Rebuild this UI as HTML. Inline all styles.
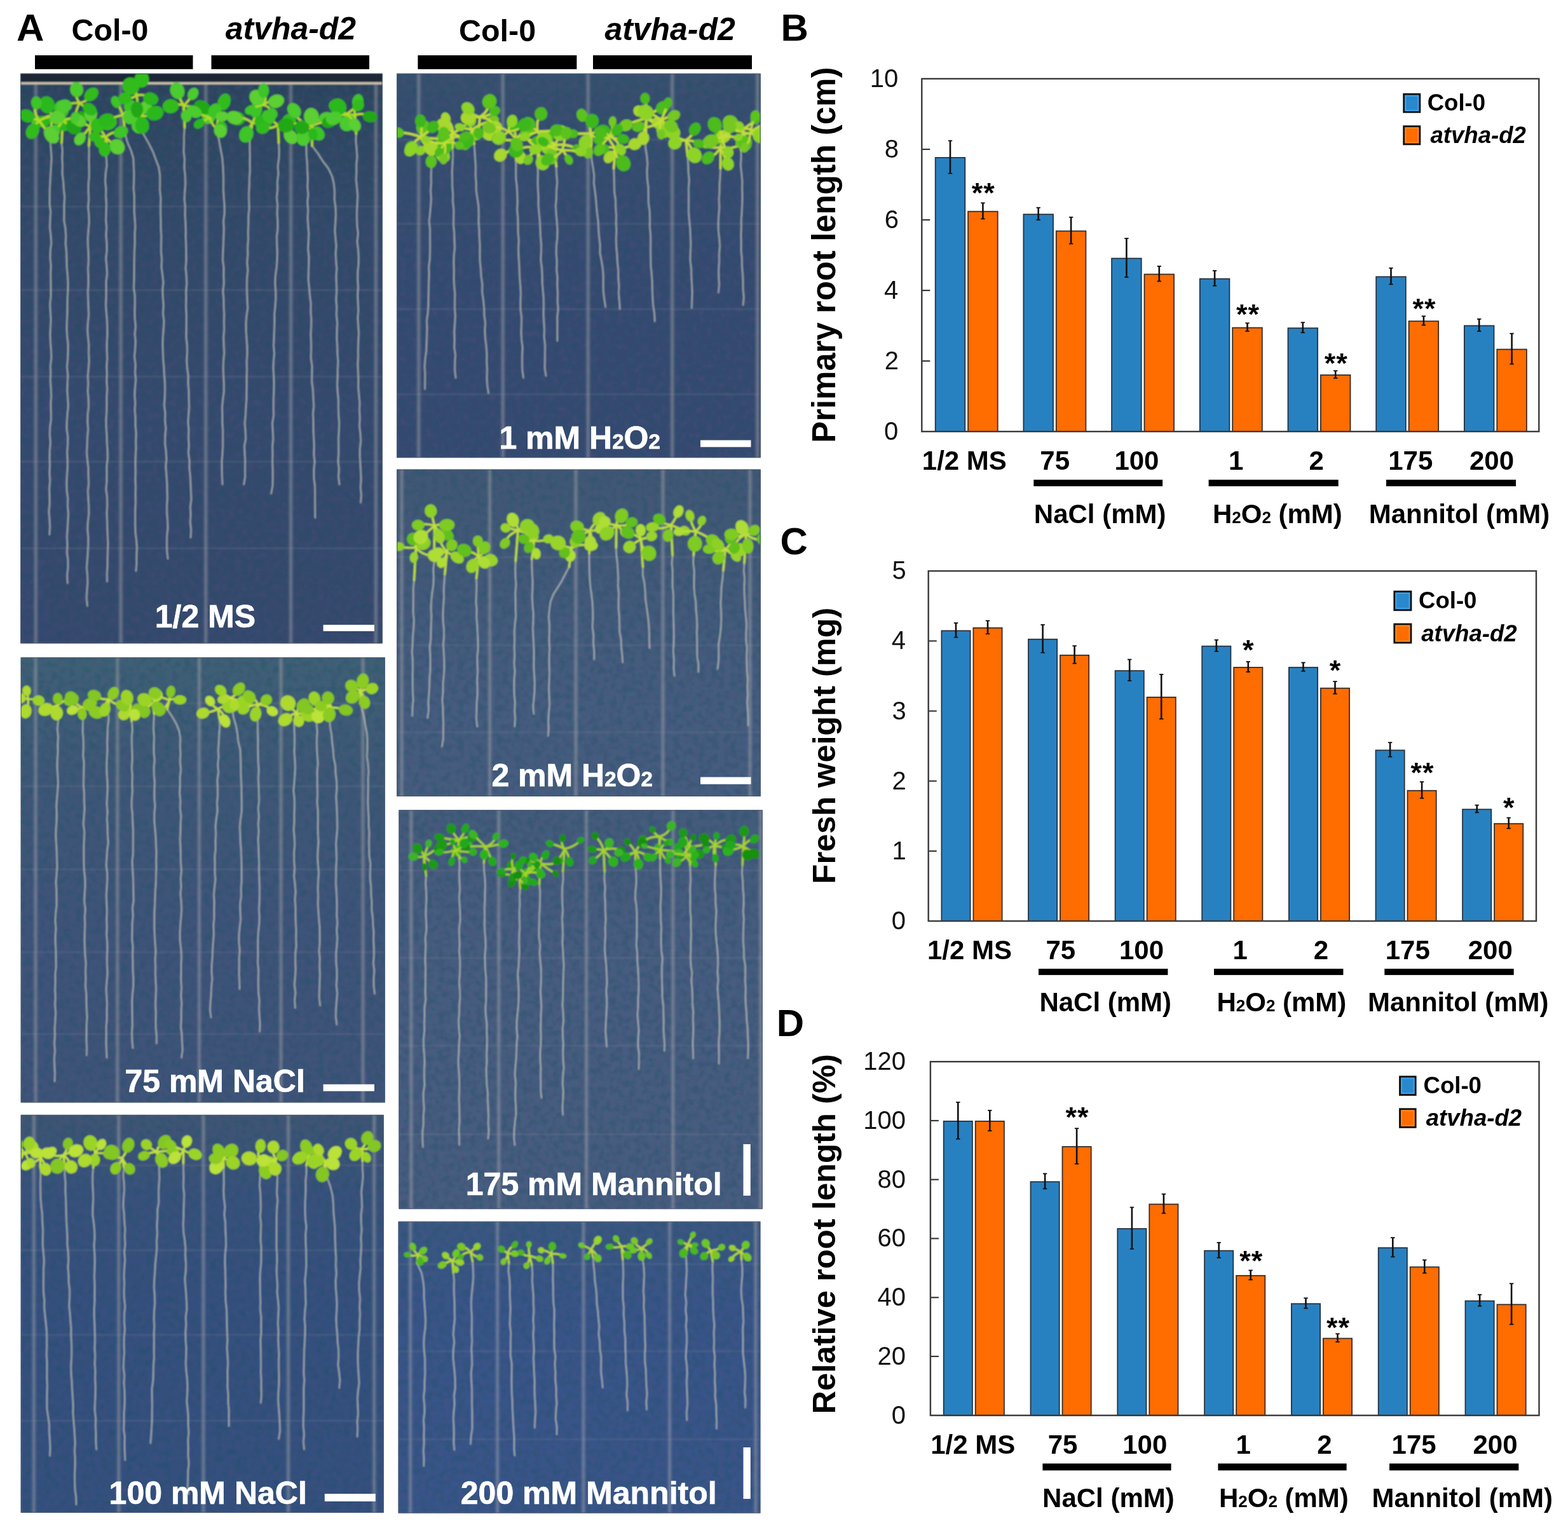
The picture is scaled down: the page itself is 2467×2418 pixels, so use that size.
<!DOCTYPE html>
<html><head><meta charset="utf-8"><title>Figure</title><style>html,body{margin:0;padding:0;background:#fff;}svg{display:block;}text{font-family:"Liberation Sans",Arial,sans-serif;}</style></head><body>
<svg width="2467" height="2418" viewBox="0 0 2467 2418" font-family="Liberation Sans, Arial, sans-serif">
<rect width="2467" height="2418" fill="#fff"/>
<filter id="soft" x="-2%" y="-2%" width="104%" height="104%"><feGaussianBlur stdDeviation="0.8"/></filter>
<filter id="mtA" x="0" y="0" width="100%" height="100%" color-interpolation-filters="sRGB"><feTurbulence type="fractalNoise" baseFrequency="0.1" numOctaves="2" seed="3"/><feColorMatrix type="matrix" values="0 0 0 0 0.12  0 0 0 0 0.32  0 0 0 0 0.40  3.2 0 0 0 -1.35"/></filter>
<filter id="mtB" x="0" y="0" width="100%" height="100%" color-interpolation-filters="sRGB"><feTurbulence type="fractalNoise" baseFrequency="0.1" numOctaves="2" seed="11"/><feColorMatrix type="matrix" values="0 0 0 0 0.32  0 0 0 0 0.31  0 0 0 0 0.50  0 3.2 0 0 -1.35"/></filter>
<text x="25.9" y="63.9" font-size="60.00" font-weight="bold" fill="#000">A</text>
<text x="112.5" y="63.9" font-size="48.40" font-weight="bold" fill="#000">Col-0</text>
<text x="354.8" y="62.3" font-size="49.90" font-weight="bold" font-style="italic" fill="#000">atvha-d2</text>
<text x="722.1" y="64.5" font-size="48.40" font-weight="bold" fill="#000">Col-0</text>
<text x="951.5" y="63.0" font-size="49.90" font-weight="bold" font-style="italic" fill="#000">atvha-d2</text>
<rect x="55" y="87" width="248.5" height="21.8" fill="#000"/>
<rect x="332.5" y="87" width="248.5" height="21.8" fill="#000"/>
<rect x="657.4" y="87" width="250.0" height="21.8" fill="#000"/>
<rect x="933" y="87" width="250.0" height="21.8" fill="#000"/>
<clipPath id="cp1"><rect x="32" y="115.5" width="570" height="896.9"/></clipPath>
<g clip-path="url(#cp1)"><g filter="url(#soft)">
<rect x="32" y="115.5" width="570" height="896.9" fill="#354a6e"/>
<linearGradient id="lg1" x1="0" y1="0" x2="0" y2="1"><stop offset="0" stop-color="#243c4c" stop-opacity="0.55"/><stop offset="0.28" stop-color="#2a4456" stop-opacity="0.2"/><stop offset="0.6" stop-color="#24404e" stop-opacity="0"/><stop offset="1" stop-color="#3a3a6a" stop-opacity="0.15"/></linearGradient>
<rect x="32" y="115.5" width="570" height="896.9" fill="url(#lg1)"/>
<rect x="32" y="115.5" width="570" height="896.9" filter="url(#mtA)" opacity="0.35"/>
<rect x="32" y="115.5" width="570" height="896.9" filter="url(#mtB)" opacity="0.25"/>
<rect x="52.3" y="115.5" width="8" height="896.9" fill="#a8a4ac" opacity="0.2"/>
<rect x="54.8" y="115.5" width="3" height="896.9" fill="#d8d0c8" opacity="0.2"/>
<rect x="186.0" y="115.5" width="8" height="896.9" fill="#a8a4ac" opacity="0.2"/>
<rect x="188.5" y="115.5" width="3" height="896.9" fill="#d8d0c8" opacity="0.2"/>
<rect x="319.8" y="115.5" width="8" height="896.9" fill="#a8a4ac" opacity="0.2"/>
<rect x="322.3" y="115.5" width="3" height="896.9" fill="#d8d0c8" opacity="0.2"/>
<rect x="453.6" y="115.5" width="8" height="896.9" fill="#a8a4ac" opacity="0.2"/>
<rect x="456.1" y="115.5" width="3" height="896.9" fill="#d8d0c8" opacity="0.2"/>
<rect x="587.4" y="115.5" width="8" height="896.9" fill="#a8a4ac" opacity="0.2"/>
<rect x="589.9" y="115.5" width="3" height="896.9" fill="#d8d0c8" opacity="0.2"/>
<rect x="32" y="323.5" width="570" height="3" fill="#a8a0a8" opacity="0.13"/>
<rect x="32" y="454.9" width="570" height="3" fill="#a8a0a8" opacity="0.13"/>
<rect x="32" y="591.1" width="570" height="3" fill="#a8a0a8" opacity="0.13"/>
<rect x="32" y="724.8" width="570" height="3" fill="#a8a0a8" opacity="0.13"/>
<rect x="32" y="861.0" width="570" height="3" fill="#a8a0a8" opacity="0.13"/>
<rect x="32" y="115.5" width="570" height="14" fill="#1c2834"/><rect x="32" y="129.3" width="570" height="3.4" fill="#d2c8b2"/>
<path d="M80.2,212.7 L79.3,224.8 L80.3,236.9 L81.1,248.9 L80.4,261.0 L79.6,273.1 L79.0,285.2 L78.3,297.3 L78.2,309.4 L78.1,321.4 L79.6,333.5 L78.9,345.6 L78.4,357.7 L79.9,369.8 L80.7,381.9 L79.3,393.9 L78.9,406.0 L80.2,418.1 L79.6,430.2 L79.8,442.3 L80.0,454.4 L80.0,466.4 L78.6,478.5 L79.3,490.6 L80.0,502.7 L79.4,514.8 L78.9,526.8 L79.4,538.9 L80.4,551.0 L80.8,563.1 L79.3,575.2 L79.7,587.3 L79.2,599.3 L80.2,611.4 L80.6,623.5 L79.8,635.6 L80.2,647.7 L80.4,659.8 L78.7,671.8 L78.3,683.9 L79.4,696.0 L78.3,708.1 L78.1,720.2 L78.4,732.3 L77.9,744.3 L78.7,756.4 L77.6,768.5 L78.0,780.6 L78.1,792.7 L76.9,804.8 L78.0,816.8 L78.6,828.9 L77.8,841.0" fill="none" stroke="#d0d0c8" stroke-width="2.3" stroke-linecap="round" stroke-linejoin="round" opacity="0.68"/>
<path d="M96.9,224.7 L98.3,236.9 L97.7,249.1 L98.4,261.3 L98.1,273.5 L99.6,285.8 L100.4,298.0 L101.7,310.2 L100.9,322.4 L100.9,334.6 L100.7,346.8 L102.9,359.0 L103.7,371.2 L103.2,383.4 L104.5,395.7 L104.8,407.9 L105.1,420.1 L106.3,432.3 L107.0,444.5 L106.8,456.6 L106.2,468.8 L106.0,480.9 L105.9,493.0 L105.3,505.1 L105.0,517.3 L105.7,529.4 L107.1,541.5 L107.0,553.7 L106.5,565.8 L105.4,577.9 L106.8,590.0 L106.2,602.2 L105.8,614.3 L106.6,626.4 L107.4,638.6 L106.1,650.7 L105.2,662.8 L105.0,674.9 L106.7,687.1 L106.6,699.2 L105.6,711.3 L106.3,723.4 L106.3,735.6 L105.4,747.7 L104.8,759.8 L105.1,772.0 L106.8,784.1 L106.4,796.2 L107.6,808.3 L106.8,820.5 L106.2,832.6 L105.3,844.7 L106.0,856.9 L105.4,869.0 L106.9,881.1 L107.0,893.2 L105.6,905.4 L106.4,917.5" fill="none" stroke="#d0d0c8" stroke-width="2.3" stroke-linecap="round" stroke-linejoin="round" opacity="0.68"/>
<path d="M139.9,229.4 L140.1,241.5 L139.9,253.5 L140.2,265.6 L140.3,277.7 L139.1,289.7 L139.2,301.8 L139.7,313.9 L138.6,325.9 L139.9,338.0 L140.2,350.1 L139.1,362.1 L138.2,374.2 L138.4,386.2 L139.1,398.3 L139.4,410.4 L138.4,422.4 L139.0,434.5 L139.1,446.6 L138.3,458.6 L138.6,470.7 L139.1,482.8 L139.6,494.8 L138.4,506.9 L137.6,519.0 L138.6,531.0 L139.8,543.1 L139.5,555.2 L140.2,567.2 L139.3,579.3 L138.2,591.4 L138.8,603.4 L138.1,615.5 L139.2,627.5 L139.5,639.6 L138.0,651.7 L137.7,663.7 L138.7,675.8 L137.5,687.9 L137.1,699.9 L136.5,712.0 L137.6,724.1 L139.0,736.1 L139.1,748.2 L139.6,760.3 L138.3,772.3 L138.9,784.4 L139.7,796.5 L139.8,808.5 L138.3,820.6 L137.7,832.6 L138.8,844.7 L138.8,856.8 L138.2,868.8 L137.4,880.9 L136.4,893.0 L137.5,905.0 L137.8,917.1 L136.8,929.2 L136.2,941.2 L137.5,953.3" fill="none" stroke="#d0d0c8" stroke-width="2.3" stroke-linecap="round" stroke-linejoin="round" opacity="0.68"/>
<path d="M166.2,236.6 L167.4,248.7 L168.0,260.8 L166.2,272.9 L165.5,285.1 L166.8,297.2 L166.6,309.3 L167.4,321.4 L167.1,333.5 L166.6,345.6 L167.7,357.7 L166.9,369.9 L167.9,382.0 L168.1,394.1 L166.7,406.2 L167.8,418.3 L168.6,430.4 L167.0,442.5 L167.1,454.7 L167.1,466.8 L166.5,478.9 L167.3,491.0 L168.3,503.1 L168.8,515.2 L168.9,527.3 L168.1,539.5 L168.2,551.6 L168.7,563.7 L167.8,575.8 L168.3,587.9 L167.8,600.0 L168.7,612.1 L167.9,624.3 L167.9,636.4 L167.7,648.5 L166.9,660.6 L167.2,672.7 L168.0,684.8 L168.3,696.9 L169.2,709.1 L169.4,721.2 L167.9,733.3 L168.0,745.4 L167.9,757.5 L166.8,769.6 L168.5,781.7 L168.7,793.9 L168.1,806.0 L168.5,818.1 L168.8,830.2 L169.3,842.3 L169.9,854.4 L169.5,866.5 L169.2,878.7 L169.1,890.8 L168.3,902.9 L168.6,915.0" fill="none" stroke="#d0d0c8" stroke-width="2.3" stroke-linecap="round" stroke-linejoin="round" opacity="0.68"/>
<path d="M197.2,212.7 L200.8,224.7 L206.1,236.6 L209.8,248.6 L210.3,260.6 L210.8,272.7 L210.6,284.7 L210.2,296.7 L211.3,308.8 L211.3,320.8 L211.2,332.8 L212.1,344.9 L212.8,356.9 L212.0,368.9 L212.2,380.9 L211.6,393.0 L211.3,405.0 L211.1,417.0 L211.1,429.1 L210.9,441.1 L210.4,453.1 L212.2,465.2 L212.3,477.2 L211.9,489.2 L212.2,501.3 L213.4,513.3 L212.1,525.3 L213.3,537.4 L212.6,549.4 L211.5,561.4 L213.2,573.4 L212.5,585.5 L213.7,597.5 L212.5,609.5 L211.8,621.6 L212.8,633.6 L212.1,645.6 L213.2,657.7 L213.0,669.7 L214.2,681.7 L213.7,693.8 L213.9,705.8 L213.3,717.8 L213.0,729.9 L213.3,741.9 L212.9,753.9 L213.4,766.0 L213.1,778.0 L213.4,790.0 L212.7,802.0 L212.7,814.1 L212.7,826.1 L213.1,838.1 L214.6,850.2 L215.5,862.2 L214.8,874.2 L214.9,886.3 L214.0,898.3" fill="none" stroke="#d0d0c8" stroke-width="2.3" stroke-linecap="round" stroke-linejoin="round" opacity="0.68"/>
<path d="M221.0,203.0 L228.0,215.0 L234.8,227.0 L240.7,238.9 L245.1,250.9 L249.7,262.9 L251.6,275.0 L251.7,287.1 L251.5,299.2 L252.9,311.2 L252.6,323.3 L252.6,335.4 L253.0,347.5 L253.1,359.6 L253.8,371.7 L253.6,383.7 L253.4,395.8 L254.6,407.9 L254.0,420.0 L255.6,432.1 L256.9,444.2 L255.7,456.2 L256.3,468.3 L257.3,480.4 L256.5,492.5 L257.9,504.6 L257.4,516.7 L256.4,528.8 L255.9,540.8 L256.3,552.9 L256.7,565.0 L257.8,577.1 L258.4,589.2 L259.4,601.3 L259.6,613.3 L259.2,625.4 L258.4,637.5 L259.9,649.6 L259.6,661.7 L260.9,673.8 L259.8,685.9 L259.6,697.9 L261.2,710.0 L261.9,722.1 L260.8,734.2 L261.8,746.3 L262.7,758.4 L263.0,770.4 L263.4,782.5 L262.6,794.6 L262.6,806.7 L263.6,818.8 L264.0,830.9 L262.7,842.9 L262.5,855.0 L262.7,867.1 L264.1,879.2" fill="none" stroke="#d0d0c8" stroke-width="2.3" stroke-linecap="round" stroke-linejoin="round" opacity="0.68"/>
<path d="M290.4,200.8 L289.5,213.3 L289.5,225.9 L289.0,238.4 L290.5,250.9 L289.9,263.4 L291.3,275.9 L291.7,288.4 L290.8,300.8 L290.1,313.1 L291.4,325.2 L291.1,337.3 L291.8,349.4 L292.3,361.5 L292.2,373.6 L292.7,385.7 L292.9,397.9 L293.0,410.0 L292.1,422.1 L293.3,434.2 L293.8,446.3 L292.7,458.4 L292.9,470.5 L292.6,482.6 L293.3,494.7 L293.3,506.8 L293.2,518.9 L293.0,531.0 L294.4,543.1 L294.5,555.2 L293.7,567.3 L294.6,579.5 L296.3,591.6 L296.0,603.7 L297.1,615.8 L297.2,627.9 L297.6,640.0 L296.7,652.1 L295.9,664.2 L296.9,676.3 L296.5,688.4 L297.3,700.5 L296.4,712.6 L298.1,724.7 L298.0,736.8 L299.3,748.9 L299.9,761.1 L300.4,773.2 L301.0,785.3 L299.4,797.4 L300.0,809.5 L299.3,821.6 L300.7,833.7 L300.0,845.8" fill="none" stroke="#d0d0c8" stroke-width="2.3" stroke-linecap="round" stroke-linejoin="round" opacity="0.68"/>
<path d="M340.6,205.6 L344.5,219.9 L347.0,234.2 L349.7,248.3 L350.8,261.9 L351.4,274.8 L351.6,287.2 L351.4,299.4 L352.2,311.6 L353.2,323.8 L353.2,336.0 L351.5,348.1 L352.3,360.3 L351.8,372.5 L351.4,384.7 L350.8,396.9 L350.4,409.0 L352.0,421.2 L351.8,433.4 L352.3,445.6 L350.8,457.7 L351.8,469.9 L352.0,482.1 L352.7,494.3 L352.4,506.5 L352.7,518.6 L351.6,530.8 L352.1,543.0 L352.8,555.2 L351.6,567.4 L351.2,579.5 L351.6,591.7 L352.3,603.9 L352.3,616.1 L350.7,628.2 L349.5,640.4 L349.8,652.6 L349.8,664.8 L350.6,677.0 L350.6,689.1 L350.6,701.3 L350.0,713.5 L349.0,725.7 L349.1,737.8 L349.4,750.0 L350.0,762.2" fill="none" stroke="#d0d0c8" stroke-width="2.3" stroke-linecap="round" stroke-linejoin="round" opacity="0.68"/>
<path d="M393.0,220.0 L392.9,232.0 L393.3,244.1 L393.1,256.1 L393.3,268.2 L392.4,280.2 L392.3,292.3 L391.5,304.3 L391.7,316.4 L392.1,328.4 L390.8,340.5 L390.8,352.5 L390.3,364.6 L390.6,376.6 L389.6,388.7 L389.8,400.7 L388.8,412.8 L389.9,424.8 L388.7,436.9 L388.4,448.9 L388.6,461.0 L389.1,473.0 L389.7,485.1 L387.9,497.1 L387.0,509.2 L387.2,521.2 L388.0,533.3 L388.8,545.3 L389.0,557.4 L388.2,569.4 L388.5,581.5 L388.1,593.5 L388.2,605.6 L387.9,617.6 L387.8,629.7 L386.8,641.7 L386.3,653.8 L385.1,665.8 L386.1,677.9 L386.7,689.9 L384.5,702.0 L385.1,714.0 L385.7,726.1 L385.5,738.1 L385.7,750.2 L383.6,762.2" fill="none" stroke="#d0d0c8" stroke-width="2.3" stroke-linecap="round" stroke-linejoin="round" opacity="0.68"/>
<path d="M438.5,224.7 L439.2,237.0 L438.9,249.2 L437.1,261.5 L437.9,273.7 L436.4,286.0 L436.7,298.3 L435.4,310.5 L436.7,322.8 L436.1,335.1 L436.8,347.3 L437.0,359.6 L435.5,371.8 L435.7,384.1 L436.3,396.4 L436.0,408.6 L435.2,420.9 L433.4,433.2 L432.8,445.4 L433.7,457.7 L433.8,469.9 L433.0,482.2 L431.7,494.5 L431.9,506.7 L431.5,519.0 L431.1,531.3 L430.4,543.5 L431.6,555.8 L430.4,568.0 L430.0,580.3 L430.8,592.6 L431.1,604.8 L430.8,617.1 L430.3,629.4 L430.3,641.6 L430.5,653.9 L428.5,666.1 L429.2,678.4 L429.7,690.7 L428.6,702.9 L428.9,715.2 L428.6,727.5 L429.1,739.7 L429.2,752.0 L428.9,764.2 L426.6,776.5" fill="none" stroke="#d0d0c8" stroke-width="2.3" stroke-linecap="round" stroke-linejoin="round" opacity="0.68"/>
<path d="M481.5,220.0 L482.0,232.3 L482.2,244.5 L483.3,256.8 L483.6,269.0 L484.4,281.3 L483.7,293.6 L484.9,305.8 L483.7,318.1 L484.7,330.3 L484.1,342.6 L484.8,354.9 L485.8,367.1 L485.3,379.4 L484.6,391.6 L486.0,403.9 L485.8,416.2 L485.4,428.4 L485.2,440.7 L486.5,452.9 L487.5,465.2 L489.1,477.5 L488.8,489.7 L489.8,502.0 L489.6,514.2 L488.9,526.5 L489.5,538.8 L489.6,551.0 L489.1,563.3 L491.0,575.6 L490.8,588.0 L490.6,600.4 L492.3,613.0 L492.9,625.6 L493.7,638.2 L492.5,650.8 L493.0,663.4 L493.0,676.0 L493.6,688.6 L494.3,701.2 L493.8,713.9 L495.1,726.5 L493.8,739.1 L493.9,751.7 L495.4,764.3 L495.6,776.9 L495.6,789.5 L495.7,802.1 L495.8,814.7" fill="none" stroke="#d0d0c8" stroke-width="2.3" stroke-linecap="round" stroke-linejoin="round" opacity="0.68"/>
<path d="M491.0,229.4 L500.2,241.4 L507.8,253.3 L516.8,265.3 L522.5,277.3 L525.3,289.3 L526.5,301.5 L526.2,313.6 L527.9,325.7 L528.4,337.8 L527.7,349.9 L526.9,362.1 L527.8,374.2 L529.0,386.3 L528.1,398.4 L528.7,410.6 L529.8,422.7 L528.9,434.8 L529.4,446.9 L529.6,459.1 L528.8,471.2 L529.8,483.3 L529.3,495.5 L530.7,507.6 L530.1,519.7 L529.9,531.8 L530.6,544.0 L530.9,556.1 L531.9,568.2 L531.3,580.3 L531.2,592.5 L530.5,604.6 L531.2,616.7 L532.4,628.8 L532.4,641.0 L532.7,653.1 L533.7,665.2 L533.3,677.3 L532.5,689.5 L532.7,701.6 L532.7,713.7 L532.0,725.8 L533.4,738.0 L532.5,750.1 L534.0,762.2" fill="none" stroke="#d0d0c8" stroke-width="2.3" stroke-linecap="round" stroke-linejoin="round" opacity="0.68"/>
<path d="M560.3,210.3 L559.9,222.4 L561.1,234.5 L561.9,246.6 L560.7,258.7 L560.8,270.8 L560.3,282.9 L561.6,295.0 L562.7,307.1 L562.2,319.1 L561.5,331.2 L561.5,343.3 L561.9,355.4 L563.4,367.5 L562.0,379.6 L563.4,391.7 L564.3,403.8 L564.1,415.9 L562.8,428.0 L562.7,440.1 L563.6,452.2 L562.6,464.3 L563.3,476.4 L563.8,488.5 L562.8,500.6 L563.7,512.6 L564.5,524.7 L563.8,536.8 L563.4,548.9 L563.5,561.0 L562.9,573.1 L563.4,585.2 L563.9,597.3 L563.7,609.4 L564.8,621.5 L565.9,633.6 L565.5,645.7 L566.3,657.8 L565.5,669.9 L567.0,682.0 L567.7,694.0 L566.2,706.1 L566.2,718.2 L566.9,730.3 L567.6,742.4 L568.1,754.5 L567.2,766.6 L568.4,778.7 L567.5,790.8" fill="none" stroke="#d0d0c8" stroke-width="2.3" stroke-linecap="round" stroke-linejoin="round" opacity="0.68"/>
<path d="M80.2,212.7 L81.5,181.7" stroke="#b2dc28" stroke-width="3.5" fill="none" stroke-linecap="round"/><path d="M96.9,224.7 L98.9,189.8" stroke="#b2dc28" stroke-width="3.5" fill="none" stroke-linecap="round"/><path d="M139.9,229.4 L142.1,199.2" stroke="#b2dc28" stroke-width="3.5" fill="none" stroke-linecap="round"/><path d="M166.2,236.6 L166.1,216.2" stroke="#b2dc28" stroke-width="3.5" fill="none" stroke-linecap="round"/><path d="M197.2,212.7 L193.6,180.6" stroke="#b2dc28" stroke-width="3.5" fill="none" stroke-linecap="round"/><path d="M221.0,203.0 L222.4,182.5" stroke="#b2dc28" stroke-width="3.5" fill="none" stroke-linecap="round"/><path d="M290.4,200.8 L289.6,166.1" stroke="#b2dc28" stroke-width="3.5" fill="none" stroke-linecap="round"/><path d="M340.6,205.6 L343.6,181.3" stroke="#b2dc28" stroke-width="3.5" fill="none" stroke-linecap="round"/><path d="M393.0,220.0 L397.0,193.4" stroke="#b2dc28" stroke-width="3.5" fill="none" stroke-linecap="round"/><path d="M438.5,224.7 L437.5,196.9" stroke="#b2dc28" stroke-width="3.5" fill="none" stroke-linecap="round"/><path d="M481.5,220.0 L481.4,194.4" stroke="#b2dc28" stroke-width="3.5" fill="none" stroke-linecap="round"/><path d="M491.0,229.4 L490.8,198.1" stroke="#b2dc28" stroke-width="3.5" fill="none" stroke-linecap="round"/><path d="M560.3,210.3 L558.6,180.9" stroke="#b2dc28" stroke-width="3.5" fill="none" stroke-linecap="round"/><path d="M81.5,181.7 Q88.1,174.8 95.6,168.6" fill="none" stroke="#b2dc28" stroke-width="3.5" stroke-linecap="round"/><path d="M81.5,181.7 Q91.2,187.0 99.3,194.0" fill="none" stroke="#b2dc28" stroke-width="3.5" stroke-linecap="round"/><path d="M81.5,181.7 Q68.6,183.1 60.2,192.0" fill="none" stroke="#b2dc28" stroke-width="3.5" stroke-linecap="round"/><path d="M81.5,181.7 Q77.5,173.4 74.1,164.9" fill="none" stroke="#b2dc28" stroke-width="3.5" stroke-linecap="round"/><ellipse cx="95.6" cy="168.6" rx="11.5" ry="9.9" transform="rotate(311 95.6 168.6)" fill="#3cc426"/><ellipse cx="99.3" cy="194.0" rx="13.4" ry="10.8" transform="rotate(401 99.3 194.0)" fill="#2cb81c"/><ellipse cx="60.2" cy="192.0" rx="11.2" ry="8.3" transform="rotate(509 60.2 192.0)" fill="#4ccb2e"/><ellipse cx="74.1" cy="164.9" rx="13.7" ry="11.7" transform="rotate(611 74.1 164.9)" fill="#2cb81c"/><path d="M98.9,189.8 Q106.1,196.6 116.0,199.8" fill="none" stroke="#b2dc28" stroke-width="3.5" stroke-linecap="round"/><path d="M98.9,189.8 Q93.0,199.4 84.7,207.4" fill="none" stroke="#b2dc28" stroke-width="3.5" stroke-linecap="round"/><path d="M98.9,189.8 Q82.7,186.5 66.9,191.1" fill="none" stroke="#b2dc28" stroke-width="3.5" stroke-linecap="round"/><path d="M98.9,189.8 Q93.2,181.5 97.4,172.5" fill="none" stroke="#b2dc28" stroke-width="3.5" stroke-linecap="round"/><path d="M98.9,189.8 Q112.6,184.9 127.3,183.3" fill="none" stroke="#b2dc28" stroke-width="3.5" stroke-linecap="round"/><ellipse cx="116.0" cy="199.8" rx="12.5" ry="10.7" transform="rotate(36 116.0 199.8)" fill="#22a814"/><ellipse cx="84.7" cy="207.4" rx="11.0" ry="9.5" transform="rotate(123 84.7 207.4)" fill="#4ccb2e"/><ellipse cx="66.9" cy="191.1" rx="12.1" ry="8.9" transform="rotate(177 66.9 191.1)" fill="#2cb81c"/><ellipse cx="97.4" cy="172.5" rx="12.2" ry="10.7" transform="rotate(266 97.4 172.5)" fill="#3cc426"/><ellipse cx="127.3" cy="183.3" rx="10.1" ry="8.2" transform="rotate(344 127.3 183.3)" fill="#22a814"/><path d="M142.1,199.2 Q144.1,189.1 142.7,178.8" fill="none" stroke="#b2dc28" stroke-width="3.5" stroke-linecap="round"/><path d="M142.1,199.2 Q156.4,197.0 170.1,192.5" fill="none" stroke="#b2dc28" stroke-width="3.5" stroke-linecap="round"/><path d="M142.1,199.2 Q155.7,208.4 156.5,223.6" fill="none" stroke="#b2dc28" stroke-width="3.5" stroke-linecap="round"/><path d="M142.1,199.2 Q134.5,209.2 125.8,218.4" fill="none" stroke="#b2dc28" stroke-width="3.5" stroke-linecap="round"/><path d="M142.1,199.2 Q132.6,195.4 124.5,189.6" fill="none" stroke="#b2dc28" stroke-width="3.5" stroke-linecap="round"/><ellipse cx="142.7" cy="178.8" rx="12.7" ry="10.2" transform="rotate(271 142.7 178.8)" fill="#5ccf30"/><ellipse cx="170.1" cy="192.5" rx="13.8" ry="12.1" transform="rotate(343 170.1 192.5)" fill="#30bc1e"/><ellipse cx="156.5" cy="223.6" rx="10.2" ry="8.1" transform="rotate(425 156.5 223.6)" fill="#30bc1e"/><ellipse cx="125.8" cy="218.4" rx="10.9" ry="8.2" transform="rotate(484 125.8 218.4)" fill="#5ccf30"/><ellipse cx="124.5" cy="189.6" rx="12.1" ry="9.1" transform="rotate(575 124.5 189.6)" fill="#5ccf30"/><path d="M166.1,216.2 Q161.1,206.3 153.0,198.2" fill="none" stroke="#b2dc28" stroke-width="3.5" stroke-linecap="round"/><path d="M166.1,216.2 Q175.5,206.2 190.1,207.7" fill="none" stroke="#b2dc28" stroke-width="3.5" stroke-linecap="round"/><path d="M166.1,216.2 Q174.2,224.6 184.3,230.9" fill="none" stroke="#b2dc28" stroke-width="3.5" stroke-linecap="round"/><path d="M166.1,216.2 Q171.0,225.8 164.8,234.8" fill="none" stroke="#b2dc28" stroke-width="3.5" stroke-linecap="round"/><path d="M166.1,216.2 Q157.9,212.7 149.2,215.1" fill="none" stroke="#b2dc28" stroke-width="3.5" stroke-linecap="round"/><ellipse cx="153.0" cy="198.2" rx="11.5" ry="10.7" transform="rotate(240 153.0 198.2)" fill="#30bc1e"/><ellipse cx="190.1" cy="207.7" rx="11.7" ry="9.0" transform="rotate(336 190.1 207.7)" fill="#3cc426"/><ellipse cx="184.3" cy="230.9" rx="12.6" ry="11.3" transform="rotate(405 184.3 230.9)" fill="#5ccf30"/><ellipse cx="164.8" cy="234.8" rx="11.4" ry="9.2" transform="rotate(453 164.8 234.8)" fill="#30bc1e"/><ellipse cx="149.2" cy="215.1" rx="9.5" ry="7.9" transform="rotate(545 149.2 215.1)" fill="#30bc1e"/><path d="M193.6,180.6 Q208.7,187.1 217.2,199.9" fill="none" stroke="#b2dc28" stroke-width="3.5" stroke-linecap="round"/><path d="M193.6,180.6 Q180.2,183.9 167.5,189.1" fill="none" stroke="#b2dc28" stroke-width="3.5" stroke-linecap="round"/><path d="M193.6,180.6 Q189.5,169.8 182.4,160.3" fill="none" stroke="#b2dc28" stroke-width="3.5" stroke-linecap="round"/><path d="M193.6,180.6 Q200.6,174.9 204.8,167.3" fill="none" stroke="#b2dc28" stroke-width="3.5" stroke-linecap="round"/><ellipse cx="217.2" cy="199.9" rx="11.0" ry="9.2" transform="rotate(46 217.2 199.9)" fill="#4ccb2e"/><ellipse cx="167.5" cy="189.1" rx="12.8" ry="10.3" transform="rotate(158 167.5 189.1)" fill="#2cb81c"/><ellipse cx="182.4" cy="160.3" rx="9.7" ry="7.2" transform="rotate(246 182.4 160.3)" fill="#3cc426"/><ellipse cx="204.8" cy="167.3" rx="10.4" ry="9.6" transform="rotate(304 204.8 167.3)" fill="#3cc426"/><path d="M222.4,182.5 Q213.6,179.9 205.6,184.3" fill="none" stroke="#b2dc28" stroke-width="3.5" stroke-linecap="round"/><path d="M222.4,182.5 Q227.5,176.2 229.6,168.6" fill="none" stroke="#b2dc28" stroke-width="3.5" stroke-linecap="round"/><path d="M222.4,182.5 Q233.9,183.5 243.7,178.0" fill="none" stroke="#b2dc28" stroke-width="3.5" stroke-linecap="round"/><path d="M222.4,182.5 Q222.6,189.9 223.7,197.2" fill="none" stroke="#b2dc28" stroke-width="3.5" stroke-linecap="round"/><ellipse cx="205.6" cy="184.3" rx="12.2" ry="11.1" transform="rotate(173 205.6 184.3)" fill="#4ccb2e"/><ellipse cx="229.6" cy="168.6" rx="11.0" ry="9.4" transform="rotate(292 229.6 168.6)" fill="#5ccf30"/><ellipse cx="243.7" cy="178.0" rx="13.7" ry="11.3" transform="rotate(345 243.7 178.0)" fill="#2cb81c"/><ellipse cx="223.7" cy="197.2" rx="13.4" ry="10.9" transform="rotate(446 223.7 197.2)" fill="#2cb81c"/><path d="M289.6,166.1 Q278.7,161.6 268.5,167.1" fill="none" stroke="#b2dc28" stroke-width="3.5" stroke-linecap="round"/><path d="M289.6,166.1 Q281.7,155.4 279.0,142.8" fill="none" stroke="#b2dc28" stroke-width="3.5" stroke-linecap="round"/><path d="M289.6,166.1 Q297.8,157.6 303.7,147.7" fill="none" stroke="#b2dc28" stroke-width="3.5" stroke-linecap="round"/><path d="M289.6,166.1 Q304.8,168.8 320.2,170.5" fill="none" stroke="#b2dc28" stroke-width="3.5" stroke-linecap="round"/><path d="M289.6,166.1 Q287.1,175.0 293.0,182.5" fill="none" stroke="#b2dc28" stroke-width="3.5" stroke-linecap="round"/><ellipse cx="268.5" cy="167.1" rx="12.7" ry="11.1" transform="rotate(176 268.5 167.1)" fill="#30bc1e"/><ellipse cx="279.0" cy="142.8" rx="13.3" ry="11.1" transform="rotate(250 279.0 142.8)" fill="#4ccb2e"/><ellipse cx="303.7" cy="147.7" rx="10.2" ry="8.0" transform="rotate(302 303.7 147.7)" fill="#4ccb2e"/><ellipse cx="320.2" cy="170.5" rx="11.0" ry="9.2" transform="rotate(370 320.2 170.5)" fill="#30bc1e"/><ellipse cx="293.0" cy="182.5" rx="9.8" ry="8.1" transform="rotate(441 293.0 182.5)" fill="#4ccb2e"/><path d="M343.6,181.3 Q343.6,169.2 352.7,160.2" fill="none" stroke="#b2dc28" stroke-width="3.5" stroke-linecap="round"/><path d="M343.6,181.3 Q359.7,178.8 373.6,186.4" fill="none" stroke="#b2dc28" stroke-width="3.5" stroke-linecap="round"/><path d="M343.6,181.3 Q350.1,190.6 348.7,201.6" fill="none" stroke="#b2dc28" stroke-width="3.5" stroke-linecap="round"/><path d="M343.6,181.3 Q336.9,186.1 328.3,185.8" fill="none" stroke="#b2dc28" stroke-width="3.5" stroke-linecap="round"/><path d="M343.6,181.3 Q329.4,177.5 318.2,169.0" fill="none" stroke="#b2dc28" stroke-width="3.5" stroke-linecap="round"/><ellipse cx="352.7" cy="160.2" rx="13.5" ry="9.8" transform="rotate(289 352.7 160.2)" fill="#30bc1e"/><ellipse cx="373.6" cy="186.4" rx="12.6" ry="10.6" transform="rotate(372 373.6 186.4)" fill="#22a814"/><ellipse cx="348.7" cy="201.6" rx="11.3" ry="8.7" transform="rotate(439 348.7 201.6)" fill="#30bc1e"/><ellipse cx="328.3" cy="185.8" rx="10.7" ry="8.9" transform="rotate(520 328.3 185.8)" fill="#4ccb2e"/><ellipse cx="318.2" cy="169.0" rx="13.5" ry="10.3" transform="rotate(571 318.2 169.0)" fill="#22a814"/><path d="M397.0,193.4 Q391.1,201.9 387.5,211.4" fill="none" stroke="#b2dc28" stroke-width="3.5" stroke-linecap="round"/><path d="M397.0,193.4 Q385.3,183.3 369.2,185.3" fill="none" stroke="#b2dc28" stroke-width="3.5" stroke-linecap="round"/><path d="M397.0,193.4 Q402.4,183.7 402.9,172.8" fill="none" stroke="#b2dc28" stroke-width="3.5" stroke-linecap="round"/><path d="M397.0,193.4 Q405.8,194.3 414.3,192.0" fill="none" stroke="#b2dc28" stroke-width="3.5" stroke-linecap="round"/><ellipse cx="387.5" cy="211.4" rx="13.2" ry="11.0" transform="rotate(113 387.5 211.4)" fill="#3cc426"/><ellipse cx="369.2" cy="185.3" rx="13.1" ry="10.3" transform="rotate(200 369.2 185.3)" fill="#5ccf30"/><ellipse cx="402.9" cy="172.8" rx="12.7" ry="9.4" transform="rotate(283 402.9 172.8)" fill="#3cc426"/><ellipse cx="414.3" cy="192.0" rx="13.6" ry="12.1" transform="rotate(354 414.3 192.0)" fill="#2cb81c"/><path d="M437.5,196.9 Q426.4,202.9 413.4,201.8" fill="none" stroke="#b2dc28" stroke-width="3.5" stroke-linecap="round"/><path d="M437.5,196.9 Q429.0,191.4 422.8,183.9" fill="none" stroke="#b2dc28" stroke-width="3.5" stroke-linecap="round"/><path d="M437.5,196.9 Q445.5,192.2 454.6,189.9" fill="none" stroke="#b2dc28" stroke-width="3.5" stroke-linecap="round"/><path d="M437.5,196.9 Q451.0,202.8 457.4,215.0" fill="none" stroke="#b2dc28" stroke-width="3.5" stroke-linecap="round"/><ellipse cx="413.4" cy="201.8" rx="10.4" ry="8.8" transform="rotate(166 413.4 201.8)" fill="#30bc1e"/><ellipse cx="422.8" cy="183.9" rx="11.7" ry="9.0" transform="rotate(228 422.8 183.9)" fill="#3cc426"/><ellipse cx="454.6" cy="189.9" rx="11.3" ry="10.4" transform="rotate(333 454.6 189.9)" fill="#30bc1e"/><ellipse cx="457.4" cy="215.0" rx="12.5" ry="9.8" transform="rotate(409 457.4 215.0)" fill="#5ccf30"/><path d="M481.4,194.4 Q497.0,189.5 513.2,186.4" fill="none" stroke="#b2dc28" stroke-width="3.5" stroke-linecap="round"/><path d="M481.4,194.4 Q487.1,205.5 499.9,210.0" fill="none" stroke="#b2dc28" stroke-width="3.5" stroke-linecap="round"/><path d="M481.4,194.4 Q473.8,204.3 477.4,215.9" fill="none" stroke="#b2dc28" stroke-width="3.5" stroke-linecap="round"/><path d="M481.4,194.4 Q465.4,192.3 450.2,197.2" fill="none" stroke="#b2dc28" stroke-width="3.5" stroke-linecap="round"/><path d="M481.4,194.4 Q466.2,188.3 462.8,173.8" fill="none" stroke="#b2dc28" stroke-width="3.5" stroke-linecap="round"/><ellipse cx="513.2" cy="186.4" rx="11.9" ry="10.0" transform="rotate(343 513.2 186.4)" fill="#4ccb2e"/><ellipse cx="499.9" cy="210.0" rx="12.1" ry="9.8" transform="rotate(406 499.9 210.0)" fill="#3cc426"/><ellipse cx="477.4" cy="215.9" rx="13.5" ry="11.0" transform="rotate(458 477.4 215.9)" fill="#4ccb2e"/><ellipse cx="450.2" cy="197.2" rx="12.9" ry="11.1" transform="rotate(534 450.2 197.2)" fill="#22a814"/><ellipse cx="462.8" cy="173.8" rx="12.5" ry="9.9" transform="rotate(594 462.8 173.8)" fill="#4ccb2e"/><path d="M490.8,198.1 Q493.5,204.5 492.3,211.2" fill="none" stroke="#b2dc28" stroke-width="3.5" stroke-linecap="round"/><path d="M490.8,198.1 Q482.5,196.7 475.0,200.2" fill="none" stroke="#b2dc28" stroke-width="3.5" stroke-linecap="round"/><path d="M490.8,198.1 Q487.6,190.8 489.9,183.2" fill="none" stroke="#b2dc28" stroke-width="3.5" stroke-linecap="round"/><path d="M490.8,198.1 Q503.2,191.2 517.8,191.9" fill="none" stroke="#b2dc28" stroke-width="3.5" stroke-linecap="round"/><ellipse cx="492.3" cy="211.2" rx="9.9" ry="7.2" transform="rotate(85 492.3 211.2)" fill="#2cb81c"/><ellipse cx="475.0" cy="200.2" rx="11.9" ry="10.7" transform="rotate(170 475.0 200.2)" fill="#22a814"/><ellipse cx="489.9" cy="183.2" rx="13.4" ry="11.7" transform="rotate(267 489.9 183.2)" fill="#5ccf30"/><ellipse cx="517.8" cy="191.9" rx="11.8" ry="9.0" transform="rotate(344 517.8 191.9)" fill="#22a814"/><path d="M558.6,180.9 Q555.8,189.3 547.0,193.3" fill="none" stroke="#b2dc28" stroke-width="3.5" stroke-linecap="round"/><path d="M558.6,180.9 Q540.6,181.6 530.5,168.3" fill="none" stroke="#b2dc28" stroke-width="3.5" stroke-linecap="round"/><path d="M558.6,180.9 Q555.6,169.6 562.9,160.0" fill="none" stroke="#b2dc28" stroke-width="3.5" stroke-linecap="round"/><path d="M558.6,180.9 Q571.2,176.5 582.1,183.6" fill="none" stroke="#b2dc28" stroke-width="3.5" stroke-linecap="round"/><ellipse cx="547.0" cy="193.3" rx="13.6" ry="11.9" transform="rotate(127 547.0 193.3)" fill="#4ccb2e"/><ellipse cx="530.5" cy="168.3" rx="13.6" ry="10.2" transform="rotate(209 530.5 168.3)" fill="#4ccb2e"/><ellipse cx="562.9" cy="160.0" rx="12.1" ry="8.8" transform="rotate(279 562.9 160.0)" fill="#3cc426"/><ellipse cx="582.1" cy="183.6" rx="11.4" ry="8.9" transform="rotate(368 582.1 183.6)" fill="#22a814"/><path d="M62.0,190.0 Q53.3,196.5 51.2,206.4" fill="none" stroke="#b2dc28" stroke-width="3.7" stroke-linecap="round"/><path d="M62.0,190.0 Q51.8,187.0 42.4,182.3" fill="none" stroke="#b2dc28" stroke-width="3.7" stroke-linecap="round"/><path d="M62.0,190.0 Q51.2,177.0 57.3,161.9" fill="none" stroke="#b2dc28" stroke-width="3.7" stroke-linecap="round"/><path d="M62.0,190.0 Q74.6,180.7 90.2,184.8" fill="none" stroke="#b2dc28" stroke-width="3.7" stroke-linecap="round"/><path d="M62.0,190.0 Q69.6,202.5 81.0,212.3" fill="none" stroke="#b2dc28" stroke-width="3.7" stroke-linecap="round"/><ellipse cx="51.2" cy="206.4" rx="12.7" ry="10.0" transform="rotate(118 51.2 206.4)" fill="#30bc1e"/><ellipse cx="42.4" cy="182.3" rx="12.3" ry="9.8" transform="rotate(206 42.4 182.3)" fill="#2cb81c"/><ellipse cx="57.3" cy="161.9" rx="10.3" ry="8.4" transform="rotate(262 57.3 161.9)" fill="#3cc426"/><ellipse cx="90.2" cy="184.8" rx="12.4" ry="10.7" transform="rotate(347 90.2 184.8)" fill="#5ccf30"/><ellipse cx="81.0" cy="212.3" rx="14.6" ry="10.7" transform="rotate(416 81.0 212.3)" fill="#5ccf30"/><path d="M125.0,162.0 Q117.6,152.3 120.6,140.9" fill="none" stroke="#b2dc28" stroke-width="3.3" stroke-linecap="round"/><path d="M125.0,162.0 Q138.4,159.8 143.6,148.6" fill="none" stroke="#b2dc28" stroke-width="3.3" stroke-linecap="round"/><path d="M125.0,162.0 Q132.1,168.2 141.1,171.8" fill="none" stroke="#b2dc28" stroke-width="3.3" stroke-linecap="round"/><path d="M125.0,162.0 Q119.5,173.3 117.9,185.5" fill="none" stroke="#b2dc28" stroke-width="3.3" stroke-linecap="round"/><path d="M125.0,162.0 Q112.1,161.1 100.9,166.9" fill="none" stroke="#b2dc28" stroke-width="3.3" stroke-linecap="round"/><ellipse cx="120.6" cy="140.9" rx="11.8" ry="10.4" transform="rotate(260 120.6 140.9)" fill="#4ccb2e"/><ellipse cx="143.6" cy="148.6" rx="12.5" ry="9.2" transform="rotate(318 143.6 148.6)" fill="#30bc1e"/><ellipse cx="141.1" cy="171.8" rx="11.8" ry="8.9" transform="rotate(397 141.1 171.8)" fill="#2cb81c"/><ellipse cx="117.9" cy="185.5" rx="9.6" ry="7.1" transform="rotate(464 117.9 185.5)" fill="#4ccb2e"/><ellipse cx="100.9" cy="166.9" rx="12.3" ry="10.2" transform="rotate(526 100.9 166.9)" fill="#4ccb2e"/><path d="M215.0,150.0 Q210.4,142.7 205.8,135.5" fill="none" stroke="#b2dc28" stroke-width="3.5" stroke-linecap="round"/><path d="M215.0,150.0 Q211.4,135.7 222.8,125.2" fill="none" stroke="#b2dc28" stroke-width="3.5" stroke-linecap="round"/><path d="M215.0,150.0 Q227.8,147.2 237.2,155.5" fill="none" stroke="#b2dc28" stroke-width="3.5" stroke-linecap="round"/><path d="M215.0,150.0 Q217.2,161.1 215.6,172.4" fill="none" stroke="#b2dc28" stroke-width="3.5" stroke-linecap="round"/><path d="M215.0,150.0 Q206.9,155.9 196.6,154.6" fill="none" stroke="#b2dc28" stroke-width="3.5" stroke-linecap="round"/><ellipse cx="205.8" cy="135.5" rx="13.9" ry="13.2" transform="rotate(243 205.8 135.5)" fill="#30bc1e"/><ellipse cx="222.8" cy="125.2" rx="12.7" ry="11.6" transform="rotate(284 222.8 125.2)" fill="#30bc1e"/><ellipse cx="237.2" cy="155.5" rx="12.0" ry="9.9" transform="rotate(377 237.2 155.5)" fill="#2cb81c"/><ellipse cx="215.6" cy="172.4" rx="12.7" ry="9.7" transform="rotate(449 215.6 172.4)" fill="#22a814"/><ellipse cx="196.6" cy="154.6" rx="10.3" ry="9.2" transform="rotate(523 196.6 154.6)" fill="#30bc1e"/><path d="M330.0,185.0 Q317.3,181.4 305.6,175.6" fill="none" stroke="#b2dc28" stroke-width="3.3" stroke-linecap="round"/><path d="M330.0,185.0 Q336.2,181.0 338.1,174.4" fill="none" stroke="#b2dc28" stroke-width="3.3" stroke-linecap="round"/><path d="M330.0,185.0 Q339.5,182.0 349.5,183.3" fill="none" stroke="#b2dc28" stroke-width="3.3" stroke-linecap="round"/><path d="M330.0,185.0 Q333.3,198.7 346.7,206.0" fill="none" stroke="#b2dc28" stroke-width="3.3" stroke-linecap="round"/><path d="M330.0,185.0 Q321.4,189.5 313.4,194.8" fill="none" stroke="#b2dc28" stroke-width="3.3" stroke-linecap="round"/><ellipse cx="305.6" cy="175.6" rx="12.5" ry="9.1" transform="rotate(206 305.6 175.6)" fill="#4ccb2e"/><ellipse cx="338.1" cy="174.4" rx="12.1" ry="10.1" transform="rotate(302 338.1 174.4)" fill="#3cc426"/><ellipse cx="349.5" cy="183.3" rx="10.3" ry="7.9" transform="rotate(354 349.5 183.3)" fill="#5ccf30"/><ellipse cx="346.7" cy="206.0" rx="10.9" ry="9.9" transform="rotate(418 346.7 206.0)" fill="#5ccf30"/><ellipse cx="313.4" cy="194.8" rx="9.4" ry="6.8" transform="rotate(504 313.4 194.8)" fill="#2cb81c"/><path d="M415.0,165.0 Q423.1,157.7 434.5,159.2" fill="none" stroke="#b2dc28" stroke-width="3.3" stroke-linecap="round"/><path d="M415.0,165.0 Q425.5,168.6 428.5,178.3" fill="none" stroke="#b2dc28" stroke-width="3.3" stroke-linecap="round"/><path d="M415.0,165.0 Q403.2,166.2 394.2,173.1" fill="none" stroke="#b2dc28" stroke-width="3.3" stroke-linecap="round"/><path d="M415.0,165.0 Q413.0,157.0 404.5,153.7" fill="none" stroke="#b2dc28" stroke-width="3.3" stroke-linecap="round"/><path d="M415.0,165.0 Q420.9,153.7 414.7,142.5" fill="none" stroke="#b2dc28" stroke-width="3.3" stroke-linecap="round"/><ellipse cx="434.5" cy="159.2" rx="12.7" ry="10.4" transform="rotate(340 434.5 159.2)" fill="#5ccf30"/><ellipse cx="428.5" cy="178.3" rx="9.2" ry="7.6" transform="rotate(411 428.5 178.3)" fill="#3cc426"/><ellipse cx="394.2" cy="173.1" rx="9.3" ry="7.0" transform="rotate(514 394.2 173.1)" fill="#3cc426"/><ellipse cx="404.5" cy="153.7" rx="13.0" ry="11.6" transform="rotate(593 404.5 153.7)" fill="#5ccf30"/><ellipse cx="414.7" cy="142.5" rx="11.4" ry="8.5" transform="rotate(629 414.7 142.5)" fill="#3cc426"/><path d="M545.0,180.0 Q535.4,176.6 531.8,168.1" fill="none" stroke="#b2dc28" stroke-width="3.5" stroke-linecap="round"/><path d="M545.0,180.0 Q554.1,172.7 563.6,166.0" fill="none" stroke="#b2dc28" stroke-width="3.5" stroke-linecap="round"/><path d="M545.0,180.0 Q555.4,185.8 558.3,196.5" fill="none" stroke="#b2dc28" stroke-width="3.5" stroke-linecap="round"/><path d="M545.0,180.0 Q534.2,180.4 525.4,186.1" fill="none" stroke="#b2dc28" stroke-width="3.5" stroke-linecap="round"/><ellipse cx="531.8" cy="168.1" rx="13.9" ry="12.7" transform="rotate(229 531.8 168.1)" fill="#2cb81c"/><ellipse cx="563.6" cy="166.0" rx="9.7" ry="8.6" transform="rotate(317 563.6 166.0)" fill="#30bc1e"/><ellipse cx="558.3" cy="196.5" rx="11.1" ry="8.9" transform="rotate(417 558.3 196.5)" fill="#5ccf30"/><ellipse cx="525.4" cy="186.1" rx="12.8" ry="10.3" transform="rotate(519 525.4 186.1)" fill="#4ccb2e"/>

</g></g>
<rect x="32.75" y="116.25" width="568.50" height="895.40" fill="none" stroke="#263654" stroke-width="1.5" opacity="0.55"/>
<text x="243.7" y="986.6" font-size="50.00" font-weight="bold" fill="#fff" stroke="#fff" stroke-width="0.7">1/2 MS</text>
<rect x="508.6" y="982.9" width="80.4" height="10.1" fill="#fff"/>
<clipPath id="cp2"><rect x="32.5" y="1034" width="573.5" height="700.7"/></clipPath>
<g clip-path="url(#cp2)"><g filter="url(#soft)">
<rect x="32.5" y="1034" width="573.5" height="700.7" fill="#3d5378"/>
<linearGradient id="lg2" x1="0" y1="0" x2="0" y2="1"><stop offset="0" stop-color="#3f6a72" stop-opacity="0.6"/><stop offset="0.3" stop-color="#3f6a72" stop-opacity="0.2"/><stop offset="0.6" stop-color="#3f6a72" stop-opacity="0"/><stop offset="1" stop-color="#3f6a72" stop-opacity="0"/></linearGradient>
<rect x="32.5" y="1034" width="573.5" height="700.7" fill="url(#lg2)"/>
<rect x="32.5" y="1034" width="573.5" height="700.7" filter="url(#mtA)" opacity="0.35"/>
<rect x="32.5" y="1034" width="573.5" height="700.7" filter="url(#mtB)" opacity="0.25"/>
<rect x="52.0" y="1034" width="8" height="700.7" fill="#a8a4ac" opacity="0.2"/>
<rect x="54.5" y="1034" width="3" height="700.7" fill="#d8d0c8" opacity="0.2"/>
<rect x="180.8" y="1034" width="8" height="700.7" fill="#a8a4ac" opacity="0.2"/>
<rect x="183.3" y="1034" width="3" height="700.7" fill="#d8d0c8" opacity="0.2"/>
<rect x="309.5" y="1034" width="8" height="700.7" fill="#a8a4ac" opacity="0.2"/>
<rect x="312.0" y="1034" width="3" height="700.7" fill="#d8d0c8" opacity="0.2"/>
<rect x="438.0" y="1034" width="8" height="700.7" fill="#a8a4ac" opacity="0.2"/>
<rect x="440.5" y="1034" width="3" height="700.7" fill="#d8d0c8" opacity="0.2"/>
<rect x="567.0" y="1034" width="8" height="700.7" fill="#a8a4ac" opacity="0.2"/>
<rect x="569.5" y="1034" width="3" height="700.7" fill="#d8d0c8" opacity="0.2"/>
<rect x="32.5" y="1105.0" width="573.5" height="3" fill="#a8a0a8" opacity="0.13"/>
<rect x="32.5" y="1235.5" width="573.5" height="3" fill="#a8a0a8" opacity="0.13"/>
<rect x="32.5" y="1366.1" width="573.5" height="3" fill="#a8a0a8" opacity="0.13"/>
<rect x="32.5" y="1496.5" width="573.5" height="3" fill="#a8a0a8" opacity="0.13"/>
<rect x="32.5" y="1625.3" width="573.5" height="3" fill="#a8a0a8" opacity="0.13"/>

<path d="M91.5,1123.0 L91.5,1135.0 L90.2,1147.1 L91.6,1159.2 L90.8,1171.2 L91.1,1183.2 L90.2,1195.3 L90.0,1207.3 L90.7,1219.4 L91.5,1231.5 L90.6,1243.5 L89.7,1255.5 L88.7,1267.6 L89.2,1279.7 L89.0,1291.7 L88.1,1303.8 L87.8,1315.8 L88.6,1327.9 L89.2,1339.9 L89.6,1352.0 L89.9,1364.0 L89.0,1376.0 L88.0,1388.1 L88.8,1400.2 L89.0,1412.2 L89.0,1424.2 L87.6,1436.3 L86.9,1448.3 L88.0,1460.4 L87.1,1472.5 L87.2,1484.5 L87.9,1496.6 L88.0,1508.6 L88.3,1520.7 L86.8,1532.7 L87.1,1544.8 L86.6,1556.8 L87.2,1568.9 L86.5,1580.9 L87.6,1593.0 L86.9,1605.0 L86.1,1617.1 L86.4,1629.1 L85.5,1641.2 L86.5,1653.2 L85.3,1665.2 L85.8,1677.3 L86.4,1689.3 L86.0,1701.4" fill="none" stroke="#d0d0c8" stroke-width="2.3" stroke-linecap="round" stroke-linejoin="round" opacity="0.68"/>
<path d="M130.7,1127.0 L130.4,1139.1 L130.1,1151.2 L131.2,1163.4 L131.4,1175.5 L130.7,1187.6 L132.1,1199.7 L131.8,1211.9 L131.6,1224.0 L131.4,1236.1 L132.5,1248.2 L132.4,1260.3 L133.0,1272.5 L132.1,1284.6 L131.2,1296.7 L132.8,1308.8 L132.3,1321.0 L131.8,1333.1 L131.8,1345.2 L131.9,1357.3 L132.4,1369.5 L133.8,1381.6 L134.0,1393.7 L133.2,1405.8 L132.6,1417.9 L134.3,1430.1 L133.3,1442.2 L133.7,1454.3 L133.3,1466.4 L133.0,1478.6 L133.4,1490.7 L133.8,1502.8 L135.2,1514.9 L134.5,1527.1 L134.9,1539.2 L134.4,1551.3 L135.8,1563.4 L135.9,1575.5 L136.3,1587.7 L137.0,1599.8 L136.2,1611.9 L136.1,1624.0 L135.9,1636.2 L136.6,1648.3 L136.3,1660.4" fill="none" stroke="#d0d0c8" stroke-width="2.3" stroke-linecap="round" stroke-linejoin="round" opacity="0.68"/>
<path d="M169.9,1119.5 L171.0,1131.6 L169.5,1143.7 L169.1,1155.8 L168.7,1167.9 L169.0,1180.0 L168.2,1192.1 L167.7,1204.2 L168.0,1216.3 L168.9,1228.4 L169.3,1240.5 L168.7,1252.6 L168.0,1264.7 L169.1,1276.8 L168.3,1288.9 L169.2,1301.0 L169.3,1313.1 L170.3,1325.2 L168.7,1337.3 L167.9,1349.4 L167.2,1361.5 L168.7,1373.6 L168.7,1385.7 L167.9,1397.8 L167.3,1409.9 L167.8,1422.0 L168.4,1434.1 L167.7,1446.2 L168.2,1458.3 L167.6,1470.4 L168.7,1482.5 L168.9,1494.6 L168.3,1506.7 L168.5,1518.8 L169.1,1530.9 L168.1,1543.0 L167.1,1555.1 L167.7,1567.2 L168.4,1579.3 L168.1,1591.4 L168.2,1603.5 L167.1,1615.6 L167.3,1627.7 L167.0,1639.8 L167.5,1651.9 L168.0,1664.0" fill="none" stroke="#d0d0c8" stroke-width="2.3" stroke-linecap="round" stroke-linejoin="round" opacity="0.68"/>
<path d="M207.2,1134.4 L208.4,1146.7 L207.3,1158.9 L207.4,1171.2 L207.9,1183.4 L208.2,1195.7 L207.2,1207.9 L208.3,1220.2 L207.8,1232.4 L208.4,1244.7 L207.3,1256.9 L207.1,1269.2 L208.4,1281.4 L208.7,1293.7 L209.5,1305.9 L209.4,1318.2 L209.4,1330.4 L209.4,1342.7 L208.0,1354.9 L208.5,1367.2 L209.4,1379.4 L209.7,1391.7 L209.9,1404.0 L210.3,1416.2 L208.4,1428.5 L209.3,1440.7 L208.1,1453.0 L208.0,1465.2 L207.7,1477.5 L209.1,1489.7 L208.5,1502.0 L209.0,1514.2 L209.0,1526.5 L209.9,1538.7 L209.8,1551.0 L208.5,1563.2 L207.7,1575.5 L208.0,1587.7 L208.1,1600.0 L208.3,1612.2 L207.5,1624.5 L207.9,1636.7 L209.0,1649.0" fill="none" stroke="#d0d0c8" stroke-width="2.3" stroke-linecap="round" stroke-linejoin="round" opacity="0.68"/>
<path d="M242.6,1123.0 L241.8,1135.1 L241.5,1147.1 L242.5,1159.2 L242.1,1171.3 L242.0,1183.3 L243.2,1195.4 L242.2,1207.4 L242.4,1219.5 L243.4,1231.6 L242.9,1243.6 L242.8,1255.7 L244.0,1267.8 L242.8,1279.8 L242.8,1291.9 L243.9,1303.9 L245.0,1316.0 L245.4,1328.1 L246.1,1340.1 L245.7,1352.2 L245.9,1364.3 L245.5,1376.3 L245.3,1388.4 L244.4,1400.4 L244.0,1412.5 L243.5,1424.6 L242.9,1436.6 L242.8,1448.7 L242.8,1460.8 L243.4,1472.8 L244.1,1484.9 L245.0,1496.9 L244.2,1509.0 L244.6,1521.1 L244.4,1533.1 L245.1,1545.2 L245.6,1557.3 L245.0,1569.3 L244.6,1581.4 L245.3,1593.4 L245.0,1605.5 L245.2,1617.6 L246.4,1629.6 L246.3,1641.7" fill="none" stroke="#d0d0c8" stroke-width="2.3" stroke-linecap="round" stroke-linejoin="round" opacity="0.68"/>
<path d="M263.0,1115.8 L270.6,1127.0 L277.2,1138.3 L281.9,1149.9 L283.7,1161.8 L283.4,1173.9 L284.0,1186.2 L283.3,1198.4 L284.5,1210.7 L283.2,1222.9 L283.3,1235.2 L282.6,1247.4 L283.8,1259.7 L283.4,1271.9 L284.8,1284.2 L284.1,1296.4 L283.9,1308.7 L283.3,1320.9 L284.0,1333.2 L284.2,1345.4 L284.4,1357.7 L285.5,1369.9 L284.2,1382.2 L285.0,1394.4 L283.9,1406.7 L285.2,1419.0 L285.7,1431.2 L284.8,1443.5 L283.7,1455.7 L283.1,1468.0 L283.2,1480.2 L284.8,1492.5 L285.5,1504.7 L285.0,1517.0 L285.0,1529.2 L284.7,1541.5 L285.7,1553.7 L284.7,1566.0 L285.8,1578.2 L285.2,1590.5 L285.2,1602.7 L284.5,1615.0 L286.0,1627.2 L286.5,1639.5 L287.3,1651.7 L285.5,1664.0" fill="none" stroke="#d0d0c8" stroke-width="2.3" stroke-linecap="round" stroke-linejoin="round" opacity="0.68"/>
<path d="M345.2,1130.7 L345.9,1142.8 L344.8,1154.8 L344.3,1166.9 L343.3,1178.9 L343.9,1191.0 L342.7,1203.0 L343.7,1215.1 L341.9,1227.1 L342.4,1239.2 L342.6,1251.2 L341.4,1263.3 L342.2,1275.3 L340.4,1287.4 L339.1,1299.4 L339.6,1311.5 L339.0,1323.5 L339.2,1335.6 L337.8,1347.6 L338.1,1359.7 L338.0,1371.7 L338.9,1383.8 L337.5,1395.8 L336.4,1407.9 L337.2,1419.9 L336.8,1432.0 L337.0,1444.0 L335.8,1456.1 L336.4,1468.1 L335.6,1480.2 L334.6,1492.2 L334.3,1504.3 L333.3,1516.3 L332.9,1528.4 L333.9,1540.4 L332.6,1552.5 L332.2,1564.5 L331.1,1576.6 L330.4,1588.6 L332.0,1600.7" fill="none" stroke="#d0d0c8" stroke-width="2.3" stroke-linecap="round" stroke-linejoin="round" opacity="0.68"/>
<path d="M365.7,1115.8 L367.4,1128.5 L371.2,1141.2 L373.5,1153.8 L374.8,1166.5 L378.0,1179.0 L378.5,1191.3 L378.8,1203.5 L378.8,1215.7 L379.4,1227.8 L380.0,1240.0 L380.0,1252.1 L380.3,1264.3 L380.2,1276.4 L378.5,1288.6 L377.3,1300.7 L377.9,1312.9 L378.3,1325.1 L379.3,1337.2 L379.7,1349.4 L380.1,1361.5 L380.1,1373.7 L380.2,1385.8 L379.2,1398.0 L379.5,1410.1 L377.7,1422.3 L378.0,1434.5 L378.7,1446.6 L377.1,1458.8 L376.0,1470.9 L376.0,1483.1 L377.2,1495.2 L376.2,1507.4 L376.4,1519.5 L376.1,1531.7 L376.7,1543.8 L376.9,1556.0" fill="none" stroke="#d0d0c8" stroke-width="2.3" stroke-linecap="round" stroke-linejoin="round" opacity="0.68"/>
<path d="M404.9,1127.0 L405.5,1139.1 L405.5,1151.2 L405.9,1163.3 L405.8,1175.4 L406.0,1187.5 L406.3,1199.6 L407.2,1211.7 L406.4,1223.8 L406.9,1235.9 L407.3,1248.0 L407.6,1260.1 L406.2,1272.2 L407.3,1284.3 L406.3,1296.4 L407.0,1308.5 L406.1,1320.6 L406.7,1332.7 L407.1,1344.8 L407.6,1356.9 L407.5,1369.0 L407.8,1381.0 L408.4,1393.1 L408.4,1405.2 L408.3,1417.3 L407.4,1429.4 L408.2,1441.5 L407.8,1453.6 L406.5,1465.7 L405.8,1477.8 L405.7,1489.9 L405.9,1502.0 L405.5,1514.1 L406.7,1526.2 L406.4,1538.3 L406.4,1550.4 L406.7,1562.5 L408.2,1574.6 L407.5,1586.7 L408.3,1598.8 L409.1,1610.9 L408.6,1623.0" fill="none" stroke="#d0d0c8" stroke-width="2.3" stroke-linecap="round" stroke-linejoin="round" opacity="0.68"/>
<path d="M462.7,1134.4 L463.0,1146.6 L463.5,1158.8 L463.4,1171.0 L463.0,1183.2 L463.9,1195.4 L464.5,1207.6 L463.8,1219.8 L462.9,1232.0 L461.8,1244.2 L463.3,1256.4 L463.4,1268.6 L462.9,1280.8 L463.0,1293.0 L462.1,1305.2 L463.2,1317.4 L463.7,1329.6 L462.6,1341.8 L462.7,1354.0 L463.6,1366.2 L462.6,1378.4 L464.1,1390.6 L465.1,1402.8 L464.0,1415.0 L465.0,1427.2 L464.9,1439.4 L465.3,1451.6 L466.0,1463.8 L465.7,1476.0 L466.1,1488.2 L464.7,1500.4 L464.6,1512.6 L465.2,1524.8 L464.3,1537.0 L463.3,1549.2 L464.9,1561.4 L463.6,1573.6 L464.5,1585.8" fill="none" stroke="#d0d0c8" stroke-width="2.3" stroke-linecap="round" stroke-linejoin="round" opacity="0.68"/>
<path d="M498.0,1127.0 L498.2,1139.3 L499.1,1151.6 L498.4,1163.9 L498.5,1176.2 L499.2,1188.5 L500.2,1200.8 L499.0,1213.1 L499.2,1225.4 L499.3,1237.7 L499.6,1250.0 L499.0,1262.3 L500.1,1274.6 L500.3,1286.9 L500.1,1299.2 L500.2,1311.5 L501.1,1323.8 L500.2,1336.1 L499.6,1348.4 L500.4,1360.6 L501.5,1372.9 L500.6,1385.2 L500.1,1397.5 L500.6,1409.8 L500.2,1422.1 L501.0,1434.4 L501.8,1446.7 L503.0,1459.0 L503.1,1471.3 L503.1,1483.6 L502.0,1495.9 L503.2,1508.2 L502.7,1520.5 L503.4,1532.8 L502.9,1545.1 L502.5,1557.4 L502.2,1569.7 L503.7,1582.0" fill="none" stroke="#d0d0c8" stroke-width="2.3" stroke-linecap="round" stroke-linejoin="round" opacity="0.68"/>
<path d="M518.6,1130.7 L519.4,1143.0 L521.6,1155.2 L522.5,1167.5 L524.2,1179.7 L525.0,1192.0 L527.6,1204.3 L528.0,1216.5 L529.6,1228.9 L529.9,1241.2 L528.8,1253.6 L529.6,1265.9 L530.2,1278.3 L530.6,1290.6 L530.7,1303.0 L529.7,1315.3 L528.6,1327.7 L529.2,1340.1 L529.6,1352.4 L528.7,1364.8 L528.7,1377.1 L528.4,1389.5 L529.3,1401.8 L529.8,1414.2 L530.2,1426.6 L529.7,1438.9 L530.9,1451.3 L529.7,1463.6 L530.8,1476.0 L529.9,1488.3 L528.7,1500.7 L528.8,1513.1 L529.9,1525.4 L530.1,1537.8 L529.2,1550.1 L530.6,1562.5 L529.6,1574.8 L528.7,1587.2 L528.3,1599.5 L529.8,1611.9" fill="none" stroke="#d0d0c8" stroke-width="2.3" stroke-linecap="round" stroke-linejoin="round" opacity="0.68"/>
<path d="M567.0,1104.6 L569.9,1117.0 L573.0,1129.4 L574.9,1141.7 L577.4,1153.9 L578.1,1166.0 L577.9,1178.0 L577.4,1190.1 L579.0,1202.1 L579.9,1214.2 L579.1,1226.2 L579.3,1238.2 L579.0,1250.3 L578.8,1262.3 L579.3,1274.4 L580.1,1286.4 L580.0,1298.5 L581.0,1310.5 L580.5,1322.5 L580.7,1334.6 L581.0,1346.6 L582.9,1358.7 L582.4,1370.7 L582.4,1382.8 L583.6,1394.8 L583.9,1406.8 L584.9,1418.9 L584.7,1430.9 L586.4,1443.0 L586.9,1455.0 L588.0,1467.1 L587.6,1479.1 L588.3,1491.1 L588.4,1503.2 L587.4,1515.2 L588.9,1527.3 L587.9,1539.3 L588.1,1551.4 L589.5,1563.4" fill="none" stroke="#d0d0c8" stroke-width="2.3" stroke-linecap="round" stroke-linejoin="round" opacity="0.68"/>
<path d="M91.5,1123.0 L90.5,1109.8" stroke="#c4e23c" stroke-width="3.2" fill="none" stroke-linecap="round"/><path d="M130.7,1127.0 L128.5,1112.7" stroke="#c4e23c" stroke-width="3.2" fill="none" stroke-linecap="round"/><path d="M169.9,1119.5 L171.7,1100.0" stroke="#c4e23c" stroke-width="3.2" fill="none" stroke-linecap="round"/><path d="M207.2,1134.4 L204.8,1116.0" stroke="#c4e23c" stroke-width="3.2" fill="none" stroke-linecap="round"/><path d="M242.6,1123.0 L239.7,1106.6" stroke="#c4e23c" stroke-width="3.2" fill="none" stroke-linecap="round"/><path d="M263.0,1115.8 L266.4,1101.1" stroke="#c4e23c" stroke-width="3.2" fill="none" stroke-linecap="round"/><path d="M345.2,1130.7 L343.0,1115.5" stroke="#c4e23c" stroke-width="3.2" fill="none" stroke-linecap="round"/><path d="M365.7,1115.8 L362.9,1097.7" stroke="#c4e23c" stroke-width="3.2" fill="none" stroke-linecap="round"/><path d="M404.9,1127.0 L406.1,1108.7" stroke="#c4e23c" stroke-width="3.2" fill="none" stroke-linecap="round"/><path d="M462.7,1134.4 L466.3,1121.9" stroke="#c4e23c" stroke-width="3.2" fill="none" stroke-linecap="round"/><path d="M498.0,1127.0 L499.0,1114.2" stroke="#c4e23c" stroke-width="3.2" fill="none" stroke-linecap="round"/><path d="M518.6,1130.7 L520.9,1113.3" stroke="#c4e23c" stroke-width="3.2" fill="none" stroke-linecap="round"/><path d="M567.0,1104.6 L567.1,1087.9" stroke="#c4e23c" stroke-width="3.2" fill="none" stroke-linecap="round"/><path d="M90.5,1109.8 Q99.2,1101.0 112.2,1100.7" fill="none" stroke="#c4e23c" stroke-width="3.2" stroke-linecap="round"/><path d="M90.5,1109.8 Q89.1,1115.9 89.3,1122.0" fill="none" stroke="#c4e23c" stroke-width="3.2" stroke-linecap="round"/><path d="M90.5,1109.8 Q81.0,1112.2 72.1,1116.2" fill="none" stroke="#c4e23c" stroke-width="3.2" stroke-linecap="round"/><path d="M90.5,1109.8 Q92.3,1104.5 90.7,1099.1" fill="none" stroke="#c4e23c" stroke-width="3.2" stroke-linecap="round"/><ellipse cx="112.2" cy="1100.7" rx="12.1" ry="9.1" transform="rotate(334 112.2 1100.7)" fill="#8ccb22"/><ellipse cx="89.3" cy="1122.0" rx="11.3" ry="9.7" transform="rotate(455 89.3 1122.0)" fill="#aeda2e"/><ellipse cx="72.1" cy="1116.2" rx="12.0" ry="9.7" transform="rotate(518 72.1 1116.2)" fill="#aeda2e"/><ellipse cx="90.7" cy="1099.1" rx="9.2" ry="7.6" transform="rotate(631 90.7 1099.1)" fill="#84c620"/><path d="M128.5,1112.7 Q122.0,1116.7 114.3,1117.1" fill="none" stroke="#c4e23c" stroke-width="3.2" stroke-linecap="round"/><path d="M128.5,1112.7 Q118.5,1107.7 112.9,1098.5" fill="none" stroke="#c4e23c" stroke-width="3.2" stroke-linecap="round"/><path d="M128.5,1112.7 Q135.9,1112.1 141.2,1107.3" fill="none" stroke="#c4e23c" stroke-width="3.2" stroke-linecap="round"/><path d="M128.5,1112.7 Q139.9,1116.6 151.1,1120.7" fill="none" stroke="#c4e23c" stroke-width="3.2" stroke-linecap="round"/><path d="M128.5,1112.7 Q127.0,1118.1 129.3,1123.3" fill="none" stroke="#c4e23c" stroke-width="3.2" stroke-linecap="round"/><ellipse cx="114.3" cy="1117.1" rx="9.5" ry="7.2" transform="rotate(160 114.3 1117.1)" fill="#bae238"/><ellipse cx="112.9" cy="1098.5" rx="11.5" ry="9.7" transform="rotate(227 112.9 1098.5)" fill="#84c620"/><ellipse cx="141.2" cy="1107.3" rx="11.5" ry="9.0" transform="rotate(333 141.2 1107.3)" fill="#8ccb22"/><ellipse cx="151.1" cy="1120.7" rx="11.7" ry="9.6" transform="rotate(383 151.1 1120.7)" fill="#8ccb22"/><ellipse cx="129.3" cy="1123.3" rx="9.5" ry="7.1" transform="rotate(446 129.3 1123.3)" fill="#8ccb22"/><path d="M171.7,1100.0 Q158.8,1101.4 148.5,1094.1" fill="none" stroke="#c4e23c" stroke-width="3.2" stroke-linecap="round"/><path d="M171.7,1100.0 Q174.2,1095.0 178.2,1090.9" fill="none" stroke="#c4e23c" stroke-width="3.2" stroke-linecap="round"/><path d="M171.7,1100.0 Q179.2,1108.5 191.0,1109.1" fill="none" stroke="#c4e23c" stroke-width="3.2" stroke-linecap="round"/><path d="M171.7,1100.0 Q164.1,1106.8 165.0,1116.5" fill="none" stroke="#c4e23c" stroke-width="3.2" stroke-linecap="round"/><ellipse cx="148.5" cy="1094.1" rx="10.7" ry="8.6" transform="rotate(197 148.5 1094.1)" fill="#84c620"/><ellipse cx="178.2" cy="1090.9" rx="10.8" ry="8.2" transform="rotate(301 178.2 1090.9)" fill="#8ccb22"/><ellipse cx="191.0" cy="1109.1" rx="8.6" ry="8.1" transform="rotate(389 191.0 1109.1)" fill="#8ccb22"/><ellipse cx="165.0" cy="1116.5" rx="11.1" ry="8.4" transform="rotate(469 165.0 1116.5)" fill="#9cd426"/><path d="M204.8,1116.0 Q198.4,1118.2 195.2,1123.8" fill="none" stroke="#c4e23c" stroke-width="3.2" stroke-linecap="round"/><path d="M204.8,1116.0 Q200.7,1111.0 194.1,1110.2" fill="none" stroke="#c4e23c" stroke-width="3.2" stroke-linecap="round"/><path d="M204.8,1116.0 Q207.6,1105.5 199.9,1097.4" fill="none" stroke="#c4e23c" stroke-width="3.2" stroke-linecap="round"/><path d="M204.8,1116.0 Q211.2,1113.6 217.5,1116.3" fill="none" stroke="#c4e23c" stroke-width="3.2" stroke-linecap="round"/><path d="M204.8,1116.0 Q207.4,1120.8 211.8,1124.4" fill="none" stroke="#c4e23c" stroke-width="3.2" stroke-linecap="round"/><ellipse cx="195.2" cy="1123.8" rx="9.5" ry="8.9" transform="rotate(136 195.2 1123.8)" fill="#aeda2e"/><ellipse cx="194.1" cy="1110.2" rx="10.5" ry="8.9" transform="rotate(212 194.1 1110.2)" fill="#8ccb22"/><ellipse cx="199.9" cy="1097.4" rx="12.1" ry="9.7" transform="rotate(257 199.9 1097.4)" fill="#9cd426"/><ellipse cx="217.5" cy="1116.3" rx="11.7" ry="9.3" transform="rotate(362 217.5 1116.3)" fill="#84c620"/><ellipse cx="211.8" cy="1124.4" rx="9.4" ry="8.9" transform="rotate(415 211.8 1124.4)" fill="#bae238"/><path d="M239.7,1106.6 Q242.6,1112.3 249.2,1113.9" fill="none" stroke="#c4e23c" stroke-width="3.2" stroke-linecap="round"/><path d="M239.7,1106.6 Q231.7,1112.0 228.1,1120.5" fill="none" stroke="#c4e23c" stroke-width="3.2" stroke-linecap="round"/><path d="M239.7,1106.6 Q232.3,1106.3 227.6,1100.9" fill="none" stroke="#c4e23c" stroke-width="3.2" stroke-linecap="round"/><path d="M239.7,1106.6 Q245.1,1101.3 246.5,1094.1" fill="none" stroke="#c4e23c" stroke-width="3.2" stroke-linecap="round"/><ellipse cx="249.2" cy="1113.9" rx="12.0" ry="9.1" transform="rotate(42 249.2 1113.9)" fill="#84c620"/><ellipse cx="228.1" cy="1120.5" rx="9.6" ry="8.0" transform="rotate(125 228.1 1120.5)" fill="#84c620"/><ellipse cx="227.6" cy="1100.9" rx="11.7" ry="10.1" transform="rotate(209 227.6 1100.9)" fill="#9cd426"/><ellipse cx="246.5" cy="1094.1" rx="10.1" ry="9.2" transform="rotate(295 246.5 1094.1)" fill="#bae238"/><path d="M266.4,1101.1 Q274.7,1098.0 283.1,1101.0" fill="none" stroke="#c4e23c" stroke-width="3.2" stroke-linecap="round"/><path d="M266.4,1101.1 Q263.3,1112.4 251.9,1117.6" fill="none" stroke="#c4e23c" stroke-width="3.2" stroke-linecap="round"/><path d="M266.4,1101.1 Q253.9,1098.2 244.0,1090.7" fill="none" stroke="#c4e23c" stroke-width="3.2" stroke-linecap="round"/><path d="M266.4,1101.1 Q268.1,1094.8 268.7,1088.3" fill="none" stroke="#c4e23c" stroke-width="3.2" stroke-linecap="round"/><ellipse cx="283.1" cy="1101.0" rx="10.2" ry="7.3" transform="rotate(-1 283.1 1101.0)" fill="#9cd426"/><ellipse cx="251.9" cy="1117.6" rx="9.5" ry="8.7" transform="rotate(127 251.9 1117.6)" fill="#84c620"/><ellipse cx="244.0" cy="1090.7" rx="10.4" ry="9.2" transform="rotate(209 244.0 1090.7)" fill="#8ccb22"/><ellipse cx="268.7" cy="1088.3" rx="9.6" ry="7.0" transform="rotate(279 268.7 1088.3)" fill="#84c620"/><path d="M343.0,1115.5 Q353.0,1122.5 353.8,1134.1" fill="none" stroke="#c4e23c" stroke-width="3.2" stroke-linecap="round"/><path d="M343.0,1115.5 Q331.8,1120.8 319.3,1122.0" fill="none" stroke="#c4e23c" stroke-width="3.2" stroke-linecap="round"/><path d="M343.0,1115.5 Q334.1,1111.3 330.5,1102.8" fill="none" stroke="#c4e23c" stroke-width="3.2" stroke-linecap="round"/><path d="M343.0,1115.5 Q351.7,1109.9 362.2,1110.3" fill="none" stroke="#c4e23c" stroke-width="3.2" stroke-linecap="round"/><ellipse cx="353.8" cy="1134.1" rx="10.7" ry="8.0" transform="rotate(64 353.8 1134.1)" fill="#bae238"/><ellipse cx="319.3" cy="1122.0" rx="10.3" ry="8.4" transform="rotate(162 319.3 1122.0)" fill="#aeda2e"/><ellipse cx="330.5" cy="1102.8" rx="8.8" ry="7.0" transform="rotate(230 330.5 1102.8)" fill="#bae238"/><ellipse cx="362.2" cy="1110.3" rx="12.5" ry="11.3" transform="rotate(342 362.2 1110.3)" fill="#9cd426"/><path d="M362.9,1097.7 Q372.8,1093.7 375.9,1084.2" fill="none" stroke="#c4e23c" stroke-width="3.2" stroke-linecap="round"/><path d="M362.9,1097.7 Q373.5,1102.1 384.8,1104.9" fill="none" stroke="#c4e23c" stroke-width="3.2" stroke-linecap="round"/><path d="M362.9,1097.7 Q368.3,1102.6 368.9,1109.5" fill="none" stroke="#c4e23c" stroke-width="3.2" stroke-linecap="round"/><path d="M362.9,1097.7 Q357.3,1100.2 351.1,1100.1" fill="none" stroke="#c4e23c" stroke-width="3.2" stroke-linecap="round"/><path d="M362.9,1097.7 Q353.6,1093.6 347.2,1086.2" fill="none" stroke="#c4e23c" stroke-width="3.2" stroke-linecap="round"/><ellipse cx="375.9" cy="1084.2" rx="11.4" ry="8.5" transform="rotate(309 375.9 1084.2)" fill="#8ccb22"/><ellipse cx="384.8" cy="1104.9" rx="12.1" ry="11.1" transform="rotate(381 384.8 1104.9)" fill="#9cd426"/><ellipse cx="368.9" cy="1109.5" rx="9.0" ry="6.9" transform="rotate(427 368.9 1109.5)" fill="#aeda2e"/><ellipse cx="351.1" cy="1100.1" rx="9.2" ry="6.9" transform="rotate(527 351.1 1100.1)" fill="#aeda2e"/><ellipse cx="347.2" cy="1086.2" rx="9.9" ry="7.8" transform="rotate(581 347.2 1086.2)" fill="#9cd426"/><path d="M406.1,1108.7 Q412.8,1105.3 419.1,1101.2" fill="none" stroke="#c4e23c" stroke-width="3.2" stroke-linecap="round"/><path d="M406.1,1108.7 Q420.2,1108.3 428.4,1118.9" fill="none" stroke="#c4e23c" stroke-width="3.2" stroke-linecap="round"/><path d="M406.1,1108.7 Q402.3,1115.6 402.2,1123.4" fill="none" stroke="#c4e23c" stroke-width="3.2" stroke-linecap="round"/><path d="M406.1,1108.7 Q393.5,1109.0 383.4,1116.0" fill="none" stroke="#c4e23c" stroke-width="3.2" stroke-linecap="round"/><path d="M406.1,1108.7 Q402.6,1099.2 392.2,1096.3" fill="none" stroke="#c4e23c" stroke-width="3.2" stroke-linecap="round"/><ellipse cx="419.1" cy="1101.2" rx="9.1" ry="8.6" transform="rotate(326 419.1 1101.2)" fill="#8ccb22"/><ellipse cx="428.4" cy="1118.9" rx="9.3" ry="7.4" transform="rotate(388 428.4 1118.9)" fill="#bae238"/><ellipse cx="402.2" cy="1123.4" rx="11.6" ry="8.9" transform="rotate(463 402.2 1123.4)" fill="#9cd426"/><ellipse cx="383.4" cy="1116.0" rx="9.5" ry="7.7" transform="rotate(519 383.4 1116.0)" fill="#9cd426"/><ellipse cx="392.2" cy="1096.3" rx="11.0" ry="9.3" transform="rotate(586 392.2 1096.3)" fill="#8ccb22"/><path d="M466.3,1121.9 Q468.7,1113.6 477.0,1109.7" fill="none" stroke="#c4e23c" stroke-width="3.2" stroke-linecap="round"/><path d="M466.3,1121.9 Q476.0,1122.5 484.7,1126.3" fill="none" stroke="#c4e23c" stroke-width="3.2" stroke-linecap="round"/><path d="M466.3,1121.9 Q471.7,1127.3 470.2,1134.6" fill="none" stroke="#c4e23c" stroke-width="3.2" stroke-linecap="round"/><path d="M466.3,1121.9 Q456.2,1125.0 448.8,1132.2" fill="none" stroke="#c4e23c" stroke-width="3.2" stroke-linecap="round"/><path d="M466.3,1121.9 Q458.7,1114.7 453.1,1106.1" fill="none" stroke="#c4e23c" stroke-width="3.2" stroke-linecap="round"/><ellipse cx="477.0" cy="1109.7" rx="11.6" ry="9.6" transform="rotate(307 477.0 1109.7)" fill="#84c620"/><ellipse cx="484.7" cy="1126.3" rx="11.9" ry="8.8" transform="rotate(376 484.7 1126.3)" fill="#9cd426"/><ellipse cx="470.2" cy="1134.6" rx="9.0" ry="8.2" transform="rotate(436 470.2 1134.6)" fill="#aeda2e"/><ellipse cx="448.8" cy="1132.2" rx="11.6" ry="9.5" transform="rotate(505 448.8 1132.2)" fill="#aeda2e"/><ellipse cx="453.1" cy="1106.1" rx="12.4" ry="11.7" transform="rotate(595 453.1 1106.1)" fill="#aeda2e"/><path d="M499.0,1114.2 Q497.7,1106.4 494.7,1099.0" fill="none" stroke="#c4e23c" stroke-width="3.2" stroke-linecap="round"/><path d="M499.0,1114.2 Q505.6,1117.6 513.2,1117.5" fill="none" stroke="#c4e23c" stroke-width="3.2" stroke-linecap="round"/><path d="M499.0,1114.2 Q500.7,1120.3 500.6,1126.7" fill="none" stroke="#c4e23c" stroke-width="3.2" stroke-linecap="round"/><path d="M499.0,1114.2 Q491.8,1116.9 484.1,1115.7" fill="none" stroke="#c4e23c" stroke-width="3.2" stroke-linecap="round"/><ellipse cx="494.7" cy="1099.0" rx="11.1" ry="9.1" transform="rotate(256 494.7 1099.0)" fill="#9cd426"/><ellipse cx="513.2" cy="1117.5" rx="12.3" ry="11.0" transform="rotate(376 513.2 1117.5)" fill="#bae238"/><ellipse cx="500.6" cy="1126.7" rx="11.1" ry="10.5" transform="rotate(444 500.6 1126.7)" fill="#bae238"/><ellipse cx="484.1" cy="1115.7" rx="9.0" ry="8.2" transform="rotate(533 484.1 1115.7)" fill="#84c620"/><path d="M520.9,1113.3 Q513.5,1108.4 504.8,1110.7" fill="none" stroke="#c4e23c" stroke-width="3.2" stroke-linecap="round"/><path d="M520.9,1113.3 Q518.7,1105.7 516.1,1098.2" fill="none" stroke="#c4e23c" stroke-width="3.2" stroke-linecap="round"/><path d="M520.9,1113.3 Q532.9,1112.8 544.0,1117.0" fill="none" stroke="#c4e23c" stroke-width="3.2" stroke-linecap="round"/><path d="M520.9,1113.3 Q518.7,1118.6 518.1,1124.4" fill="none" stroke="#c4e23c" stroke-width="3.2" stroke-linecap="round"/><ellipse cx="504.8" cy="1110.7" rx="9.2" ry="8.2" transform="rotate(191 504.8 1110.7)" fill="#8ccb22"/><ellipse cx="516.1" cy="1098.2" rx="10.2" ry="9.6" transform="rotate(255 516.1 1098.2)" fill="#84c620"/><ellipse cx="544.0" cy="1117.0" rx="11.1" ry="8.6" transform="rotate(371 544.0 1117.0)" fill="#84c620"/><ellipse cx="518.1" cy="1124.4" rx="11.6" ry="9.9" transform="rotate(462 518.1 1124.4)" fill="#8ccb22"/><path d="M567.1,1087.9 Q561.5,1081.8 553.3,1079.2" fill="none" stroke="#c4e23c" stroke-width="3.2" stroke-linecap="round"/><path d="M567.1,1087.9 Q567.3,1079.5 570.7,1071.7" fill="none" stroke="#c4e23c" stroke-width="3.2" stroke-linecap="round"/><path d="M567.1,1087.9 Q575.6,1083.5 585.3,1083.2" fill="none" stroke="#c4e23c" stroke-width="3.2" stroke-linecap="round"/><path d="M567.1,1087.9 Q573.1,1095.4 573.4,1104.8" fill="none" stroke="#c4e23c" stroke-width="3.2" stroke-linecap="round"/><path d="M567.1,1087.9 Q561.6,1092.8 554.9,1096.2" fill="none" stroke="#c4e23c" stroke-width="3.2" stroke-linecap="round"/><ellipse cx="553.3" cy="1079.2" rx="10.5" ry="9.4" transform="rotate(217 553.3 1079.2)" fill="#8ccb22"/><ellipse cx="570.7" cy="1071.7" rx="12.3" ry="9.4" transform="rotate(281 570.7 1071.7)" fill="#8ccb22"/><ellipse cx="585.3" cy="1083.2" rx="9.9" ry="8.6" transform="rotate(343 585.3 1083.2)" fill="#9cd426"/><ellipse cx="573.4" cy="1104.8" rx="10.4" ry="8.7" transform="rotate(432 573.4 1104.8)" fill="#8ccb22"/><ellipse cx="554.9" cy="1096.2" rx="11.5" ry="9.9" transform="rotate(501 554.9 1096.2)" fill="#8ccb22"/><path d="M44.0,1100.0 Q52.7,1099.2 60.8,1102.1" fill="none" stroke="#c4e23c" stroke-width="2.9" stroke-linecap="round"/><path d="M44.0,1100.0 Q45.6,1110.1 40.6,1119.1" fill="none" stroke="#c4e23c" stroke-width="2.9" stroke-linecap="round"/><path d="M44.0,1100.0 Q38.0,1097.1 31.3,1098.3" fill="none" stroke="#c4e23c" stroke-width="2.9" stroke-linecap="round"/><path d="M44.0,1100.0 Q44.1,1093.2 41.9,1086.7" fill="none" stroke="#c4e23c" stroke-width="2.9" stroke-linecap="round"/><ellipse cx="60.8" cy="1102.1" rx="9.4" ry="8.1" transform="rotate(9 60.8 1102.1)" fill="#9cd426"/><ellipse cx="40.6" cy="1119.1" rx="11.1" ry="9.0" transform="rotate(99 40.6 1119.1)" fill="#aeda2e"/><ellipse cx="31.3" cy="1098.3" rx="9.5" ry="8.1" transform="rotate(189 31.3 1098.3)" fill="#aeda2e"/><ellipse cx="41.9" cy="1086.7" rx="8.1" ry="6.7" transform="rotate(262 41.9 1086.7)" fill="#aeda2e"/>

</g></g>
<rect x="33.25" y="1034.75" width="572.00" height="699.20" fill="none" stroke="#263654" stroke-width="1.5" opacity="0.55"/>
<text x="196.4" y="1718.2" font-size="50.00" font-weight="bold" fill="#fff" stroke="#fff" stroke-width="0.7">75 mM NaCl</text>
<rect x="508.6" y="1705.8" width="80.4" height="10.8" fill="#fff"/>
<clipPath id="cp3"><rect x="32.5" y="1753.7" width="571.5" height="626.3"/></clipPath>
<g clip-path="url(#cp3)"><g filter="url(#soft)">
<rect x="32.5" y="1753.7" width="571.5" height="626.3" fill="#33507e"/>
<linearGradient id="lg3" x1="0" y1="0" x2="0" y2="1"><stop offset="0" stop-color="#46596c" stop-opacity="0.6"/><stop offset="0.2" stop-color="#46596c" stop-opacity="0.15"/><stop offset="0.5" stop-color="#46596c" stop-opacity="0"/><stop offset="1" stop-color="#46596c" stop-opacity="0"/></linearGradient>
<rect x="32.5" y="1753.7" width="571.5" height="626.3" fill="url(#lg3)"/>
<rect x="32.5" y="1753.7" width="571.5" height="626.3" filter="url(#mtA)" opacity="0.35"/>
<rect x="32.5" y="1753.7" width="571.5" height="626.3" filter="url(#mtB)" opacity="0.25"/>
<rect x="49.3" y="1753.7" width="8" height="626.3" fill="#a8a4ac" opacity="0.2"/>
<rect x="51.8" y="1753.7" width="3" height="626.3" fill="#d8d0c8" opacity="0.2"/>
<rect x="182.8" y="1753.7" width="8" height="626.3" fill="#a8a4ac" opacity="0.2"/>
<rect x="185.3" y="1753.7" width="3" height="626.3" fill="#d8d0c8" opacity="0.2"/>
<rect x="316.0" y="1753.7" width="8" height="626.3" fill="#a8a4ac" opacity="0.2"/>
<rect x="318.5" y="1753.7" width="3" height="626.3" fill="#d8d0c8" opacity="0.2"/>
<rect x="449.6" y="1753.7" width="8" height="626.3" fill="#a8a4ac" opacity="0.2"/>
<rect x="452.1" y="1753.7" width="3" height="626.3" fill="#d8d0c8" opacity="0.2"/>
<rect x="584.7" y="1753.7" width="8" height="626.3" fill="#a8a4ac" opacity="0.2"/>
<rect x="587.2" y="1753.7" width="3" height="626.3" fill="#d8d0c8" opacity="0.2"/>
<rect x="32.5" y="1831.9" width="571.5" height="3" fill="#a8a0a8" opacity="0.13"/>
<rect x="32.5" y="1965.3" width="571.5" height="3" fill="#a8a0a8" opacity="0.13"/>
<rect x="32.5" y="2098.5" width="571.5" height="3" fill="#a8a0a8" opacity="0.13"/>
<rect x="32.5" y="2233.8" width="571.5" height="3" fill="#a8a0a8" opacity="0.13"/>

<path d="M63.4,1836.7 L63.9,1849.0 L63.5,1861.2 L63.6,1873.5 L63.9,1885.7 L65.0,1898.0 L66.4,1910.3 L66.7,1922.5 L67.6,1934.8 L67.2,1947.1 L67.3,1959.3 L68.4,1971.6 L69.4,1983.8 L68.5,1996.1 L68.5,2008.4 L68.3,2020.6 L68.5,2032.9 L69.8,2045.2 L69.6,2057.4 L70.9,2069.7 L72.2,2081.9 L73.4,2094.2 L73.6,2106.5 L73.7,2118.7 L73.2,2131.0 L74.0,2143.3 L73.9,2155.5 L73.8,2167.8 L74.4,2180.0 L74.0,2192.3 L73.8,2204.6 L73.9,2216.8 L75.8,2229.1 L77.5,2241.4 L77.5,2253.6 L78.4,2265.9 L79.0,2278.1 L78.4,2290.4" fill="none" stroke="#d0d0c8" stroke-width="2.3" stroke-linecap="round" stroke-linejoin="round" opacity="0.68"/>
<path d="M101.7,1836.7 L101.9,1848.8 L103.1,1860.8 L102.8,1872.9 L103.5,1884.9 L103.8,1897.0 L104.2,1909.0 L104.5,1921.1 L105.3,1933.1 L105.9,1945.2 L105.8,1957.2 L107.2,1969.3 L107.8,1981.3 L106.9,1993.4 L107.9,2005.4 L108.1,2017.5 L109.6,2029.5 L109.5,2041.6 L108.7,2053.6 L110.0,2065.7 L110.8,2077.7 L111.9,2089.8 L111.8,2101.8 L112.5,2113.9 L112.7,2126.0 L112.4,2138.0 L111.6,2150.1 L112.0,2162.1 L113.0,2174.2 L113.5,2186.2 L114.3,2198.3 L115.1,2210.3 L114.8,2222.4 L115.7,2234.4 L116.8,2246.5 L117.5,2258.5 L118.2,2270.6 L117.3,2282.6 L118.2,2294.7 L118.1,2306.7 L117.5,2318.8 L117.6,2330.8 L118.0,2342.9 L119.6,2354.9 L120.0,2367.0" fill="none" stroke="#d0d0c8" stroke-width="2.3" stroke-linecap="round" stroke-linejoin="round" opacity="0.68"/>
<path d="M146.7,1836.7 L145.7,1849.0 L145.6,1861.4 L146.3,1873.7 L146.7,1886.0 L146.0,1898.3 L145.7,1910.7 L147.4,1923.0 L148.6,1935.3 L148.9,1947.6 L148.0,1960.0 L148.8,1972.3 L149.2,1984.6 L148.8,1996.9 L148.4,2009.2 L149.0,2021.6 L148.8,2033.9 L148.9,2046.2 L148.2,2058.6 L148.2,2070.9 L148.8,2083.2 L149.1,2095.5 L149.5,2107.8 L148.9,2120.2 L149.7,2132.5 L149.1,2144.8 L149.9,2157.2 L149.6,2169.5 L150.3,2181.8 L150.0,2194.1 L149.5,2206.5 L149.1,2218.8 L150.6,2231.1 L150.3,2243.4 L150.9,2255.8 L150.8,2268.1 L151.7,2280.4" fill="none" stroke="#d0d0c8" stroke-width="2.3" stroke-linecap="round" stroke-linejoin="round" opacity="0.68"/>
<path d="M195.1,1836.7 L193.9,1848.8 L195.1,1860.9 L195.5,1873.0 L194.4,1885.2 L193.9,1897.3 L195.2,1909.4 L195.7,1921.5 L196.8,1933.6 L196.2,1945.7 L196.9,1957.8 L195.6,1969.9 L196.6,1982.1 L195.7,1994.2 L195.0,2006.3 L195.6,2018.4 L195.1,2030.5 L195.4,2042.6 L196.8,2054.7 L195.6,2066.8 L195.4,2079.0 L196.4,2091.1 L195.2,2103.2 L195.0,2115.3 L195.5,2127.4 L194.7,2139.5 L194.2,2151.6 L195.7,2163.8 L195.0,2175.9 L195.9,2188.0 L196.2,2200.1 L195.9,2212.2 L195.0,2224.3 L195.1,2236.4 L194.6,2248.5 L196.3,2260.7 L195.9,2272.8 L196.3,2284.9 L196.8,2297.0" fill="none" stroke="#d0d0c8" stroke-width="2.3" stroke-linecap="round" stroke-linejoin="round" opacity="0.68"/>
<path d="M250.1,1830.0 L250.5,1842.2 L250.8,1854.5 L249.8,1866.7 L249.5,1878.9 L249.8,1891.2 L247.7,1903.4 L247.7,1915.6 L246.8,1927.8 L247.5,1940.1 L246.4,1952.3 L246.7,1964.5 L245.5,1976.8 L244.3,1989.0 L243.7,2001.2 L242.8,2013.5 L242.4,2025.7 L243.4,2037.9 L243.6,2050.2 L242.6,2062.4 L242.2,2074.6 L242.8,2086.8 L242.2,2099.1 L242.4,2111.3 L242.2,2123.5 L242.5,2135.8 L241.4,2148.0 L241.3,2160.2 L240.8,2172.5 L239.0,2184.7 L239.2,2196.9 L239.4,2209.1 L239.3,2221.4 L239.2,2233.6 L238.5,2245.8 L237.8,2258.1 L236.8,2270.3" fill="none" stroke="#d0d0c8" stroke-width="2.3" stroke-linecap="round" stroke-linejoin="round" opacity="0.68"/>
<path d="M288.5,1830.0 L288.6,1842.1 L288.9,1854.2 L288.4,1866.3 L289.7,1878.4 L289.4,1890.5 L288.9,1902.6 L288.8,1914.7 L288.2,1926.8 L288.8,1938.9 L290.6,1951.0 L291.8,1963.1 L291.5,1975.2 L292.5,1987.3 L292.3,1999.4 L290.9,2011.5 L291.8,2023.6 L292.8,2035.7 L293.5,2047.8 L293.9,2059.9 L292.2,2072.0 L292.8,2084.1 L291.8,2096.3 L292.1,2108.4 L293.1,2120.5 L292.8,2132.6 L292.3,2144.7 L293.0,2156.8 L294.4,2168.9 L295.0,2181.0 L294.6,2193.1 L293.9,2205.2 L295.3,2217.3 L296.2,2229.4 L296.1,2241.5 L296.9,2253.6 L295.8,2265.7 L296.2,2277.8 L296.0,2289.9 L297.2,2302.0 L295.8,2314.1 L295.7,2326.2 L295.3,2338.3 L296.8,2350.4" fill="none" stroke="#d0d0c8" stroke-width="2.3" stroke-linecap="round" stroke-linejoin="round" opacity="0.68"/>
<path d="M351.9,1836.7 L352.1,1849.0 L352.3,1861.4 L351.7,1873.7 L352.4,1886.0 L354.0,1898.4 L352.9,1910.7 L354.5,1923.0 L354.7,1935.4 L355.4,1947.7 L355.6,1960.0 L354.3,1972.4 L353.8,1984.7 L354.4,1997.0 L354.6,2009.4 L354.9,2021.7 L354.6,2034.0 L355.0,2046.4 L356.4,2058.7 L356.8,2071.0 L356.9,2083.4 L357.4,2095.7 L357.9,2108.0 L357.1,2120.4 L358.0,2132.7 L358.7,2145.0 L357.9,2157.4 L358.1,2169.7 L357.9,2182.0 L359.1,2194.4 L359.0,2206.7 L360.2,2219.0 L360.1,2231.4 L360.2,2243.7" fill="none" stroke="#d0d0c8" stroke-width="2.3" stroke-linecap="round" stroke-linejoin="round" opacity="0.68"/>
<path d="M410.3,1840.0 L409.1,1852.2 L408.4,1864.5 L409.6,1876.7 L410.1,1888.9 L410.3,1901.2 L409.3,1913.4 L410.7,1925.6 L410.3,1937.9 L409.9,1950.1 L411.1,1962.3 L410.9,1974.6 L410.8,1986.8 L409.6,1999.0 L409.0,2011.3 L409.3,2023.5 L409.3,2035.7 L409.8,2048.0 L409.4,2060.2 L410.9,2072.4 L410.8,2084.7 L410.9,2096.9 L409.8,2109.1 L410.2,2121.4 L410.4,2133.6 L410.6,2145.8 L410.3,2158.1 L411.0,2170.3 L411.0,2182.5 L411.4,2194.8 L410.3,2207.0" fill="none" stroke="#d0d0c8" stroke-width="2.3" stroke-linecap="round" stroke-linejoin="round" opacity="0.68"/>
<path d="M435.3,1840.0 L436.5,1852.1 L436.1,1864.2 L435.5,1876.3 L436.8,1888.4 L435.7,1900.5 L435.2,1912.6 L435.1,1924.7 L435.1,1936.8 L435.1,1949.0 L434.9,1961.1 L435.8,1973.2 L435.8,1985.3 L435.2,1997.4 L435.6,2009.5 L436.6,2021.6 L436.0,2033.7 L437.5,2045.8 L438.5,2057.9 L437.8,2070.0 L437.2,2082.1 L438.1,2094.2 L437.7,2106.3 L438.2,2118.4 L439.0,2130.5 L438.5,2142.6 L438.6,2154.7 L439.0,2166.9 L438.8,2179.0 L437.9,2191.1 L437.6,2203.2 L438.6,2215.3 L439.5,2227.4 L440.2,2239.5 L440.5,2251.6 L438.6,2263.7" fill="none" stroke="#d0d0c8" stroke-width="2.3" stroke-linecap="round" stroke-linejoin="round" opacity="0.68"/>
<path d="M482.0,1833.4 L482.1,1845.5 L480.8,1857.6 L480.9,1869.6 L480.6,1881.7 L480.0,1893.8 L480.0,1905.9 L480.5,1918.0 L482.0,1930.0 L480.8,1942.1 L480.9,1954.2 L481.6,1966.3 L481.7,1978.4 L481.9,1990.5 L481.1,2002.5 L479.7,2014.6 L480.5,2026.7 L480.6,2038.8 L481.1,2050.9 L479.8,2062.9 L479.1,2075.0 L480.1,2087.1 L479.9,2099.2 L479.4,2111.3 L478.6,2123.3 L478.4,2135.4 L478.2,2147.5 L477.8,2159.6 L478.8,2171.7 L477.9,2183.8 L477.8,2195.8 L477.9,2207.9 L477.8,2220.0 L477.3,2232.1 L477.2,2244.2 L478.5,2256.2 L477.3,2268.3 L478.6,2280.4" fill="none" stroke="#d0d0c8" stroke-width="2.3" stroke-linecap="round" stroke-linejoin="round" opacity="0.68"/>
<path d="M513.7,1850.0 L519.7,1866.4 L523.3,1881.1 L524.4,1894.0 L524.7,1906.2 L525.8,1918.2 L527.0,1930.3 L527.1,1942.4 L527.4,1954.4 L527.8,1966.5 L528.7,1978.6 L528.3,1990.6 L529.3,2002.7 L528.1,2014.7 L528.3,2026.8 L529.4,2038.9 L530.1,2050.9 L529.6,2063.0 L528.9,2075.0 L529.5,2087.1 L530.7,2099.2 L531.1,2111.2 L532.6,2123.3 L532.7,2135.4 L531.9,2147.4 L533.6,2159.5 L534.9,2171.5 L533.7,2183.6" fill="none" stroke="#d0d0c8" stroke-width="2.3" stroke-linecap="round" stroke-linejoin="round" opacity="0.68"/>
<path d="M570.4,1826.7 L570.3,1838.7 L571.1,1850.8 L569.9,1862.8 L568.5,1874.9 L569.2,1886.9 L569.6,1899.0 L568.1,1911.0 L568.2,1923.1 L569.0,1935.1 L567.9,1947.1 L568.5,1959.2 L567.9,1971.2 L567.0,1983.3 L567.4,1995.3 L565.9,2007.4 L564.9,2019.4 L565.2,2031.5 L566.6,2043.5 L565.7,2055.5 L566.5,2067.6 L565.7,2079.6 L565.8,2091.7 L564.3,2103.7 L563.7,2115.8 L563.1,2127.8 L563.0,2139.9 L563.5,2151.9 L564.3,2163.9 L565.1,2176.0 L563.4,2188.0 L562.4,2200.1 L562.9,2212.1 L563.5,2224.2 L562.1,2236.2 L562.7,2248.3 L562.0,2260.3" fill="none" stroke="#d0d0c8" stroke-width="2.3" stroke-linecap="round" stroke-linejoin="round" opacity="0.68"/>
<path d="M63.4,1836.7 L63.7,1821.9" stroke="#c4e23c" stroke-width="3.2" fill="none" stroke-linecap="round"/><path d="M101.7,1836.7 L100.1,1817.3" stroke="#c4e23c" stroke-width="3.2" fill="none" stroke-linecap="round"/><path d="M146.7,1836.7 L150.1,1814.2" stroke="#c4e23c" stroke-width="3.2" fill="none" stroke-linecap="round"/><path d="M195.1,1836.7 L192.3,1821.9" stroke="#c4e23c" stroke-width="3.2" fill="none" stroke-linecap="round"/><path d="M250.1,1830.0 L246.6,1812.2" stroke="#c4e23c" stroke-width="3.2" fill="none" stroke-linecap="round"/><path d="M288.5,1830.0 L288.5,1809.5" stroke="#c4e23c" stroke-width="3.2" fill="none" stroke-linecap="round"/><path d="M351.9,1836.7 L351.8,1822.4" stroke="#c4e23c" stroke-width="3.2" fill="none" stroke-linecap="round"/><path d="M410.3,1840.0 L407.9,1824.3" stroke="#c4e23c" stroke-width="3.2" fill="none" stroke-linecap="round"/><path d="M435.3,1840.0 L433.8,1823.8" stroke="#c4e23c" stroke-width="3.2" fill="none" stroke-linecap="round"/><path d="M482.0,1833.4 L485.8,1814.8" stroke="#c4e23c" stroke-width="3.2" fill="none" stroke-linecap="round"/><path d="M513.7,1850.0 L511.8,1827.0" stroke="#c4e23c" stroke-width="3.2" fill="none" stroke-linecap="round"/><path d="M570.4,1826.7 L568.7,1807.8" stroke="#c4e23c" stroke-width="3.2" fill="none" stroke-linecap="round"/><path d="M63.7,1821.9 Q71.0,1829.4 71.6,1839.4" fill="none" stroke="#c4e23c" stroke-width="3.2" stroke-linecap="round"/><path d="M63.7,1821.9 Q54.7,1829.8 42.7,1832.6" fill="none" stroke="#c4e23c" stroke-width="3.2" stroke-linecap="round"/><path d="M63.7,1821.9 Q57.5,1813.0 50.4,1804.8" fill="none" stroke="#c4e23c" stroke-width="3.2" stroke-linecap="round"/><path d="M63.7,1821.9 Q69.4,1813.9 79.7,1812.8" fill="none" stroke="#c4e23c" stroke-width="3.2" stroke-linecap="round"/><ellipse cx="71.6" cy="1839.4" rx="10.0" ry="8.8" transform="rotate(69 71.6 1839.4)" fill="#aeda2e"/><ellipse cx="42.7" cy="1832.6" rx="10.2" ry="7.6" transform="rotate(149 42.7 1832.6)" fill="#bae238"/><ellipse cx="50.4" cy="1804.8" rx="11.9" ry="10.0" transform="rotate(236 50.4 1804.8)" fill="#aeda2e"/><ellipse cx="79.7" cy="1812.8" rx="10.2" ry="7.5" transform="rotate(326 79.7 1812.8)" fill="#bae238"/><path d="M100.1,1817.3 Q106.2,1809.1 106.8,1799.2" fill="none" stroke="#c4e23c" stroke-width="3.2" stroke-linecap="round"/><path d="M100.1,1817.3 Q109.1,1812.3 119.4,1810.4" fill="none" stroke="#c4e23c" stroke-width="3.2" stroke-linecap="round"/><path d="M100.1,1817.3 Q109.3,1824.8 111.9,1835.8" fill="none" stroke="#c4e23c" stroke-width="3.2" stroke-linecap="round"/><path d="M100.1,1817.3 Q91.0,1823.9 90.5,1834.6" fill="none" stroke="#c4e23c" stroke-width="3.2" stroke-linecap="round"/><path d="M100.1,1817.3 Q86.9,1820.8 75.2,1814.2" fill="none" stroke="#c4e23c" stroke-width="3.2" stroke-linecap="round"/><ellipse cx="106.8" cy="1799.2" rx="9.3" ry="7.7" transform="rotate(287 106.8 1799.2)" fill="#84c620"/><ellipse cx="119.4" cy="1810.4" rx="11.9" ry="9.8" transform="rotate(337 119.4 1810.4)" fill="#bae238"/><ellipse cx="111.9" cy="1835.8" rx="10.5" ry="9.9" transform="rotate(422 111.9 1835.8)" fill="#aeda2e"/><ellipse cx="90.5" cy="1834.6" rx="12.0" ry="11.2" transform="rotate(475 90.5 1834.6)" fill="#84c620"/><ellipse cx="75.2" cy="1814.2" rx="11.0" ry="8.9" transform="rotate(548 75.2 1814.2)" fill="#bae238"/><path d="M150.1,1814.2 Q148.5,1805.2 142.4,1798.1" fill="none" stroke="#c4e23c" stroke-width="3.2" stroke-linecap="round"/><path d="M150.1,1814.2 Q153.9,1806.8 159.5,1800.4" fill="none" stroke="#c4e23c" stroke-width="3.2" stroke-linecap="round"/><path d="M150.1,1814.2 Q161.2,1813.6 172.3,1814.8" fill="none" stroke="#c4e23c" stroke-width="3.2" stroke-linecap="round"/><path d="M150.1,1814.2 Q149.2,1819.6 149.0,1825.0" fill="none" stroke="#c4e23c" stroke-width="3.2" stroke-linecap="round"/><path d="M150.1,1814.2 Q145.1,1824.1 133.5,1825.7" fill="none" stroke="#c4e23c" stroke-width="3.2" stroke-linecap="round"/><ellipse cx="142.4" cy="1798.1" rx="12.3" ry="10.8" transform="rotate(248 142.4 1798.1)" fill="#9cd426"/><ellipse cx="159.5" cy="1800.4" rx="9.0" ry="7.1" transform="rotate(300 159.5 1800.4)" fill="#bae238"/><ellipse cx="172.3" cy="1814.8" rx="9.8" ry="9.0" transform="rotate(362 172.3 1814.8)" fill="#8ccb22"/><ellipse cx="149.0" cy="1825.0" rx="9.7" ry="8.4" transform="rotate(455 149.0 1825.0)" fill="#9cd426"/><ellipse cx="133.5" cy="1825.7" rx="11.1" ry="10.1" transform="rotate(501 133.5 1825.7)" fill="#aeda2e"/><path d="M192.3,1821.9 Q189.7,1831.3 182.0,1837.9" fill="none" stroke="#c4e23c" stroke-width="3.2" stroke-linecap="round"/><path d="M192.3,1821.9 Q181.7,1821.2 176.0,1812.9" fill="none" stroke="#c4e23c" stroke-width="3.2" stroke-linecap="round"/><path d="M192.3,1821.9 Q199.1,1812.7 201.8,1801.8" fill="none" stroke="#c4e23c" stroke-width="3.2" stroke-linecap="round"/><path d="M192.3,1821.9 Q196.5,1831.3 204.0,1838.8" fill="none" stroke="#c4e23c" stroke-width="3.2" stroke-linecap="round"/><ellipse cx="182.0" cy="1837.9" rx="10.0" ry="8.2" transform="rotate(119 182.0 1837.9)" fill="#8ccb22"/><ellipse cx="176.0" cy="1812.9" rx="12.5" ry="11.6" transform="rotate(213 176.0 1812.9)" fill="#84c620"/><ellipse cx="201.8" cy="1801.8" rx="12.0" ry="9.2" transform="rotate(292 201.8 1801.8)" fill="#84c620"/><ellipse cx="204.0" cy="1838.8" rx="9.2" ry="8.4" transform="rotate(420 204.0 1838.8)" fill="#84c620"/><path d="M246.6,1812.2 Q248.4,1801.5 258.9,1796.7" fill="none" stroke="#c4e23c" stroke-width="3.2" stroke-linecap="round"/><path d="M246.6,1812.2 Q259.1,1810.4 271.7,1809.9" fill="none" stroke="#c4e23c" stroke-width="3.2" stroke-linecap="round"/><path d="M246.6,1812.2 Q253.8,1817.1 254.3,1825.4" fill="none" stroke="#c4e23c" stroke-width="3.2" stroke-linecap="round"/><path d="M246.6,1812.2 Q235.7,1812.8 226.4,1818.2" fill="none" stroke="#c4e23c" stroke-width="3.2" stroke-linecap="round"/><path d="M246.6,1812.2 Q237.7,1807.5 230.4,1800.7" fill="none" stroke="#c4e23c" stroke-width="3.2" stroke-linecap="round"/><ellipse cx="258.9" cy="1796.7" rx="11.9" ry="9.7" transform="rotate(304 258.9 1796.7)" fill="#84c620"/><ellipse cx="271.7" cy="1809.9" rx="10.2" ry="7.6" transform="rotate(354 271.7 1809.9)" fill="#8ccb22"/><ellipse cx="254.3" cy="1825.4" rx="11.9" ry="9.6" transform="rotate(424 254.3 1825.4)" fill="#8ccb22"/><ellipse cx="226.4" cy="1818.2" rx="9.5" ry="7.2" transform="rotate(521 226.4 1818.2)" fill="#8ccb22"/><ellipse cx="230.4" cy="1800.7" rx="8.9" ry="8.2" transform="rotate(580 230.4 1800.7)" fill="#9cd426"/><path d="M288.5,1809.5 Q277.8,1805.7 267.9,1800.5" fill="none" stroke="#c4e23c" stroke-width="3.2" stroke-linecap="round"/><path d="M288.5,1809.5 Q291.6,1802.8 293.9,1795.7" fill="none" stroke="#c4e23c" stroke-width="3.2" stroke-linecap="round"/><path d="M288.5,1809.5 Q297.0,1814.6 307.0,1815.9" fill="none" stroke="#c4e23c" stroke-width="3.2" stroke-linecap="round"/><path d="M288.5,1809.5 Q285.0,1818.7 274.8,1821.1" fill="none" stroke="#c4e23c" stroke-width="3.2" stroke-linecap="round"/><ellipse cx="267.9" cy="1800.5" rx="10.1" ry="7.3" transform="rotate(207 267.9 1800.5)" fill="#8ccb22"/><ellipse cx="293.9" cy="1795.7" rx="9.7" ry="8.0" transform="rotate(289 293.9 1795.7)" fill="#bae238"/><ellipse cx="307.0" cy="1815.9" rx="10.9" ry="8.6" transform="rotate(382 307.0 1815.9)" fill="#9cd426"/><ellipse cx="274.8" cy="1821.1" rx="11.1" ry="8.8" transform="rotate(495 274.8 1821.1)" fill="#bae238"/><path d="M351.8,1822.4 Q345.8,1828.6 340.7,1835.4" fill="none" stroke="#c4e23c" stroke-width="3.2" stroke-linecap="round"/><path d="M351.8,1822.4 Q345.6,1822.8 339.4,1822.7" fill="none" stroke="#c4e23c" stroke-width="3.2" stroke-linecap="round"/><path d="M351.8,1822.4 Q347.0,1817.2 344.3,1810.9" fill="none" stroke="#c4e23c" stroke-width="3.2" stroke-linecap="round"/><path d="M351.8,1822.4 Q357.6,1816.5 363.6,1810.8" fill="none" stroke="#c4e23c" stroke-width="3.2" stroke-linecap="round"/><path d="M351.8,1822.4 Q359.8,1824.7 366.5,1829.3" fill="none" stroke="#c4e23c" stroke-width="3.2" stroke-linecap="round"/><ellipse cx="340.7" cy="1835.4" rx="12.5" ry="10.5" transform="rotate(126 340.7 1835.4)" fill="#bae238"/><ellipse cx="339.4" cy="1822.7" rx="10.8" ry="8.7" transform="rotate(178 339.4 1822.7)" fill="#8ccb22"/><ellipse cx="344.3" cy="1810.9" rx="12.2" ry="9.2" transform="rotate(241 344.3 1810.9)" fill="#8ccb22"/><ellipse cx="363.6" cy="1810.8" rx="12.0" ry="10.7" transform="rotate(311 363.6 1810.8)" fill="#8ccb22"/><ellipse cx="366.5" cy="1829.3" rx="11.1" ry="10.3" transform="rotate(389 366.5 1829.3)" fill="#9cd426"/><path d="M407.9,1824.3 Q416.4,1832.1 417.3,1843.0" fill="none" stroke="#c4e23c" stroke-width="3.2" stroke-linecap="round"/><path d="M407.9,1824.3 Q399.7,1825.2 392.1,1822.4" fill="none" stroke="#c4e23c" stroke-width="3.2" stroke-linecap="round"/><path d="M407.9,1824.3 Q404.0,1813.1 409.9,1802.7" fill="none" stroke="#c4e23c" stroke-width="3.2" stroke-linecap="round"/><path d="M407.9,1824.3 Q416.8,1822.5 424.3,1827.3" fill="none" stroke="#c4e23c" stroke-width="3.2" stroke-linecap="round"/><ellipse cx="417.3" cy="1843.0" rx="12.3" ry="9.7" transform="rotate(67 417.3 1843.0)" fill="#8ccb22"/><ellipse cx="392.1" cy="1822.4" rx="12.2" ry="10.8" transform="rotate(188 392.1 1822.4)" fill="#aeda2e"/><ellipse cx="409.9" cy="1802.7" rx="10.8" ry="8.1" transform="rotate(274 409.9 1802.7)" fill="#9cd426"/><ellipse cx="424.3" cy="1827.3" rx="9.3" ry="7.9" transform="rotate(372 424.3 1827.3)" fill="#aeda2e"/><path d="M433.8,1823.8 Q424.6,1829.1 414.4,1825.8" fill="none" stroke="#c4e23c" stroke-width="3.2" stroke-linecap="round"/><path d="M433.8,1823.8 Q428.3,1814.8 430.2,1804.7" fill="none" stroke="#c4e23c" stroke-width="3.2" stroke-linecap="round"/><path d="M433.8,1823.8 Q438.6,1820.3 444.2,1817.8" fill="none" stroke="#c4e23c" stroke-width="3.2" stroke-linecap="round"/><path d="M433.8,1823.8 Q429.7,1831.2 432.9,1839.0" fill="none" stroke="#c4e23c" stroke-width="3.2" stroke-linecap="round"/><ellipse cx="414.4" cy="1825.8" rx="10.8" ry="9.7" transform="rotate(173 414.4 1825.8)" fill="#bae238"/><ellipse cx="430.2" cy="1804.7" rx="10.2" ry="9.4" transform="rotate(261 430.2 1804.7)" fill="#aeda2e"/><ellipse cx="444.2" cy="1817.8" rx="9.6" ry="8.6" transform="rotate(326 444.2 1817.8)" fill="#84c620"/><ellipse cx="432.9" cy="1839.0" rx="10.5" ry="9.9" transform="rotate(453 432.9 1839.0)" fill="#aeda2e"/><path d="M485.8,1814.8 Q481.2,1810.8 481.9,1805.0" fill="none" stroke="#c4e23c" stroke-width="3.2" stroke-linecap="round"/><path d="M485.8,1814.8 Q492.8,1815.5 497.3,1810.4" fill="none" stroke="#c4e23c" stroke-width="3.2" stroke-linecap="round"/><path d="M485.8,1814.8 Q486.4,1822.7 492.9,1827.9" fill="none" stroke="#c4e23c" stroke-width="3.2" stroke-linecap="round"/><path d="M485.8,1814.8 Q476.8,1814.8 471.6,1821.6" fill="none" stroke="#c4e23c" stroke-width="3.2" stroke-linecap="round"/><ellipse cx="481.9" cy="1805.0" rx="12.5" ry="9.3" transform="rotate(252 481.9 1805.0)" fill="#8ccb22"/><ellipse cx="497.3" cy="1810.4" rx="11.0" ry="8.0" transform="rotate(336 497.3 1810.4)" fill="#8ccb22"/><ellipse cx="492.9" cy="1827.9" rx="10.9" ry="9.8" transform="rotate(425 492.9 1827.9)" fill="#9cd426"/><ellipse cx="471.6" cy="1821.6" rx="12.4" ry="9.3" transform="rotate(510 471.6 1821.6)" fill="#9cd426"/><path d="M511.8,1827.0 Q508.7,1837.1 507.4,1847.5" fill="none" stroke="#c4e23c" stroke-width="3.2" stroke-linecap="round"/><path d="M511.8,1827.0 Q505.7,1824.1 499.2,1825.9" fill="none" stroke="#c4e23c" stroke-width="3.2" stroke-linecap="round"/><path d="M511.8,1827.0 Q504.8,1818.8 501.4,1808.8" fill="none" stroke="#c4e23c" stroke-width="3.2" stroke-linecap="round"/><path d="M511.8,1827.0 Q521.6,1822.7 526.8,1813.9" fill="none" stroke="#c4e23c" stroke-width="3.2" stroke-linecap="round"/><path d="M511.8,1827.0 Q517.9,1828.1 523.5,1830.7" fill="none" stroke="#c4e23c" stroke-width="3.2" stroke-linecap="round"/><ellipse cx="507.4" cy="1847.5" rx="12.3" ry="10.4" transform="rotate(100 507.4 1847.5)" fill="#84c620"/><ellipse cx="499.2" cy="1825.9" rx="10.8" ry="9.7" transform="rotate(186 499.2 1825.9)" fill="#9cd426"/><ellipse cx="501.4" cy="1808.8" rx="9.8" ry="7.8" transform="rotate(244 501.4 1808.8)" fill="#aeda2e"/><ellipse cx="526.8" cy="1813.9" rx="12.1" ry="9.7" transform="rotate(314 526.8 1813.9)" fill="#bae238"/><ellipse cx="523.5" cy="1830.7" rx="11.1" ry="9.8" transform="rotate(380 523.5 1830.7)" fill="#bae238"/><path d="M568.7,1807.8 Q570.8,1815.2 576.7,1820.6" fill="none" stroke="#c4e23c" stroke-width="3.2" stroke-linecap="round"/><path d="M568.7,1807.8 Q565.1,1812.9 559.7,1816.2" fill="none" stroke="#c4e23c" stroke-width="3.2" stroke-linecap="round"/><path d="M568.7,1807.8 Q558.4,1807.4 552.3,1799.6" fill="none" stroke="#c4e23c" stroke-width="3.2" stroke-linecap="round"/><path d="M568.7,1807.8 Q575.8,1800.2 578.0,1790.3" fill="none" stroke="#c4e23c" stroke-width="3.2" stroke-linecap="round"/><path d="M568.7,1807.8 Q579.8,1808.6 589.0,1802.9" fill="none" stroke="#c4e23c" stroke-width="3.2" stroke-linecap="round"/><ellipse cx="576.7" cy="1820.6" rx="8.7" ry="6.4" transform="rotate(62 576.7 1820.6)" fill="#9cd426"/><ellipse cx="559.7" cy="1816.2" rx="11.1" ry="8.8" transform="rotate(132 559.7 1816.2)" fill="#9cd426"/><ellipse cx="552.3" cy="1799.6" rx="9.8" ry="9.2" transform="rotate(211 552.3 1799.6)" fill="#9cd426"/><ellipse cx="578.0" cy="1790.3" rx="10.9" ry="9.4" transform="rotate(294 578.0 1790.3)" fill="#84c620"/><ellipse cx="589.0" cy="1802.9" rx="10.5" ry="9.5" transform="rotate(344 589.0 1802.9)" fill="#84c620"/><path d="M40.0,1815.0 Q48.6,1811.9 57.6,1813.8" fill="none" stroke="#c4e23c" stroke-width="2.9" stroke-linecap="round"/><path d="M40.0,1815.0 Q43.1,1822.9 48.6,1829.6" fill="none" stroke="#c4e23c" stroke-width="2.9" stroke-linecap="round"/><path d="M40.0,1815.0 Q32.7,1815.5 26.0,1818.2" fill="none" stroke="#c4e23c" stroke-width="2.9" stroke-linecap="round"/><path d="M40.0,1815.0 Q32.6,1808.2 29.3,1799.1" fill="none" stroke="#c4e23c" stroke-width="2.9" stroke-linecap="round"/><path d="M40.0,1815.0 Q43.3,1807.0 45.7,1798.7" fill="none" stroke="#c4e23c" stroke-width="2.9" stroke-linecap="round"/><ellipse cx="57.6" cy="1813.8" rx="10.0" ry="8.2" transform="rotate(-5 57.6 1813.8)" fill="#bae238"/><ellipse cx="48.6" cy="1829.6" rx="8.0" ry="6.5" transform="rotate(64 48.6 1829.6)" fill="#aeda2e"/><ellipse cx="26.0" cy="1818.2" rx="11.0" ry="8.6" transform="rotate(165 26.0 1818.2)" fill="#bae238"/><ellipse cx="29.3" cy="1799.1" rx="8.6" ry="6.5" transform="rotate(240 29.3 1799.1)" fill="#84c620"/><ellipse cx="45.7" cy="1798.7" rx="10.6" ry="9.1" transform="rotate(287 45.7 1798.7)" fill="#9cd426"/>

</g></g>
<rect x="33.25" y="1754.45" width="570.00" height="624.80" fill="none" stroke="#263654" stroke-width="1.5" opacity="0.55"/>
<text x="171.6" y="2365.6" font-size="50.00" font-weight="bold" fill="#fff" stroke="#fff" stroke-width="0.7">100 mM NaCl</text>
<rect x="510.8" y="2350" width="80.0" height="12.0" fill="#fff"/>
<clipPath id="cp4"><rect x="624" y="115.5" width="573" height="604.8"/></clipPath>
<g clip-path="url(#cp4)"><g filter="url(#soft)">
<rect x="624" y="115.5" width="573" height="604.8" fill="#354a70"/>
<linearGradient id="lg4" x1="0" y1="0" x2="0" y2="1"><stop offset="0" stop-color="#38566a" stop-opacity="0.45"/><stop offset="0.35" stop-color="#38566a" stop-opacity="0.1"/><stop offset="0.6" stop-color="#38566a" stop-opacity="0"/><stop offset="1" stop-color="#38566a" stop-opacity="0"/></linearGradient>
<rect x="624" y="115.5" width="573" height="604.8" fill="url(#lg4)"/>
<rect x="624" y="115.5" width="573" height="604.8" filter="url(#mtA)" opacity="0.35"/>
<rect x="624" y="115.5" width="573" height="604.8" filter="url(#mtB)" opacity="0.25"/>
<rect x="654.8" y="115.5" width="8" height="604.8" fill="#a8a4ac" opacity="0.2"/>
<rect x="657.3" y="115.5" width="3" height="604.8" fill="#d8d0c8" opacity="0.2"/>
<rect x="787.2" y="115.5" width="8" height="604.8" fill="#a8a4ac" opacity="0.2"/>
<rect x="789.7" y="115.5" width="3" height="604.8" fill="#d8d0c8" opacity="0.2"/>
<rect x="921.2" y="115.5" width="8" height="604.8" fill="#a8a4ac" opacity="0.2"/>
<rect x="923.7" y="115.5" width="3" height="604.8" fill="#d8d0c8" opacity="0.2"/>
<rect x="1053.7" y="115.5" width="8" height="604.8" fill="#a8a4ac" opacity="0.2"/>
<rect x="1056.2" y="115.5" width="3" height="604.8" fill="#d8d0c8" opacity="0.2"/>
<rect x="1187.7" y="115.5" width="8" height="604.8" fill="#a8a4ac" opacity="0.2"/>
<rect x="1190.2" y="115.5" width="3" height="604.8" fill="#d8d0c8" opacity="0.2"/>
<rect x="624" y="218.3" width="573" height="3" fill="#a8a0a8" opacity="0.13"/>
<rect x="624" y="350.7" width="573" height="3" fill="#a8a0a8" opacity="0.13"/>
<rect x="624" y="484.8" width="573" height="3" fill="#a8a0a8" opacity="0.13"/>
<rect x="624" y="618.8" width="573" height="3" fill="#a8a0a8" opacity="0.13"/>

<path d="M679.8,252.1 L678.7,264.1 L678.2,276.1 L678.4,288.1 L677.5,300.1 L678.4,312.1 L677.6,324.1 L676.5,336.1 L675.2,348.2 L676.5,360.2 L676.5,372.2 L676.6,384.2 L676.5,396.2 L676.2,408.2 L674.6,420.2 L675.1,432.2 L674.6,444.2 L674.4,456.2 L674.1,468.2 L673.9,480.2 L673.2,492.2 L671.4,504.2 L671.9,516.2 L671.6,528.3 L671.1,540.3 L670.7,552.3 L669.0,564.3 L668.1,576.3 L668.8,588.3 L668.6,600.3 L668.5,612.3" fill="none" stroke="#d0d0c8" stroke-width="2.3" stroke-linecap="round" stroke-linejoin="round" opacity="0.68"/>
<path d="M712.0,232.7 L712.6,244.8 L712.0,256.8 L711.3,268.9 L711.5,280.9 L711.6,293.0 L712.6,305.1 L712.4,317.1 L713.8,329.2 L713.7,341.2 L713.4,353.3 L714.6,365.4 L714.9,377.4 L715.5,389.5 L714.2,401.5 L713.8,413.6 L714.3,425.7 L714.0,437.7 L714.6,449.8 L715.8,461.8 L715.5,473.9 L715.5,486.0 L716.3,498.0 L715.5,510.1 L714.7,522.1 L715.2,534.2 L714.7,546.3 L716.5,558.3 L715.7,570.4 L715.6,582.4 L717.0,594.5" fill="none" stroke="#d0d0c8" stroke-width="2.3" stroke-linecap="round" stroke-linejoin="round" opacity="0.68"/>
<path d="M746.0,226.3 L746.9,238.6 L747.7,250.8 L748.5,263.1 L748.2,275.4 L749.2,287.6 L749.2,299.9 L751.1,312.1 L752.9,324.4 L753.3,336.7 L753.0,348.9 L753.9,361.2 L754.2,373.5 L755.0,385.7 L754.9,398.0 L755.1,410.2 L756.3,422.5 L757.1,434.8 L758.8,447.0 L758.6,459.3 L760.4,471.6 L761.6,483.8 L761.9,496.1 L763.6,508.3 L762.8,520.6 L763.6,532.9 L765.1,545.1 L766.0,557.4 L765.7,569.7 L766.5,581.9 L766.0,594.2 L766.7,606.4 L768.6,618.7" fill="none" stroke="#d0d0c8" stroke-width="2.3" stroke-linecap="round" stroke-linejoin="round" opacity="0.68"/>
<path d="M810.6,245.7 L811.8,257.7 L811.6,269.8 L811.8,281.8 L813.3,293.8 L813.9,305.8 L814.2,317.9 L813.6,329.9 L814.7,341.9 L815.0,353.9 L815.1,366.0 L816.3,378.0 L815.6,390.0 L815.9,402.1 L816.7,414.1 L817.2,426.1 L817.7,438.1 L818.7,450.2 L819.4,462.2 L818.8,474.2 L818.9,486.3 L820.5,498.3 L820.5,510.3 L820.0,522.3 L820.6,534.4 L822.2,546.4 L821.6,558.4 L821.5,570.4 L821.8,582.5 L823.5,594.5" fill="none" stroke="#d0d0c8" stroke-width="2.3" stroke-linecap="round" stroke-linejoin="round" opacity="0.68"/>
<path d="M846.1,261.8 L846.4,274.0 L846.1,286.2 L846.4,298.4 L847.2,310.6 L847.1,322.8 L848.1,335.0 L849.3,347.2 L849.9,359.4 L850.4,371.6 L851.5,383.8 L851.5,396.0 L850.8,408.2 L852.3,420.4 L853.1,432.7 L853.2,444.9 L854.2,457.1 L855.3,469.3 L855.4,481.5 L855.1,493.7 L855.7,505.9 L856.5,518.1 L856.1,530.3 L857.6,542.5 L857.4,554.7 L857.4,566.9 L857.1,579.1 L859.0,591.3" fill="none" stroke="#d0d0c8" stroke-width="2.3" stroke-linecap="round" stroke-linejoin="round" opacity="0.68"/>
<path d="M875.2,261.8 L875.6,274.3 L876.7,286.8 L875.5,299.2 L875.3,311.7 L874.3,324.2 L875.1,336.7 L876.2,349.2 L877.1,361.7 L876.8,374.1 L875.4,386.6 L875.2,399.1 L876.2,411.6 L875.7,424.1 L877.0,436.5 L876.8,449.0 L877.5,461.5 L877.2,474.0 L878.2,486.5 L876.7,499.0 L876.9,511.4 L876.8,523.9 L876.8,536.4" fill="none" stroke="#d0d0c8" stroke-width="2.3" stroke-linecap="round" stroke-linejoin="round" opacity="0.68"/>
<path d="M930.0,239.2 L931.0,251.4 L933.0,263.6 L934.8,275.8 L934.3,288.0 L936.0,300.1 L937.5,312.3 L938.4,324.5 L939.6,336.7 L941.2,348.9 L941.7,361.1 L942.7,373.3 L944.2,385.5 L943.9,397.7 L946.3,409.9 L948.3,422.1 L949.3,434.2 L949.2,446.4 L949.3,458.6 L950.8,470.8 L952.7,483.0" fill="none" stroke="#d0d0c8" stroke-width="2.3" stroke-linecap="round" stroke-linejoin="round" opacity="0.68"/>
<path d="M965.6,265.0 L966.2,277.3 L966.4,289.6 L966.6,301.9 L968.5,314.2 L968.6,326.5 L969.6,338.8 L969.3,351.1 L969.9,363.4 L969.3,375.6 L969.7,387.9 L970.8,400.2 L971.4,412.5 L972.8,424.8 L972.8,437.1 L973.9,449.4 L973.4,461.7 L974.5,474.0 L975.3,486.3" fill="none" stroke="#d0d0c8" stroke-width="2.3" stroke-linecap="round" stroke-linejoin="round" opacity="0.68"/>
<path d="M1015.7,219.8 L1015.6,232.2 L1017.6,244.7 L1018.8,257.1 L1017.9,269.5 L1018.4,282.0 L1020.0,294.4 L1020.2,306.8 L1020.3,319.2 L1022.1,331.7 L1022.5,344.1 L1022.3,356.5 L1023.5,369.0 L1023.7,381.4 L1023.5,393.8 L1023.7,406.3 L1023.9,418.7 L1025.3,431.1 L1026.1,443.5 L1026.3,456.0 L1026.8,468.4 L1027.7,480.8 L1029.6,493.3 L1030.2,505.7" fill="none" stroke="#d0d0c8" stroke-width="2.3" stroke-linecap="round" stroke-linejoin="round" opacity="0.68"/>
<path d="M1081.9,245.7 L1082.7,258.3 L1083.1,270.9 L1084.3,283.4 L1083.4,296.0 L1083.6,308.6 L1083.5,321.2 L1083.5,333.8 L1084.5,346.3 L1085.7,358.9 L1086.3,371.5 L1086.8,384.1 L1086.3,396.6 L1085.9,409.2 L1087.5,421.8 L1087.8,434.4 L1088.5,447.0 L1089.1,459.5 L1088.7,472.1 L1088.3,484.7" fill="none" stroke="#d0d0c8" stroke-width="2.3" stroke-linecap="round" stroke-linejoin="round" opacity="0.68"/>
<path d="M1133.6,265.0 L1133.1,277.2 L1132.1,289.4 L1132.0,301.6 L1131.2,313.9 L1131.8,326.1 L1130.8,338.3 L1130.2,350.5 L1130.3,362.7 L1131.7,374.9 L1132.6,387.1 L1131.5,399.3 L1131.6,411.5 L1130.7,423.8 L1130.8,436.0 L1131.6,448.2 L1130.3,460.4" fill="none" stroke="#d0d0c8" stroke-width="2.3" stroke-linecap="round" stroke-linejoin="round" opacity="0.68"/>
<path d="M1165.9,236.0 L1166.0,248.2 L1165.3,260.4 L1166.7,272.6 L1167.8,284.8 L1167.6,296.9 L1168.0,309.1 L1167.7,321.3 L1167.1,333.5 L1166.3,345.7 L1166.3,357.9 L1165.8,370.1 L1166.2,382.3 L1166.1,394.5 L1167.3,406.7 L1167.4,418.9 L1168.5,431.0 L1169.0,443.2 L1169.1,455.4 L1170.3,467.6 L1169.1,479.8" fill="none" stroke="#d0d0c8" stroke-width="2.3" stroke-linecap="round" stroke-linejoin="round" opacity="0.68"/>
<path d="M679.8,252.1 L680.3,229.5" stroke="#c2de38" stroke-width="3.6" fill="none" stroke-linecap="round"/><path d="M712.0,232.7 L712.5,209.8" stroke="#c2de38" stroke-width="3.6" fill="none" stroke-linecap="round"/><path d="M746.0,226.3 L742.2,204.1" stroke="#c2de38" stroke-width="3.6" fill="none" stroke-linecap="round"/><path d="M810.6,245.7 L812.7,219.8" stroke="#c2de38" stroke-width="3.6" fill="none" stroke-linecap="round"/><path d="M846.1,261.8 L846.6,233.4" stroke="#c2de38" stroke-width="3.6" fill="none" stroke-linecap="round"/><path d="M875.2,261.8 L872.1,228.4" stroke="#c2de38" stroke-width="3.6" fill="none" stroke-linecap="round"/><path d="M930.0,239.2 L929.5,210.3" stroke="#c2de38" stroke-width="3.6" fill="none" stroke-linecap="round"/><path d="M965.6,265.0 L968.2,233.8" stroke="#c2de38" stroke-width="3.6" fill="none" stroke-linecap="round"/><path d="M1015.7,219.8 L1017.2,186.3" stroke="#c2de38" stroke-width="3.6" fill="none" stroke-linecap="round"/><path d="M1081.9,245.7 L1079.3,220.7" stroke="#c2de38" stroke-width="3.6" fill="none" stroke-linecap="round"/><path d="M1133.6,265.0 L1133.8,231.5" stroke="#c2de38" stroke-width="3.6" fill="none" stroke-linecap="round"/><path d="M1165.9,236.0 L1169.0,202.5" stroke="#c2de38" stroke-width="3.6" fill="none" stroke-linecap="round"/><path d="M680.3,229.5 Q691.5,228.0 699.5,221.0" fill="none" stroke="#c2de38" stroke-width="3.6" stroke-linecap="round"/><path d="M680.3,229.5 Q690.9,234.3 696.4,243.7" fill="none" stroke="#c2de38" stroke-width="3.6" stroke-linecap="round"/><path d="M680.3,229.5 Q674.5,241.5 678.3,254.2" fill="none" stroke="#c2de38" stroke-width="3.6" stroke-linecap="round"/><path d="M680.3,229.5 Q670.0,231.1 661.9,236.9" fill="none" stroke="#c2de38" stroke-width="3.6" stroke-linecap="round"/><path d="M680.3,229.5 Q664.3,235.7 647.9,230.0" fill="none" stroke="#c2de38" stroke-width="3.6" stroke-linecap="round"/><path d="M680.3,229.5 Q664.3,218.4 666.2,200.4" fill="none" stroke="#c2de38" stroke-width="3.6" stroke-linecap="round"/><path d="M680.3,229.5 Q688.9,224.0 696.0,217.0" fill="none" stroke="#c2de38" stroke-width="3.6" stroke-linecap="round"/><ellipse cx="699.5" cy="221.0" rx="12.4" ry="10.3" transform="rotate(331 699.5 221.0)" fill="#74c822"/><ellipse cx="696.4" cy="243.7" rx="12.8" ry="10.4" transform="rotate(408 696.4 243.7)" fill="#8ed425"/><ellipse cx="678.3" cy="254.2" rx="10.3" ry="8.6" transform="rotate(454 678.3 254.2)" fill="#5cc21e"/><ellipse cx="661.9" cy="236.9" rx="8.4" ry="7.0" transform="rotate(513 661.9 236.9)" fill="#8ed425"/><ellipse cx="647.9" cy="230.0" rx="10.1" ry="8.3" transform="rotate(539 647.9 230.0)" fill="#3db81a"/><ellipse cx="666.2" cy="200.4" rx="12.0" ry="11.2" transform="rotate(609 666.2 200.4)" fill="#5cc21e"/><ellipse cx="696.0" cy="217.0" rx="10.7" ry="7.9" transform="rotate(675 696.0 217.0)" fill="#5cc21e"/><path d="M712.5,209.8 Q725.1,215.5 730.7,227.2" fill="none" stroke="#c2de38" stroke-width="3.6" stroke-linecap="round"/><path d="M712.5,209.8 Q707.8,221.1 699.6,230.8" fill="none" stroke="#c2de38" stroke-width="3.6" stroke-linecap="round"/><path d="M712.5,209.8 Q704.5,215.1 695.1,218.3" fill="none" stroke="#c2de38" stroke-width="3.6" stroke-linecap="round"/><path d="M712.5,209.8 Q707.0,202.3 698.2,197.9" fill="none" stroke="#c2de38" stroke-width="3.6" stroke-linecap="round"/><path d="M712.5,209.8 Q712.7,195.7 701.4,185.9" fill="none" stroke="#c2de38" stroke-width="3.6" stroke-linecap="round"/><path d="M712.5,209.8 Q726.6,201.5 739.5,191.8" fill="none" stroke="#c2de38" stroke-width="3.6" stroke-linecap="round"/><path d="M712.5,209.8 Q728.8,219.6 747.1,213.0" fill="none" stroke="#c2de38" stroke-width="3.6" stroke-linecap="round"/><ellipse cx="730.7" cy="227.2" rx="9.2" ry="7.9" transform="rotate(50 730.7 227.2)" fill="#5cc21e"/><ellipse cx="699.6" cy="230.8" rx="12.5" ry="11.5" transform="rotate(116 699.6 230.8)" fill="#4cbc1c"/><ellipse cx="695.1" cy="218.3" rx="9.4" ry="8.8" transform="rotate(148 695.1 218.3)" fill="#5cc21e"/><ellipse cx="698.2" cy="197.9" rx="12.5" ry="11.1" transform="rotate(226 698.2 197.9)" fill="#a8d82e"/><ellipse cx="701.4" cy="185.9" rx="9.3" ry="7.3" transform="rotate(250 701.4 185.9)" fill="#a8d82e"/><ellipse cx="739.5" cy="191.8" rx="8.8" ry="6.7" transform="rotate(320 739.5 191.8)" fill="#4cbc1c"/><ellipse cx="747.1" cy="213.0" rx="10.2" ry="7.8" transform="rotate(367 747.1 213.0)" fill="#8ed425"/><path d="M742.2,204.1 Q754.0,212.9 769.3,211.4" fill="none" stroke="#c2de38" stroke-width="3.6" stroke-linecap="round"/><path d="M742.2,204.1 Q741.1,213.6 733.9,220.7" fill="none" stroke="#c2de38" stroke-width="3.6" stroke-linecap="round"/><path d="M742.2,204.1 Q732.9,202.5 723.8,200.1" fill="none" stroke="#c2de38" stroke-width="3.6" stroke-linecap="round"/><path d="M742.2,204.1 Q737.7,196.7 741.1,188.8" fill="none" stroke="#c2de38" stroke-width="3.6" stroke-linecap="round"/><path d="M742.2,204.1 Q756.9,193.7 775.3,190.0" fill="none" stroke="#c2de38" stroke-width="3.6" stroke-linecap="round"/><ellipse cx="769.3" cy="211.4" rx="11.8" ry="9.6" transform="rotate(19 769.3 211.4)" fill="#a8d82e"/><ellipse cx="733.9" cy="220.7" rx="12.8" ry="12.0" transform="rotate(112 733.9 220.7)" fill="#3db81a"/><ellipse cx="723.8" cy="200.1" rx="8.3" ry="6.0" transform="rotate(195 723.8 200.1)" fill="#8ed425"/><ellipse cx="741.1" cy="188.8" rx="10.7" ry="7.9" transform="rotate(267 741.1 188.8)" fill="#8ed425"/><ellipse cx="775.3" cy="190.0" rx="10.3" ry="8.1" transform="rotate(332 775.3 190.0)" fill="#74c822"/><path d="M812.7,219.8 Q817.7,209.1 830.4,206.8" fill="none" stroke="#c2de38" stroke-width="3.6" stroke-linecap="round"/><path d="M812.7,219.8 Q831.0,217.0 847.4,224.8" fill="none" stroke="#c2de38" stroke-width="3.6" stroke-linecap="round"/><path d="M812.7,219.8 Q808.8,235.1 818.9,247.8" fill="none" stroke="#c2de38" stroke-width="3.6" stroke-linecap="round"/><path d="M812.7,219.8 Q807.5,238.1 787.4,244.1" fill="none" stroke="#c2de38" stroke-width="3.6" stroke-linecap="round"/><path d="M812.7,219.8 Q798.5,222.0 784.7,218.3" fill="none" stroke="#c2de38" stroke-width="3.6" stroke-linecap="round"/><path d="M812.7,219.8 Q810.5,208.7 807.2,197.8" fill="none" stroke="#c2de38" stroke-width="3.6" stroke-linecap="round"/><ellipse cx="830.4" cy="206.8" rx="10.1" ry="9.2" transform="rotate(317 830.4 206.8)" fill="#5cc21e"/><ellipse cx="847.4" cy="224.8" rx="11.8" ry="11.1" transform="rotate(370 847.4 224.8)" fill="#4cbc1c"/><ellipse cx="818.9" cy="247.8" rx="10.1" ry="9.0" transform="rotate(440 818.9 247.8)" fill="#a8d82e"/><ellipse cx="787.4" cy="244.1" rx="10.8" ry="9.5" transform="rotate(490 787.4 244.1)" fill="#a8d82e"/><ellipse cx="784.7" cy="218.3" rx="11.0" ry="9.6" transform="rotate(544 784.7 218.3)" fill="#74c822"/><ellipse cx="807.2" cy="197.8" rx="10.3" ry="9.4" transform="rotate(619 807.2 197.8)" fill="#3db81a"/><path d="M846.6,233.4 Q832.3,225.2 825.4,211.3" fill="none" stroke="#c2de38" stroke-width="3.6" stroke-linecap="round"/><path d="M846.6,233.4 Q857.7,225.9 864.1,215.0" fill="none" stroke="#c2de38" stroke-width="3.6" stroke-linecap="round"/><path d="M846.6,233.4 Q855.7,233.6 864.6,232.4" fill="none" stroke="#c2de38" stroke-width="3.6" stroke-linecap="round"/><path d="M846.6,233.4 Q846.9,245.5 853.7,256.1" fill="none" stroke="#c2de38" stroke-width="3.6" stroke-linecap="round"/><path d="M846.6,233.4 Q835.4,240.0 831.0,251.4" fill="none" stroke="#c2de38" stroke-width="3.6" stroke-linecap="round"/><path d="M846.6,233.4 Q828.3,227.8 811.9,237.0" fill="none" stroke="#c2de38" stroke-width="3.6" stroke-linecap="round"/><ellipse cx="825.4" cy="211.3" rx="8.4" ry="6.9" transform="rotate(232 825.4 211.3)" fill="#5cc21e"/><ellipse cx="864.1" cy="215.0" rx="10.1" ry="7.9" transform="rotate(307 864.1 215.0)" fill="#3db81a"/><ellipse cx="864.6" cy="232.4" rx="13.0" ry="11.2" transform="rotate(356 864.6 232.4)" fill="#8ed425"/><ellipse cx="853.7" cy="256.1" rx="11.7" ry="10.8" transform="rotate(436 853.7 256.1)" fill="#8ed425"/><ellipse cx="831.0" cy="251.4" rx="8.3" ry="7.1" transform="rotate(485 831.0 251.4)" fill="#74c822"/><ellipse cx="811.9" cy="237.0" rx="11.6" ry="11.0" transform="rotate(533 811.9 237.0)" fill="#3db81a"/><path d="M872.1,228.4 Q867.4,236.9 867.4,246.5" fill="none" stroke="#c2de38" stroke-width="3.6" stroke-linecap="round"/><path d="M872.1,228.4 Q857.8,232.8 842.9,235.0" fill="none" stroke="#c2de38" stroke-width="3.6" stroke-linecap="round"/><path d="M872.1,228.4 Q867.3,220.5 858.4,216.5" fill="none" stroke="#c2de38" stroke-width="3.6" stroke-linecap="round"/><path d="M872.1,228.4 Q878.6,219.5 881.8,209.3" fill="none" stroke="#c2de38" stroke-width="3.6" stroke-linecap="round"/><path d="M872.1,228.4 Q891.5,225.3 908.4,234.4" fill="none" stroke="#c2de38" stroke-width="3.6" stroke-linecap="round"/><ellipse cx="867.4" cy="246.5" rx="12.3" ry="10.4" transform="rotate(102 867.4 246.5)" fill="#74c822"/><ellipse cx="842.9" cy="235.0" rx="10.1" ry="7.6" transform="rotate(164 842.9 235.0)" fill="#8ed425"/><ellipse cx="858.4" cy="216.5" rx="11.7" ry="8.7" transform="rotate(227 858.4 216.5)" fill="#8ed425"/><ellipse cx="881.8" cy="209.3" rx="12.5" ry="11.4" transform="rotate(292 881.8 209.3)" fill="#8ed425"/><ellipse cx="908.4" cy="234.4" rx="8.4" ry="7.3" transform="rotate(372 908.4 234.4)" fill="#4cbc1c"/><path d="M929.5,210.3 Q935.3,217.5 945.0,219.0" fill="none" stroke="#c2de38" stroke-width="3.6" stroke-linecap="round"/><path d="M929.5,210.3 Q933.6,225.8 925.3,239.9" fill="none" stroke="#c2de38" stroke-width="3.6" stroke-linecap="round"/><path d="M929.5,210.3 Q928.4,218.6 920.9,223.6" fill="none" stroke="#c2de38" stroke-width="3.6" stroke-linecap="round"/><path d="M929.5,210.3 Q915.5,209.9 901.4,210.3" fill="none" stroke="#c2de38" stroke-width="3.6" stroke-linecap="round"/><path d="M929.5,210.3 Q929.0,193.4 915.7,181.3" fill="none" stroke="#c2de38" stroke-width="3.6" stroke-linecap="round"/><path d="M929.5,210.3 Q927.0,200.1 931.6,190.5" fill="none" stroke="#c2de38" stroke-width="3.6" stroke-linecap="round"/><path d="M929.5,210.3 Q938.5,206.5 948.4,207.3" fill="none" stroke="#c2de38" stroke-width="3.6" stroke-linecap="round"/><ellipse cx="945.0" cy="219.0" rx="8.1" ry="7.3" transform="rotate(35 945.0 219.0)" fill="#4cbc1c"/><ellipse cx="925.3" cy="239.9" rx="9.5" ry="7.9" transform="rotate(97 925.3 239.9)" fill="#74c822"/><ellipse cx="920.9" cy="223.6" rx="11.7" ry="9.9" transform="rotate(117 920.9 223.6)" fill="#8ed425"/><ellipse cx="901.4" cy="210.3" rx="8.1" ry="6.9" transform="rotate(180 901.4 210.3)" fill="#4cbc1c"/><ellipse cx="915.7" cy="181.3" rx="10.5" ry="8.5" transform="rotate(249 915.7 181.3)" fill="#5cc21e"/><ellipse cx="931.6" cy="190.5" rx="11.4" ry="10.4" transform="rotate(275 931.6 190.5)" fill="#3db81a"/><ellipse cx="948.4" cy="207.3" rx="12.2" ry="11.1" transform="rotate(349 948.4 207.3)" fill="#3db81a"/><path d="M968.2,233.8 Q959.3,222.2 953.3,209.2" fill="none" stroke="#c2de38" stroke-width="3.6" stroke-linecap="round"/><path d="M968.2,233.8 Q984.6,234.0 998.9,226.7" fill="none" stroke="#c2de38" stroke-width="3.6" stroke-linecap="round"/><path d="M968.2,233.8 Q967.5,248.3 980.6,256.8" fill="none" stroke="#c2de38" stroke-width="3.6" stroke-linecap="round"/><path d="M968.2,233.8 Q965.0,241.4 958.5,246.9" fill="none" stroke="#c2de38" stroke-width="3.6" stroke-linecap="round"/><path d="M968.2,233.8 Q957.8,229.0 947.7,234.3" fill="none" stroke="#c2de38" stroke-width="3.6" stroke-linecap="round"/><ellipse cx="953.3" cy="209.2" rx="8.6" ry="8.1" transform="rotate(244 953.3 209.2)" fill="#3db81a"/><ellipse cx="998.9" cy="226.7" rx="10.2" ry="9.2" transform="rotate(344 998.9 226.7)" fill="#a8d82e"/><ellipse cx="980.6" cy="256.8" rx="12.8" ry="11.1" transform="rotate(427 980.6 256.8)" fill="#4cbc1c"/><ellipse cx="958.5" cy="246.9" rx="10.4" ry="8.0" transform="rotate(481 958.5 246.9)" fill="#a8d82e"/><ellipse cx="947.7" cy="234.3" rx="10.9" ry="8.2" transform="rotate(538 947.7 234.3)" fill="#4cbc1c"/><path d="M1017.2,186.3 Q1013.7,201.7 1012.2,217.4" fill="none" stroke="#c2de38" stroke-width="3.6" stroke-linecap="round"/><path d="M1017.2,186.3 Q1000.3,189.9 984.9,197.1" fill="none" stroke="#c2de38" stroke-width="3.6" stroke-linecap="round"/><path d="M1017.2,186.3 Q1009.8,181.6 1005.1,174.7" fill="none" stroke="#c2de38" stroke-width="3.6" stroke-linecap="round"/><path d="M1017.2,186.3 Q1018.6,170.4 1014.9,154.9" fill="none" stroke="#c2de38" stroke-width="3.6" stroke-linecap="round"/><path d="M1017.2,186.3 Q1027.0,174.5 1042.4,169.5" fill="none" stroke="#c2de38" stroke-width="3.6" stroke-linecap="round"/><path d="M1017.2,186.3 Q1027.3,188.0 1035.8,193.4" fill="none" stroke="#c2de38" stroke-width="3.6" stroke-linecap="round"/><path d="M1017.2,186.3 Q1032.4,194.3 1042.6,207.1" fill="none" stroke="#c2de38" stroke-width="3.6" stroke-linecap="round"/><ellipse cx="1012.2" cy="217.4" rx="10.7" ry="9.2" transform="rotate(97 1012.2 217.4)" fill="#a8d82e"/><ellipse cx="984.9" cy="197.1" rx="11.0" ry="9.1" transform="rotate(157 984.9 197.1)" fill="#74c822"/><ellipse cx="1005.1" cy="174.7" rx="9.0" ry="8.5" transform="rotate(230 1005.1 174.7)" fill="#a8d82e"/><ellipse cx="1014.9" cy="154.9" rx="8.9" ry="7.5" transform="rotate(267 1014.9 154.9)" fill="#4cbc1c"/><ellipse cx="1042.4" cy="169.5" rx="10.8" ry="9.8" transform="rotate(320 1042.4 169.5)" fill="#4cbc1c"/><ellipse cx="1035.8" cy="193.4" rx="10.4" ry="9.2" transform="rotate(386 1035.8 193.4)" fill="#a8d82e"/><ellipse cx="1042.6" cy="207.1" rx="11.1" ry="8.6" transform="rotate(406 1042.6 207.1)" fill="#8ed425"/><path d="M1079.3,220.7 Q1064.9,219.0 1058.1,207.6" fill="none" stroke="#c2de38" stroke-width="3.6" stroke-linecap="round"/><path d="M1079.3,220.7 Q1089.6,213.9 1093.4,203.1" fill="none" stroke="#c2de38" stroke-width="3.6" stroke-linecap="round"/><path d="M1079.3,220.7 Q1094.9,222.0 1109.6,226.9" fill="none" stroke="#c2de38" stroke-width="3.6" stroke-linecap="round"/><path d="M1079.3,220.7 Q1087.9,231.6 1092.6,244.2" fill="none" stroke="#c2de38" stroke-width="3.6" stroke-linecap="round"/><path d="M1079.3,220.7 Q1069.9,220.6 1061.9,225.1" fill="none" stroke="#c2de38" stroke-width="3.6" stroke-linecap="round"/><ellipse cx="1058.1" cy="207.6" rx="12.9" ry="11.0" transform="rotate(218 1058.1 207.6)" fill="#8ed425"/><ellipse cx="1093.4" cy="203.1" rx="10.9" ry="8.7" transform="rotate(303 1093.4 203.1)" fill="#3db81a"/><ellipse cx="1109.6" cy="226.9" rx="8.3" ry="7.0" transform="rotate(374 1109.6 226.9)" fill="#3db81a"/><ellipse cx="1092.6" cy="244.2" rx="12.4" ry="11.2" transform="rotate(426 1092.6 244.2)" fill="#8ed425"/><ellipse cx="1061.9" cy="225.1" rx="10.7" ry="9.8" transform="rotate(523 1061.9 225.1)" fill="#8ed425"/><path d="M1133.8,231.5 Q1138.6,244.9 1145.2,257.7" fill="none" stroke="#c2de38" stroke-width="3.6" stroke-linecap="round"/><path d="M1133.8,231.5 Q1128.0,243.8 1114.0,248.4" fill="none" stroke="#c2de38" stroke-width="3.6" stroke-linecap="round"/><path d="M1133.8,231.5 Q1115.5,234.3 1099.4,226.0" fill="none" stroke="#c2de38" stroke-width="3.6" stroke-linecap="round"/><path d="M1133.8,231.5 Q1135.9,223.7 1131.1,217.1" fill="none" stroke="#c2de38" stroke-width="3.6" stroke-linecap="round"/><path d="M1133.8,231.5 Q1154.1,236.6 1170.0,224.2" fill="none" stroke="#c2de38" stroke-width="3.6" stroke-linecap="round"/><ellipse cx="1145.2" cy="257.7" rx="10.6" ry="9.3" transform="rotate(71 1145.2 257.7)" fill="#8ed425"/><ellipse cx="1114.0" cy="248.4" rx="11.0" ry="8.8" transform="rotate(133 1114.0 248.4)" fill="#4cbc1c"/><ellipse cx="1099.4" cy="226.0" rx="9.1" ry="6.7" transform="rotate(191 1099.4 226.0)" fill="#4cbc1c"/><ellipse cx="1131.1" cy="217.1" rx="10.7" ry="9.5" transform="rotate(261 1131.1 217.1)" fill="#3db81a"/><ellipse cx="1170.0" cy="224.2" rx="12.9" ry="9.9" transform="rotate(346 1170.0 224.2)" fill="#74c822"/><path d="M1169.0,202.5 Q1160.9,194.8 1149.3,193.1" fill="none" stroke="#c2de38" stroke-width="3.6" stroke-linecap="round"/><path d="M1169.0,202.5 Q1181.2,196.5 1189.6,186.6" fill="none" stroke="#c2de38" stroke-width="3.6" stroke-linecap="round"/><path d="M1169.0,202.5 Q1183.4,201.4 1193.9,210.2" fill="none" stroke="#c2de38" stroke-width="3.6" stroke-linecap="round"/><path d="M1169.0,202.5 Q1172.5,214.0 1173.4,225.9" fill="none" stroke="#c2de38" stroke-width="3.6" stroke-linecap="round"/><path d="M1169.0,202.5 Q1149.7,201.3 1137.8,214.8" fill="none" stroke="#c2de38" stroke-width="3.6" stroke-linecap="round"/><ellipse cx="1149.3" cy="193.1" rx="12.4" ry="11.6" transform="rotate(211 1149.3 193.1)" fill="#74c822"/><ellipse cx="1189.6" cy="186.6" rx="10.1" ry="7.3" transform="rotate(316 1189.6 186.6)" fill="#4cbc1c"/><ellipse cx="1193.9" cy="210.2" rx="12.0" ry="9.2" transform="rotate(381 1193.9 210.2)" fill="#8ed425"/><ellipse cx="1173.4" cy="225.9" rx="11.0" ry="9.2" transform="rotate(441 1173.4 225.9)" fill="#5cc21e"/><ellipse cx="1137.8" cy="214.8" rx="12.5" ry="10.1" transform="rotate(514 1137.8 214.8)" fill="#a8d82e"/><path d="M662.0,216.0 Q650.0,222.3 646.6,234.4" fill="none" stroke="#c2de38" stroke-width="3.6" stroke-linecap="round"/><path d="M662.0,216.0 Q645.2,208.3 626.4,208.6" fill="none" stroke="#c2de38" stroke-width="3.6" stroke-linecap="round"/><path d="M662.0,216.0 Q664.7,203.1 661.5,190.3" fill="none" stroke="#c2de38" stroke-width="3.6" stroke-linecap="round"/><path d="M662.0,216.0 Q672.0,208.2 681.2,199.8" fill="none" stroke="#c2de38" stroke-width="3.6" stroke-linecap="round"/><path d="M662.0,216.0 Q680.2,218.8 698.7,218.0" fill="none" stroke="#c2de38" stroke-width="3.6" stroke-linecap="round"/><path d="M662.0,216.0 Q665.6,227.5 677.7,232.7" fill="none" stroke="#c2de38" stroke-width="3.6" stroke-linecap="round"/><ellipse cx="646.6" cy="234.4" rx="12.5" ry="9.5" transform="rotate(124 646.6 234.4)" fill="#8ed425"/><ellipse cx="626.4" cy="208.6" rx="9.3" ry="7.9" transform="rotate(195 626.4 208.6)" fill="#5cc21e"/><ellipse cx="661.5" cy="190.3" rx="10.4" ry="8.6" transform="rotate(269 661.5 190.3)" fill="#3db81a"/><ellipse cx="681.2" cy="199.8" rx="10.3" ry="8.7" transform="rotate(314 681.2 199.8)" fill="#3db81a"/><ellipse cx="698.7" cy="218.0" rx="9.7" ry="9.1" transform="rotate(364 698.7 218.0)" fill="#4cbc1c"/><ellipse cx="677.7" cy="232.7" rx="12.8" ry="10.6" transform="rotate(413 677.7 232.7)" fill="#a8d82e"/><path d="M755.0,184.0 Q768.8,183.6 778.5,174.7" fill="none" stroke="#c2de38" stroke-width="3.6" stroke-linecap="round"/><path d="M755.0,184.0 Q772.2,186.2 780.0,200.1" fill="none" stroke="#c2de38" stroke-width="3.6" stroke-linecap="round"/><path d="M755.0,184.0 Q753.7,196.8 753.1,209.6" fill="none" stroke="#c2de38" stroke-width="3.6" stroke-linecap="round"/><path d="M755.0,184.0 Q745.9,184.5 736.8,185.3" fill="none" stroke="#c2de38" stroke-width="3.6" stroke-linecap="round"/><path d="M755.0,184.0 Q742.4,181.0 736.3,170.8" fill="none" stroke="#c2de38" stroke-width="3.6" stroke-linecap="round"/><path d="M755.0,184.0 Q769.3,175.2 770.1,159.8" fill="none" stroke="#c2de38" stroke-width="3.6" stroke-linecap="round"/><ellipse cx="778.5" cy="174.7" rx="8.7" ry="7.6" transform="rotate(334 778.5 174.7)" fill="#4cbc1c"/><ellipse cx="780.0" cy="200.1" rx="10.4" ry="9.7" transform="rotate(399 780.0 200.1)" fill="#a8d82e"/><ellipse cx="753.1" cy="209.6" rx="8.8" ry="8.1" transform="rotate(453 753.1 209.6)" fill="#4cbc1c"/><ellipse cx="736.8" cy="185.3" rx="11.8" ry="10.6" transform="rotate(535 736.8 185.3)" fill="#a8d82e"/><ellipse cx="736.3" cy="170.8" rx="11.0" ry="9.1" transform="rotate(581 736.3 170.8)" fill="#8ed425"/><ellipse cx="770.1" cy="159.8" rx="11.8" ry="11.0" transform="rotate(656 770.1 159.8)" fill="#5cc21e"/><path d="M846.0,207.0 Q850.6,214.0 855.7,220.7" fill="none" stroke="#c2de38" stroke-width="3.6" stroke-linecap="round"/><path d="M846.0,207.0 Q835.7,210.5 825.7,214.9" fill="none" stroke="#c2de38" stroke-width="3.6" stroke-linecap="round"/><path d="M846.0,207.0 Q838.7,201.1 832.0,194.6" fill="none" stroke="#c2de38" stroke-width="3.6" stroke-linecap="round"/><path d="M846.0,207.0 Q842.4,192.1 851.2,179.1" fill="none" stroke="#c2de38" stroke-width="3.6" stroke-linecap="round"/><path d="M846.0,207.0 Q860.9,206.2 875.9,205.2" fill="none" stroke="#c2de38" stroke-width="3.6" stroke-linecap="round"/><ellipse cx="855.7" cy="220.7" rx="12.6" ry="11.7" transform="rotate(60 855.7 220.7)" fill="#8ed425"/><ellipse cx="825.7" cy="214.9" rx="8.6" ry="6.8" transform="rotate(154 825.7 214.9)" fill="#8ed425"/><ellipse cx="832.0" cy="194.6" rx="11.1" ry="9.8" transform="rotate(228 832.0 194.6)" fill="#4cbc1c"/><ellipse cx="851.2" cy="179.1" rx="10.7" ry="9.9" transform="rotate(279 851.2 179.1)" fill="#4cbc1c"/><ellipse cx="875.9" cy="205.2" rx="10.7" ry="9.5" transform="rotate(356 875.9 205.2)" fill="#4cbc1c"/><path d="M885.0,236.0 Q887.8,222.7 890.9,209.4" fill="none" stroke="#c2de38" stroke-width="3.6" stroke-linecap="round"/><path d="M885.0,236.0 Q899.6,236.4 914.0,238.7" fill="none" stroke="#c2de38" stroke-width="3.6" stroke-linecap="round"/><path d="M885.0,236.0 Q890.5,243.2 894.8,251.1" fill="none" stroke="#c2de38" stroke-width="3.6" stroke-linecap="round"/><path d="M885.0,236.0 Q876.4,247.4 861.5,251.0" fill="none" stroke="#c2de38" stroke-width="3.6" stroke-linecap="round"/><path d="M885.0,236.0 Q866.8,235.3 854.8,223.0" fill="none" stroke="#c2de38" stroke-width="3.6" stroke-linecap="round"/><ellipse cx="890.9" cy="209.4" rx="9.9" ry="8.9" transform="rotate(280 890.9 209.4)" fill="#5cc21e"/><ellipse cx="914.0" cy="238.7" rx="9.0" ry="7.2" transform="rotate(367 914.0 238.7)" fill="#8ed425"/><ellipse cx="894.8" cy="251.1" rx="8.3" ry="6.0" transform="rotate(422 894.8 251.1)" fill="#5cc21e"/><ellipse cx="861.5" cy="251.0" rx="11.2" ry="8.4" transform="rotate(501 861.5 251.0)" fill="#4cbc1c"/><ellipse cx="854.8" cy="223.0" rx="9.3" ry="6.9" transform="rotate(568 854.8 223.0)" fill="#3db81a"/><path d="M1040.0,190.0 Q1036.7,200.6 1040.3,211.1" fill="none" stroke="#c2de38" stroke-width="3.6" stroke-linecap="round"/><path d="M1040.0,190.0 Q1025.1,203.1 1004.6,199.3" fill="none" stroke="#c2de38" stroke-width="3.6" stroke-linecap="round"/><path d="M1040.0,190.0 Q1030.4,179.5 1015.6,176.8" fill="none" stroke="#c2de38" stroke-width="3.6" stroke-linecap="round"/><path d="M1040.0,190.0 Q1046.5,176.6 1050.4,162.3" fill="none" stroke="#c2de38" stroke-width="3.6" stroke-linecap="round"/><path d="M1040.0,190.0 Q1048.9,183.7 1060.1,181.9" fill="none" stroke="#c2de38" stroke-width="3.6" stroke-linecap="round"/><path d="M1040.0,190.0 Q1048.1,193.9 1055.7,198.5" fill="none" stroke="#c2de38" stroke-width="3.6" stroke-linecap="round"/><ellipse cx="1040.3" cy="211.1" rx="8.1" ry="6.6" transform="rotate(89 1040.3 211.1)" fill="#74c822"/><ellipse cx="1004.6" cy="199.3" rx="10.2" ry="7.9" transform="rotate(162 1004.6 199.3)" fill="#5cc21e"/><ellipse cx="1015.6" cy="176.8" rx="12.8" ry="11.7" transform="rotate(214 1015.6 176.8)" fill="#8ed425"/><ellipse cx="1050.4" cy="162.3" rx="9.2" ry="6.8" transform="rotate(287 1050.4 162.3)" fill="#4cbc1c"/><ellipse cx="1060.1" cy="181.9" rx="10.5" ry="8.1" transform="rotate(333 1060.1 181.9)" fill="#74c822"/><ellipse cx="1055.7" cy="198.5" rx="11.4" ry="9.5" transform="rotate(394 1055.7 198.5)" fill="#74c822"/><path d="M1137.0,216.0 Q1134.0,204.6 1124.6,196.4" fill="none" stroke="#c2de38" stroke-width="3.6" stroke-linecap="round"/><path d="M1137.0,216.0 Q1148.1,206.3 1161.8,199.8" fill="none" stroke="#c2de38" stroke-width="3.6" stroke-linecap="round"/><path d="M1137.0,216.0 Q1156.4,211.5 1171.3,223.4" fill="none" stroke="#c2de38" stroke-width="3.6" stroke-linecap="round"/><path d="M1137.0,216.0 Q1136.8,229.1 1145.8,239.4" fill="none" stroke="#c2de38" stroke-width="3.6" stroke-linecap="round"/><path d="M1137.0,216.0 Q1126.3,216.0 1118.4,222.4" fill="none" stroke="#c2de38" stroke-width="3.6" stroke-linecap="round"/><ellipse cx="1124.6" cy="196.4" rx="12.4" ry="10.8" transform="rotate(243 1124.6 196.4)" fill="#4cbc1c"/><ellipse cx="1161.8" cy="199.8" rx="9.0" ry="8.5" transform="rotate(321 1161.8 199.8)" fill="#8ed425"/><ellipse cx="1171.3" cy="223.4" rx="11.6" ry="10.0" transform="rotate(375 1171.3 223.4)" fill="#5cc21e"/><ellipse cx="1145.8" cy="239.4" rx="9.2" ry="8.3" transform="rotate(433 1145.8 239.4)" fill="#8ed425"/><ellipse cx="1118.4" cy="222.4" rx="12.4" ry="10.6" transform="rotate(517 1118.4 222.4)" fill="#74c822"/><path d="M800.0,207.0 Q811.4,214.6 813.0,227.2" fill="none" stroke="#c2de38" stroke-width="3.2" stroke-linecap="round"/><path d="M800.0,207.0 Q793.3,212.6 785.5,216.9" fill="none" stroke="#c2de38" stroke-width="3.2" stroke-linecap="round"/><path d="M800.0,207.0 Q786.3,197.5 769.6,201.3" fill="none" stroke="#c2de38" stroke-width="3.2" stroke-linecap="round"/><path d="M800.0,207.0 Q800.9,198.2 805.7,190.5" fill="none" stroke="#c2de38" stroke-width="3.2" stroke-linecap="round"/><path d="M800.0,207.0 Q815.0,206.1 825.1,196.2" fill="none" stroke="#c2de38" stroke-width="3.2" stroke-linecap="round"/><ellipse cx="813.0" cy="227.2" rx="11.1" ry="9.3" transform="rotate(63 813.0 227.2)" fill="#5cc21e"/><ellipse cx="785.5" cy="216.9" rx="11.2" ry="8.7" transform="rotate(140 785.5 216.9)" fill="#8ed425"/><ellipse cx="769.6" cy="201.3" rx="10.8" ry="8.8" transform="rotate(193 769.6 201.3)" fill="#74c822"/><ellipse cx="805.7" cy="190.5" rx="10.1" ry="8.2" transform="rotate(285 805.7 190.5)" fill="#8ed425"/><ellipse cx="825.1" cy="196.2" rx="10.9" ry="9.9" transform="rotate(332 825.1 196.2)" fill="#3db81a"/><path d="M700.0,225.0 Q701.4,217.7 698.4,210.8" fill="none" stroke="#c2de38" stroke-width="3.2" stroke-linecap="round"/><path d="M700.0,225.0 Q713.1,212.4 732.1,214.6" fill="none" stroke="#c2de38" stroke-width="3.2" stroke-linecap="round"/><path d="M700.0,225.0 Q712.4,221.6 722.5,228.9" fill="none" stroke="#c2de38" stroke-width="3.2" stroke-linecap="round"/><path d="M700.0,225.0 Q701.8,237.6 697.9,249.7" fill="none" stroke="#c2de38" stroke-width="3.2" stroke-linecap="round"/><path d="M700.0,225.0 Q695.3,232.2 690.1,239.1" fill="none" stroke="#c2de38" stroke-width="3.2" stroke-linecap="round"/><path d="M700.0,225.0 Q684.0,226.8 670.1,219.5" fill="none" stroke="#c2de38" stroke-width="3.2" stroke-linecap="round"/><ellipse cx="698.4" cy="210.8" rx="11.3" ry="9.1" transform="rotate(265 698.4 210.8)" fill="#5cc21e"/><ellipse cx="732.1" cy="214.6" rx="9.8" ry="7.5" transform="rotate(338 732.1 214.6)" fill="#4cbc1c"/><ellipse cx="722.5" cy="228.9" rx="7.5" ry="6.4" transform="rotate(372 722.5 228.9)" fill="#5cc21e"/><ellipse cx="697.9" cy="249.7" rx="8.8" ry="6.4" transform="rotate(454 697.9 249.7)" fill="#74c822"/><ellipse cx="690.1" cy="239.1" rx="7.5" ry="5.7" transform="rotate(479 690.1 239.1)" fill="#4cbc1c"/><ellipse cx="670.1" cy="219.5" rx="7.6" ry="5.6" transform="rotate(553 670.1 219.5)" fill="#8ed425"/><path d="M960.0,215.0 Q964.3,203.5 963.8,191.3" fill="none" stroke="#c2de38" stroke-width="3.2" stroke-linecap="round"/><path d="M960.0,215.0 Q968.7,212.5 970.9,204.6" fill="none" stroke="#c2de38" stroke-width="3.2" stroke-linecap="round"/><path d="M960.0,215.0 Q969.6,219.2 980.3,218.4" fill="none" stroke="#c2de38" stroke-width="3.2" stroke-linecap="round"/><path d="M960.0,215.0 Q973.9,221.4 976.2,235.3" fill="none" stroke="#c2de38" stroke-width="3.2" stroke-linecap="round"/><path d="M960.0,215.0 Q949.0,223.6 942.9,235.5" fill="none" stroke="#c2de38" stroke-width="3.2" stroke-linecap="round"/><path d="M960.0,215.0 Q951.1,216.9 942.4,219.4" fill="none" stroke="#c2de38" stroke-width="3.2" stroke-linecap="round"/><path d="M960.0,215.0 Q954.2,208.3 944.8,208.3" fill="none" stroke="#c2de38" stroke-width="3.2" stroke-linecap="round"/><ellipse cx="963.8" cy="191.3" rx="8.3" ry="6.0" transform="rotate(277 963.8 191.3)" fill="#74c822"/><ellipse cx="970.9" cy="204.6" rx="10.3" ry="8.2" transform="rotate(310 970.9 204.6)" fill="#3db81a"/><ellipse cx="980.3" cy="218.4" rx="9.5" ry="7.4" transform="rotate(372 980.3 218.4)" fill="#3db81a"/><ellipse cx="976.2" cy="235.3" rx="9.9" ry="7.9" transform="rotate(417 976.2 235.3)" fill="#8ed425"/><ellipse cx="942.9" cy="235.5" rx="10.2" ry="8.3" transform="rotate(484 942.9 235.5)" fill="#5cc21e"/><ellipse cx="942.4" cy="219.4" rx="8.6" ry="7.4" transform="rotate(523 942.4 219.4)" fill="#4cbc1c"/><ellipse cx="944.8" cy="208.3" rx="10.8" ry="8.4" transform="rotate(569 944.8 208.3)" fill="#4cbc1c"/><path d="M1180.0,210.0 Q1162.3,208.5 1147.9,199.2" fill="none" stroke="#c2de38" stroke-width="3.2" stroke-linecap="round"/><path d="M1180.0,210.0 Q1182.9,196.0 1188.0,182.5" fill="none" stroke="#c2de38" stroke-width="3.2" stroke-linecap="round"/><path d="M1180.0,210.0 Q1191.0,197.8 1208.2,194.9" fill="none" stroke="#c2de38" stroke-width="3.2" stroke-linecap="round"/><path d="M1180.0,210.0 Q1188.4,211.1 1194.1,216.8" fill="none" stroke="#c2de38" stroke-width="3.2" stroke-linecap="round"/><path d="M1180.0,210.0 Q1180.5,222.5 1171.7,232.1" fill="none" stroke="#c2de38" stroke-width="3.2" stroke-linecap="round"/><path d="M1180.0,210.0 Q1169.7,210.2 1161.8,216.1" fill="none" stroke="#c2de38" stroke-width="3.2" stroke-linecap="round"/><ellipse cx="1147.9" cy="199.2" rx="10.8" ry="9.8" transform="rotate(203 1147.9 199.2)" fill="#74c822"/><ellipse cx="1188.0" cy="182.5" rx="9.2" ry="7.2" transform="rotate(283 1188.0 182.5)" fill="#5cc21e"/><ellipse cx="1208.2" cy="194.9" rx="10.6" ry="8.1" transform="rotate(326 1208.2 194.9)" fill="#4cbc1c"/><ellipse cx="1194.1" cy="216.8" rx="10.3" ry="7.4" transform="rotate(391 1194.1 216.8)" fill="#8ed425"/><ellipse cx="1171.7" cy="232.1" rx="7.9" ry="6.5" transform="rotate(467 1171.7 232.1)" fill="#74c822"/><ellipse cx="1161.8" cy="216.1" rx="7.4" ry="5.6" transform="rotate(517 1161.8 216.1)" fill="#8ed425"/>

</g></g>
<rect x="624.75" y="116.25" width="571.50" height="603.30" fill="none" stroke="#263654" stroke-width="1.5" opacity="0.55"/>
<text x="785.4" y="706.2" font-size="50" font-weight="bold" fill="#fff" stroke="#fff" stroke-width="0.7">1 mM H<tspan font-size="33.0">2</tspan>O<tspan font-size="33.0">2</tspan></text>
<rect x="1102" y="692.5" width="79.5" height="10.8" fill="#fff"/>
<clipPath id="cp5"><rect x="624" y="738.3" width="573" height="514.7"/></clipPath>
<g clip-path="url(#cp5)"><g filter="url(#soft)">
<rect x="624" y="738.3" width="573" height="514.7" fill="#455d7f"/>
<linearGradient id="lg5" x1="0" y1="0" x2="0" y2="1"><stop offset="0" stop-color="#3a5468" stop-opacity="0.5"/><stop offset="0.4" stop-color="#3a5468" stop-opacity="0.2"/><stop offset="0.75" stop-color="#3a5468" stop-opacity="0"/><stop offset="1" stop-color="#4a6080" stop-opacity="0.2"/></linearGradient>
<rect x="624" y="738.3" width="573" height="514.7" fill="url(#lg5)"/>
<rect x="624" y="738.3" width="573" height="514.7" filter="url(#mtA)" opacity="0.35"/>
<rect x="624" y="738.3" width="573" height="514.7" filter="url(#mtB)" opacity="0.25"/>
<rect x="628.0" y="738.3" width="8" height="514.7" fill="#a8a4ac" opacity="0.2"/>
<rect x="630.5" y="738.3" width="3" height="514.7" fill="#d8d0c8" opacity="0.2"/>
<rect x="766.6" y="738.3" width="8" height="514.7" fill="#a8a4ac" opacity="0.2"/>
<rect x="769.1" y="738.3" width="3" height="514.7" fill="#d8d0c8" opacity="0.2"/>
<rect x="902.0" y="738.3" width="8" height="514.7" fill="#a8a4ac" opacity="0.2"/>
<rect x="904.5" y="738.3" width="3" height="514.7" fill="#d8d0c8" opacity="0.2"/>
<rect x="1039.0" y="738.3" width="8" height="514.7" fill="#a8a4ac" opacity="0.2"/>
<rect x="1041.5" y="738.3" width="3" height="514.7" fill="#d8d0c8" opacity="0.2"/>
<rect x="1176.0" y="738.3" width="8" height="514.7" fill="#a8a4ac" opacity="0.2"/>
<rect x="1178.5" y="738.3" width="3" height="514.7" fill="#d8d0c8" opacity="0.2"/>
<rect x="624" y="875.0" width="573" height="3" fill="#a8a0a8" opacity="0.13"/>
<rect x="624" y="1013.5" width="573" height="3" fill="#a8a0a8" opacity="0.13"/>
<rect x="624" y="1150.5" width="573" height="3" fill="#a8a0a8" opacity="0.13"/>

<path d="M651.6,912.7 L650.3,925.3 L650.4,937.8 L650.2,950.4 L650.1,963.0 L651.3,975.6 L650.7,988.1 L649.6,1000.7 L649.1,1013.3 L648.2,1025.8 L649.3,1038.4 L649.4,1051.0 L649.1,1063.5 L649.1,1076.1 L649.5,1088.7 L650.1,1101.3 L648.9,1113.8 L648.6,1126.4" fill="none" stroke="#d0d0c8" stroke-width="2.3" stroke-linecap="round" stroke-linejoin="round" opacity="0.68"/>
<path d="M683.2,870.5 L683.5,882.8 L681.7,895.2 L682.3,907.5 L681.9,919.8 L680.0,932.2 L678.7,944.5 L678.1,956.8 L678.8,969.2 L678.3,981.5 L678.0,993.8 L677.8,1006.2 L676.1,1018.5 L676.9,1030.8 L677.1,1043.2 L676.9,1055.5 L675.8,1067.8 L675.7,1080.2 L674.8,1092.5 L673.9,1104.8 L674.4,1117.2 L672.7,1129.5" fill="none" stroke="#d0d0c8" stroke-width="2.3" stroke-linecap="round" stroke-linejoin="round" opacity="0.68"/>
<path d="M699.8,903.6 L698.9,915.9 L698.2,928.2 L698.4,940.6 L697.5,952.9 L696.9,965.2 L697.1,977.5 L698.4,989.8 L698.5,1002.1 L697.4,1014.5 L698.2,1026.8 L698.9,1039.1 L699.0,1051.4 L698.2,1063.7 L696.9,1076.1 L697.1,1088.4 L695.8,1100.7 L696.9,1113.0 L697.0,1125.3 L697.6,1137.6 L697.4,1150.0 L697.4,1162.3 L695.3,1174.6" fill="none" stroke="#d0d0c8" stroke-width="2.3" stroke-linecap="round" stroke-linejoin="round" opacity="0.68"/>
<path d="M749.5,909.6 L749.8,921.9 L749.5,934.2 L748.9,946.5 L750.1,958.7 L749.6,971.0 L750.8,983.3 L751.4,995.6 L751.9,1007.9 L752.2,1020.2 L750.9,1032.4 L751.1,1044.7 L751.6,1057.0 L750.6,1069.3 L751.3,1081.6 L751.1,1093.9 L750.0,1106.1 L749.8,1118.4 L749.3,1130.7 L751.0,1143.0" fill="none" stroke="#d0d0c8" stroke-width="2.3" stroke-linecap="round" stroke-linejoin="round" opacity="0.68"/>
<path d="M811.2,882.5 L810.7,894.9 L811.0,907.3 L811.9,919.7 L810.8,932.1 L811.1,944.5 L811.1,956.9 L811.7,969.3 L810.2,981.7 L809.3,994.1 L809.6,1006.5 L809.2,1019.0 L809.7,1031.4 L808.9,1043.8 L810.1,1056.2 L809.0,1068.6 L808.8,1081.0 L809.2,1093.4 L810.4,1105.8 L809.6,1118.2 L810.6,1130.6 L809.7,1143.0" fill="none" stroke="#d0d0c8" stroke-width="2.3" stroke-linecap="round" stroke-linejoin="round" opacity="0.68"/>
<path d="M836.8,879.5 L836.8,891.7 L837.4,903.9 L838.0,916.1 L837.7,928.3 L837.2,940.5 L838.0,952.7 L839.2,964.9 L839.0,977.1 L838.3,989.3 L839.0,1001.5 L839.6,1013.6 L840.1,1025.8 L839.9,1038.0 L839.8,1050.2 L840.6,1062.4 L841.3,1074.6 L841.0,1086.8 L840.0,1099.0 L838.8,1111.2 L839.8,1123.4" fill="none" stroke="#d0d0c8" stroke-width="2.3" stroke-linecap="round" stroke-linejoin="round" opacity="0.68"/>
<path d="M895.5,891.6 L889.8,902.4 L884.2,913.3 L877.6,924.1 L870.5,935.2 L866.1,946.6 L864.5,958.5 L863.3,970.8 L864.5,983.2 L864.3,995.7 L864.0,1008.2 L864.7,1020.7 L864.0,1033.2 L864.1,1045.7 L864.6,1058.1 L864.1,1070.6 L863.5,1083.1 L864.1,1095.6 L864.7,1108.1 L863.5,1120.6 L862.6,1133.0 L863.2,1145.5 L862.4,1158.0" fill="none" stroke="#d0d0c8" stroke-width="2.3" stroke-linecap="round" stroke-linejoin="round" opacity="0.68"/>
<path d="M927.1,870.5 L927.1,883.4 L927.4,896.2 L927.7,909.1 L928.7,921.9 L930.6,934.8 L932.0,947.6 L932.7,960.5 L932.8,973.3 L932.1,986.2 L933.8,999.0 L933.5,1011.9 L934.9,1024.7 L934.7,1037.6" fill="none" stroke="#d0d0c8" stroke-width="2.3" stroke-linecap="round" stroke-linejoin="round" opacity="0.68"/>
<path d="M969.3,861.5 L969.8,873.5 L971.4,885.6 L972.1,897.6 L972.7,909.7 L972.4,921.7 L973.5,933.7 L973.2,945.8 L973.2,957.8 L974.4,969.9 L974.6,981.9 L974.8,993.9 L977.1,1006.0 L977.6,1018.0 L978.8,1030.1 L979.8,1042.1" fill="none" stroke="#d0d0c8" stroke-width="2.3" stroke-linecap="round" stroke-linejoin="round" opacity="0.68"/>
<path d="M1011.4,891.6 L1011.3,904.4 L1013.9,917.2 L1015.1,930.0 L1015.6,942.8 L1017.5,955.6 L1019.2,968.4 L1020.7,981.2 L1021.5,994.0 L1021.5,1006.8 L1022.0,1019.6" fill="none" stroke="#d0d0c8" stroke-width="2.3" stroke-linecap="round" stroke-linejoin="round" opacity="0.68"/>
<path d="M1058.1,873.5 L1057.1,886.1 L1058.3,898.8 L1058.1,911.4 L1058.2,924.1 L1059.5,936.7 L1059.5,949.4 L1059.3,962.0 L1059.7,974.7 L1060.0,987.3 L1060.2,1000.0 L1059.9,1012.6 L1059.3,1025.3 L1060.4,1037.9 L1059.9,1050.6 L1061.1,1063.2" fill="none" stroke="#d0d0c8" stroke-width="2.3" stroke-linecap="round" stroke-linejoin="round" opacity="0.68"/>
<path d="M1091.2,873.5 L1090.7,885.7 L1092.3,898.0 L1092.0,910.2 L1091.9,922.5 L1092.8,934.7 L1094.7,947.0 L1095.1,959.2 L1096.3,971.5 L1096.8,983.7 L1096.3,996.0 L1096.7,1008.2 L1096.7,1020.5 L1096.8,1032.7 L1098.9,1045.0 L1098.8,1057.2" fill="none" stroke="#d0d0c8" stroke-width="2.3" stroke-linecap="round" stroke-linejoin="round" opacity="0.68"/>
<path d="M1137.9,897.6 L1136.8,910.5 L1135.1,923.5 L1134.6,936.4 L1133.8,949.3 L1134.6,962.2 L1134.8,975.2 L1134.2,988.1 L1132.6,1001.0 L1130.6,1013.9 L1130.7,1026.9 L1130.6,1039.8 L1128.9,1052.7" fill="none" stroke="#d0d0c8" stroke-width="2.3" stroke-linecap="round" stroke-linejoin="round" opacity="0.68"/>
<path d="M1171.0,885.6 L1170.3,897.8 L1171.6,910.0 L1170.9,922.2 L1171.2,934.3 L1171.9,946.5 L1172.3,958.7 L1173.6,970.9 L1174.6,983.1 L1173.9,995.3 L1173.8,1007.5 L1175.3,1019.6 L1174.6,1031.8 L1174.9,1044.0 L1175.2,1056.2 L1176.4,1068.4 L1175.8,1080.6 L1176.5,1092.8 L1175.5,1104.9 L1176.4,1117.1 L1177.0,1129.3 L1177.0,1141.5" fill="none" stroke="#d0d0c8" stroke-width="2.3" stroke-linecap="round" stroke-linejoin="round" opacity="0.68"/>
<path d="M651.6,912.7 L654.4,861.2" stroke="#bfe03a" stroke-width="3.3" fill="none" stroke-linecap="round"/><path d="M683.2,870.5 L683.5,827.1" stroke="#bfe03a" stroke-width="3.3" fill="none" stroke-linecap="round"/><path d="M699.8,903.6 L703.3,868.4" stroke="#bfe03a" stroke-width="3.3" fill="none" stroke-linecap="round"/><path d="M749.5,909.6 L753.5,875.5" stroke="#bfe03a" stroke-width="3.3" fill="none" stroke-linecap="round"/><path d="M811.2,882.5 L815.0,834.8" stroke="#bfe03a" stroke-width="3.3" fill="none" stroke-linecap="round"/><path d="M836.8,879.5 L840.3,850.5" stroke="#bfe03a" stroke-width="3.3" fill="none" stroke-linecap="round"/><path d="M895.5,891.6 L899.4,862.0" stroke="#bfe03a" stroke-width="3.3" fill="none" stroke-linecap="round"/><path d="M927.1,870.5 L927.6,835.1" stroke="#bfe03a" stroke-width="3.3" fill="none" stroke-linecap="round"/><path d="M969.3,861.5 L969.9,825.9" stroke="#bfe03a" stroke-width="3.3" fill="none" stroke-linecap="round"/><path d="M1011.4,891.6 L1008.5,848.2" stroke="#bfe03a" stroke-width="3.3" fill="none" stroke-linecap="round"/><path d="M1058.1,873.5 L1055.7,826.0" stroke="#bfe03a" stroke-width="3.3" fill="none" stroke-linecap="round"/><path d="M1091.2,873.5 L1094.4,835.9" stroke="#bfe03a" stroke-width="3.3" fill="none" stroke-linecap="round"/><path d="M1137.9,897.6 L1141.1,864.3" stroke="#bfe03a" stroke-width="3.3" fill="none" stroke-linecap="round"/><path d="M1171.0,885.6 L1174.1,840.6" stroke="#bfe03a" stroke-width="3.3" fill="none" stroke-linecap="round"/><path d="M654.4,861.2 Q655.8,869.6 651.2,877.0" fill="none" stroke="#bfe03a" stroke-width="3.3" stroke-linecap="round"/><path d="M654.4,861.2 Q640.9,863.0 627.7,859.8" fill="none" stroke="#bfe03a" stroke-width="3.3" stroke-linecap="round"/><path d="M654.4,861.2 Q652.6,854.5 649.6,848.1" fill="none" stroke="#bfe03a" stroke-width="3.3" stroke-linecap="round"/><path d="M654.4,861.2 Q659.2,856.1 666.5,854.9" fill="none" stroke="#bfe03a" stroke-width="3.3" stroke-linecap="round"/><path d="M654.4,861.2 Q665.1,874.5 683.3,874.4" fill="none" stroke="#bfe03a" stroke-width="3.3" stroke-linecap="round"/><ellipse cx="651.2" cy="877.0" rx="8.6" ry="6.4" transform="rotate(99 651.2 877.0)" fill="#9ad42a"/><ellipse cx="627.7" cy="859.8" rx="8.7" ry="6.9" transform="rotate(184 627.7 859.8)" fill="#8ed026"/><ellipse cx="649.6" cy="848.1" rx="10.0" ry="9.5" transform="rotate(254 649.6 848.1)" fill="#62c01c"/><ellipse cx="666.5" cy="854.9" rx="11.3" ry="10.0" transform="rotate(327 666.5 854.9)" fill="#8ed026"/><ellipse cx="683.3" cy="874.4" rx="10.7" ry="9.5" transform="rotate(390 683.3 874.4)" fill="#aede35"/><path d="M683.5,827.1 Q690.7,837.9 704.1,841.4" fill="none" stroke="#bfe03a" stroke-width="3.3" stroke-linecap="round"/><path d="M683.5,827.1 Q673.5,836.7 662.0,844.9" fill="none" stroke="#bfe03a" stroke-width="3.3" stroke-linecap="round"/><path d="M683.5,827.1 Q670.9,822.6 657.9,826.2" fill="none" stroke="#bfe03a" stroke-width="3.3" stroke-linecap="round"/><path d="M683.5,827.1 Q680.9,815.4 677.8,803.8" fill="none" stroke="#bfe03a" stroke-width="3.3" stroke-linecap="round"/><path d="M683.5,827.1 Q693.0,823.9 703.0,826.1" fill="none" stroke="#bfe03a" stroke-width="3.3" stroke-linecap="round"/><ellipse cx="704.1" cy="841.4" rx="10.8" ry="8.3" transform="rotate(41 704.1 841.4)" fill="#62c01c"/><ellipse cx="662.0" cy="844.9" rx="11.9" ry="10.9" transform="rotate(134 662.0 844.9)" fill="#aede35"/><ellipse cx="657.9" cy="826.2" rx="10.0" ry="8.4" transform="rotate(183 657.9 826.2)" fill="#7fcb22"/><ellipse cx="677.8" cy="803.8" rx="10.5" ry="9.6" transform="rotate(259 677.8 803.8)" fill="#8ed026"/><ellipse cx="703.0" cy="826.1" rx="12.2" ry="9.5" transform="rotate(356 703.0 826.1)" fill="#7fcb22"/><path d="M703.3,868.4 Q711.0,873.3 719.3,877.1" fill="none" stroke="#bfe03a" stroke-width="3.3" stroke-linecap="round"/><path d="M703.3,868.4 Q701.2,877.7 694.7,885.3" fill="none" stroke="#bfe03a" stroke-width="3.3" stroke-linecap="round"/><path d="M703.3,868.4 Q696.3,869.1 689.3,868.8" fill="none" stroke="#bfe03a" stroke-width="3.3" stroke-linecap="round"/><path d="M703.3,868.4 Q692.8,857.5 690.9,843.3" fill="none" stroke="#bfe03a" stroke-width="3.3" stroke-linecap="round"/><path d="M703.3,868.4 Q704.3,861.5 710.9,857.8" fill="none" stroke="#bfe03a" stroke-width="3.3" stroke-linecap="round"/><ellipse cx="719.3" cy="877.1" rx="11.3" ry="8.2" transform="rotate(34 719.3 877.1)" fill="#9ad42a"/><ellipse cx="694.7" cy="885.3" rx="8.2" ry="7.3" transform="rotate(112 694.7 885.3)" fill="#aede35"/><ellipse cx="689.3" cy="868.8" rx="9.8" ry="7.5" transform="rotate(178 689.3 868.8)" fill="#aede35"/><ellipse cx="690.9" cy="843.3" rx="11.6" ry="8.4" transform="rotate(248 690.9 843.3)" fill="#9ad42a"/><ellipse cx="710.9" cy="857.8" rx="9.3" ry="8.7" transform="rotate(300 710.9 857.8)" fill="#7fcb22"/><path d="M753.5,875.5 Q761.3,870.5 762.2,861.9" fill="none" stroke="#bfe03a" stroke-width="3.3" stroke-linecap="round"/><path d="M753.5,875.5 Q761.2,882.8 772.2,881.2" fill="none" stroke="#bfe03a" stroke-width="3.3" stroke-linecap="round"/><path d="M753.5,875.5 Q755.8,881.5 761.7,884.8" fill="none" stroke="#bfe03a" stroke-width="3.3" stroke-linecap="round"/><path d="M753.5,875.5 Q744.2,880.5 743.4,890.1" fill="none" stroke="#bfe03a" stroke-width="3.3" stroke-linecap="round"/><path d="M753.5,875.5 Q743.6,867.8 730.6,865.7" fill="none" stroke="#bfe03a" stroke-width="3.3" stroke-linecap="round"/><path d="M753.5,875.5 Q751.5,863.5 751.8,851.4" fill="none" stroke="#bfe03a" stroke-width="3.3" stroke-linecap="round"/><ellipse cx="762.2" cy="861.9" rx="10.4" ry="8.8" transform="rotate(297 762.2 861.9)" fill="#7fcb22"/><ellipse cx="772.2" cy="881.2" rx="11.0" ry="9.6" transform="rotate(381 772.2 881.2)" fill="#9ad42a"/><ellipse cx="761.7" cy="884.8" rx="10.2" ry="8.9" transform="rotate(415 761.7 884.8)" fill="#aede35"/><ellipse cx="743.4" cy="890.1" rx="11.5" ry="9.3" transform="rotate(479 743.4 890.1)" fill="#9ad42a"/><ellipse cx="730.6" cy="865.7" rx="11.5" ry="9.9" transform="rotate(568 730.6 865.7)" fill="#62c01c"/><ellipse cx="751.8" cy="851.4" rx="9.0" ry="7.9" transform="rotate(627 751.8 851.4)" fill="#7fcb22"/><path d="M815.0,834.8 Q821.0,829.1 829.5,827.7" fill="none" stroke="#bfe03a" stroke-width="3.3" stroke-linecap="round"/><path d="M815.0,834.8 Q826.8,837.3 836.9,843.3" fill="none" stroke="#bfe03a" stroke-width="3.3" stroke-linecap="round"/><path d="M815.0,834.8 Q799.2,840.2 794.4,854.8" fill="none" stroke="#bfe03a" stroke-width="3.3" stroke-linecap="round"/><path d="M815.0,834.8 Q805.7,831.2 795.5,830.5" fill="none" stroke="#bfe03a" stroke-width="3.3" stroke-linecap="round"/><path d="M815.0,834.8 Q814.7,825.0 806.9,818.0" fill="none" stroke="#bfe03a" stroke-width="3.3" stroke-linecap="round"/><ellipse cx="829.5" cy="827.7" rx="11.7" ry="11.0" transform="rotate(328 829.5 827.7)" fill="#8ed026"/><ellipse cx="836.9" cy="843.3" rx="10.6" ry="8.8" transform="rotate(386 836.9 843.3)" fill="#9ad42a"/><ellipse cx="794.4" cy="854.8" rx="9.1" ry="7.2" transform="rotate(490 794.4 854.8)" fill="#7fcb22"/><ellipse cx="795.5" cy="830.5" rx="8.1" ry="7.2" transform="rotate(556 795.5 830.5)" fill="#9ad42a"/><ellipse cx="806.9" cy="818.0" rx="11.5" ry="9.3" transform="rotate(609 806.9 818.0)" fill="#aede35"/><path d="M840.3,850.5 Q836.7,861.5 844.0,871.0" fill="none" stroke="#bfe03a" stroke-width="3.3" stroke-linecap="round"/><path d="M840.3,850.5 Q839.2,857.7 832.1,861.2" fill="none" stroke="#bfe03a" stroke-width="3.3" stroke-linecap="round"/><path d="M840.3,850.5 Q831.6,853.0 824.3,848.1" fill="none" stroke="#bfe03a" stroke-width="3.3" stroke-linecap="round"/><path d="M840.3,850.5 Q835.8,843.4 838.8,835.7" fill="none" stroke="#bfe03a" stroke-width="3.3" stroke-linecap="round"/><path d="M840.3,850.5 Q852.0,852.6 862.7,847.8" fill="none" stroke="#bfe03a" stroke-width="3.3" stroke-linecap="round"/><ellipse cx="844.0" cy="871.0" rx="8.9" ry="6.6" transform="rotate(82 844.0 871.0)" fill="#aede35"/><ellipse cx="832.1" cy="861.2" rx="9.0" ry="7.5" transform="rotate(121 832.1 861.2)" fill="#62c01c"/><ellipse cx="824.3" cy="848.1" rx="9.0" ry="7.6" transform="rotate(191 824.3 848.1)" fill="#62c01c"/><ellipse cx="838.8" cy="835.7" rx="12.0" ry="9.6" transform="rotate(265 838.8 835.7)" fill="#8ed026"/><ellipse cx="862.7" cy="847.8" rx="8.2" ry="7.0" transform="rotate(351 862.7 847.8)" fill="#9ad42a"/><path d="M899.4,862.0 Q913.9,854.1 930.1,858.8" fill="none" stroke="#bfe03a" stroke-width="3.3" stroke-linecap="round"/><path d="M899.4,862.0 Q897.7,868.1 897.3,874.3" fill="none" stroke="#bfe03a" stroke-width="3.3" stroke-linecap="round"/><path d="M899.4,862.0 Q895.8,868.0 888.3,869.5" fill="none" stroke="#bfe03a" stroke-width="3.3" stroke-linecap="round"/><path d="M899.4,862.0 Q887.5,860.7 878.0,854.2" fill="none" stroke="#bfe03a" stroke-width="3.3" stroke-linecap="round"/><path d="M899.4,862.0 Q900.1,855.8 905.4,851.8" fill="none" stroke="#bfe03a" stroke-width="3.3" stroke-linecap="round"/><ellipse cx="930.1" cy="858.8" rx="10.7" ry="8.0" transform="rotate(-8 930.1 858.8)" fill="#aede35"/><ellipse cx="897.3" cy="874.3" rx="9.5" ry="8.3" transform="rotate(98 897.3 874.3)" fill="#aede35"/><ellipse cx="888.3" cy="869.5" rx="9.0" ry="8.5" transform="rotate(140 888.3 869.5)" fill="#62c01c"/><ellipse cx="878.0" cy="854.2" rx="12.1" ry="11.4" transform="rotate(204 878.0 854.2)" fill="#9ad42a"/><ellipse cx="905.4" cy="851.8" rx="9.6" ry="8.8" transform="rotate(295 905.4 851.8)" fill="#8ed026"/><path d="M927.6,835.1 Q917.3,833.2 908.1,828.7" fill="none" stroke="#bfe03a" stroke-width="3.3" stroke-linecap="round"/><path d="M927.6,835.1 Q933.6,824.8 942.8,816.4" fill="none" stroke="#bfe03a" stroke-width="3.3" stroke-linecap="round"/><path d="M927.6,835.1 Q937.1,835.2 945.9,831.8" fill="none" stroke="#bfe03a" stroke-width="3.3" stroke-linecap="round"/><path d="M927.6,835.1 Q932.4,843.7 928.7,852.8" fill="none" stroke="#bfe03a" stroke-width="3.3" stroke-linecap="round"/><path d="M927.6,835.1 Q918.3,838.8 910.3,844.5" fill="none" stroke="#bfe03a" stroke-width="3.3" stroke-linecap="round"/><ellipse cx="908.1" cy="828.7" rx="11.0" ry="9.5" transform="rotate(202 908.1 828.7)" fill="#7fcb22"/><ellipse cx="942.8" cy="816.4" rx="11.4" ry="9.7" transform="rotate(303 942.8 816.4)" fill="#9ad42a"/><ellipse cx="945.9" cy="831.8" rx="10.2" ry="7.9" transform="rotate(347 945.9 831.8)" fill="#aede35"/><ellipse cx="928.7" cy="852.8" rx="10.0" ry="9.1" transform="rotate(447 928.7 852.8)" fill="#aede35"/><ellipse cx="910.3" cy="844.5" rx="11.6" ry="10.8" transform="rotate(506 910.3 844.5)" fill="#62c01c"/><path d="M969.9,825.9 Q969.9,816.8 978.0,811.4" fill="none" stroke="#bfe03a" stroke-width="3.3" stroke-linecap="round"/><path d="M969.9,825.9 Q983.1,829.5 993.9,821.7" fill="none" stroke="#bfe03a" stroke-width="3.3" stroke-linecap="round"/><path d="M969.9,825.9 Q977.1,831.3 982.5,838.2" fill="none" stroke="#bfe03a" stroke-width="3.3" stroke-linecap="round"/><path d="M969.9,825.9 Q963.5,833.3 955.0,838.7" fill="none" stroke="#bfe03a" stroke-width="3.3" stroke-linecap="round"/><path d="M969.9,825.9 Q959.7,825.8 951.4,820.6" fill="none" stroke="#bfe03a" stroke-width="3.3" stroke-linecap="round"/><ellipse cx="978.0" cy="811.4" rx="11.7" ry="10.2" transform="rotate(294 978.0 811.4)" fill="#7fcb22"/><ellipse cx="993.9" cy="821.7" rx="9.5" ry="7.8" transform="rotate(348 993.9 821.7)" fill="#62c01c"/><ellipse cx="982.5" cy="838.2" rx="8.0" ry="6.1" transform="rotate(411 982.5 838.2)" fill="#aede35"/><ellipse cx="955.0" cy="838.7" rx="12.3" ry="10.5" transform="rotate(493 955.0 838.7)" fill="#8ed026"/><ellipse cx="951.4" cy="820.6" rx="9.3" ry="8.7" transform="rotate(560 951.4 820.6)" fill="#aede35"/><path d="M1008.5,848.2 Q1007.8,862.4 1020.9,870.4" fill="none" stroke="#bfe03a" stroke-width="3.3" stroke-linecap="round"/><path d="M1008.5,848.2 Q998.6,853.3 990.5,860.5" fill="none" stroke="#bfe03a" stroke-width="3.3" stroke-linecap="round"/><path d="M1008.5,848.2 Q999.9,840.2 987.9,837.8" fill="none" stroke="#bfe03a" stroke-width="3.3" stroke-linecap="round"/><path d="M1008.5,848.2 Q1004.3,841.3 1008.0,834.2" fill="none" stroke="#bfe03a" stroke-width="3.3" stroke-linecap="round"/><path d="M1008.5,848.2 Q1017.1,846.5 1025.3,843.6" fill="none" stroke="#bfe03a" stroke-width="3.3" stroke-linecap="round"/><ellipse cx="1020.9" cy="870.4" rx="12.1" ry="11.3" transform="rotate(66 1020.9 870.4)" fill="#7fcb22"/><ellipse cx="990.5" cy="860.5" rx="10.0" ry="9.5" transform="rotate(139 990.5 860.5)" fill="#9ad42a"/><ellipse cx="987.9" cy="837.8" rx="11.0" ry="9.3" transform="rotate(212 987.9 837.8)" fill="#62c01c"/><ellipse cx="1008.0" cy="834.2" rx="9.8" ry="7.9" transform="rotate(269 1008.0 834.2)" fill="#aede35"/><ellipse cx="1025.3" cy="843.6" rx="8.6" ry="7.6" transform="rotate(341 1025.3 843.6)" fill="#9ad42a"/><path d="M1055.7,826.0 Q1066.5,830.7 1077.5,834.8" fill="none" stroke="#bfe03a" stroke-width="3.3" stroke-linecap="round"/><path d="M1055.7,826.0 Q1057.8,835.1 1051.1,842.3" fill="none" stroke="#bfe03a" stroke-width="3.3" stroke-linecap="round"/><path d="M1055.7,826.0 Q1042.1,834.3 1026.6,829.1" fill="none" stroke="#bfe03a" stroke-width="3.3" stroke-linecap="round"/><path d="M1055.7,826.0 Q1044.5,824.9 1037.4,817.0" fill="none" stroke="#bfe03a" stroke-width="3.3" stroke-linecap="round"/><path d="M1055.7,826.0 Q1063.3,816.1 1067.4,804.8" fill="none" stroke="#bfe03a" stroke-width="3.3" stroke-linecap="round"/><ellipse cx="1077.5" cy="834.8" rx="8.8" ry="7.1" transform="rotate(27 1077.5 834.8)" fill="#9ad42a"/><ellipse cx="1051.1" cy="842.3" rx="10.0" ry="8.1" transform="rotate(103 1051.1 842.3)" fill="#7fcb22"/><ellipse cx="1026.6" cy="829.1" rx="10.4" ry="7.5" transform="rotate(172 1026.6 829.1)" fill="#9ad42a"/><ellipse cx="1037.4" cy="817.0" rx="10.2" ry="8.4" transform="rotate(212 1037.4 817.0)" fill="#62c01c"/><ellipse cx="1067.4" cy="804.8" rx="10.3" ry="7.5" transform="rotate(294 1067.4 804.8)" fill="#aede35"/><path d="M1094.4,835.9 Q1103.4,829.5 1104.3,819.2" fill="none" stroke="#bfe03a" stroke-width="3.3" stroke-linecap="round"/><path d="M1094.4,835.9 Q1109.5,841.7 1122.0,851.2" fill="none" stroke="#bfe03a" stroke-width="3.3" stroke-linecap="round"/><path d="M1094.4,835.9 Q1094.2,845.8 1093.3,855.6" fill="none" stroke="#bfe03a" stroke-width="3.3" stroke-linecap="round"/><path d="M1094.4,835.9 Q1081.3,835.3 1068.3,836.6" fill="none" stroke="#bfe03a" stroke-width="3.3" stroke-linecap="round"/><path d="M1094.4,835.9 Q1087.6,824.4 1085.5,811.4" fill="none" stroke="#bfe03a" stroke-width="3.3" stroke-linecap="round"/><ellipse cx="1104.3" cy="819.2" rx="8.0" ry="6.3" transform="rotate(295 1104.3 819.2)" fill="#8ed026"/><ellipse cx="1122.0" cy="851.2" rx="11.7" ry="9.8" transform="rotate(395 1122.0 851.2)" fill="#7fcb22"/><ellipse cx="1093.3" cy="855.6" rx="12.3" ry="11.2" transform="rotate(453 1093.3 855.6)" fill="#7fcb22"/><ellipse cx="1068.3" cy="836.6" rx="8.6" ry="6.5" transform="rotate(538 1068.3 836.6)" fill="#aede35"/><ellipse cx="1085.5" cy="811.4" rx="9.4" ry="6.8" transform="rotate(614 1085.5 811.4)" fill="#9ad42a"/><path d="M1141.1,864.3 Q1149.6,870.0 1157.9,876.1" fill="none" stroke="#bfe03a" stroke-width="3.3" stroke-linecap="round"/><path d="M1141.1,864.3 Q1132.9,869.0 1130.7,877.5" fill="none" stroke="#bfe03a" stroke-width="3.3" stroke-linecap="round"/><path d="M1141.1,864.3 Q1128.3,869.9 1115.8,863.9" fill="none" stroke="#bfe03a" stroke-width="3.3" stroke-linecap="round"/><path d="M1141.1,864.3 Q1136.5,859.0 1129.5,856.6" fill="none" stroke="#bfe03a" stroke-width="3.3" stroke-linecap="round"/><path d="M1141.1,864.3 Q1150.8,857.2 1149.6,846.0" fill="none" stroke="#bfe03a" stroke-width="3.3" stroke-linecap="round"/><path d="M1141.1,864.3 Q1152.0,867.1 1163.2,864.9" fill="none" stroke="#bfe03a" stroke-width="3.3" stroke-linecap="round"/><ellipse cx="1157.9" cy="876.1" rx="8.8" ry="6.4" transform="rotate(41 1157.9 876.1)" fill="#9ad42a"/><ellipse cx="1130.7" cy="877.5" rx="10.7" ry="9.5" transform="rotate(122 1130.7 877.5)" fill="#7fcb22"/><ellipse cx="1115.8" cy="863.9" rx="9.9" ry="7.4" transform="rotate(181 1115.8 863.9)" fill="#7fcb22"/><ellipse cx="1129.5" cy="856.6" rx="11.1" ry="8.4" transform="rotate(220 1129.5 856.6)" fill="#8ed026"/><ellipse cx="1149.6" cy="846.0" rx="10.1" ry="8.6" transform="rotate(290 1149.6 846.0)" fill="#62c01c"/><ellipse cx="1163.2" cy="864.9" rx="11.8" ry="10.5" transform="rotate(362 1163.2 864.9)" fill="#9ad42a"/><path d="M1174.1,840.6 Q1186.0,850.9 1202.5,848.9" fill="none" stroke="#bfe03a" stroke-width="3.3" stroke-linecap="round"/><path d="M1174.1,840.6 Q1171.8,850.2 1176.5,859.0" fill="none" stroke="#bfe03a" stroke-width="3.3" stroke-linecap="round"/><path d="M1174.1,840.6 Q1158.0,846.8 1155.4,862.2" fill="none" stroke="#bfe03a" stroke-width="3.3" stroke-linecap="round"/><path d="M1174.1,840.6 Q1162.5,846.0 1150.9,840.7" fill="none" stroke="#bfe03a" stroke-width="3.3" stroke-linecap="round"/><path d="M1174.1,840.6 Q1170.6,835.6 1167.6,830.3" fill="none" stroke="#bfe03a" stroke-width="3.3" stroke-linecap="round"/><path d="M1174.1,840.6 Q1181.7,839.4 1186.8,834.2" fill="none" stroke="#bfe03a" stroke-width="3.3" stroke-linecap="round"/><ellipse cx="1202.5" cy="848.9" rx="11.9" ry="10.1" transform="rotate(20 1202.5 848.9)" fill="#62c01c"/><ellipse cx="1176.5" cy="859.0" rx="11.8" ry="8.8" transform="rotate(84 1176.5 859.0)" fill="#7fcb22"/><ellipse cx="1155.4" cy="862.2" rx="9.5" ry="8.3" transform="rotate(125 1155.4 862.2)" fill="#62c01c"/><ellipse cx="1150.9" cy="840.7" rx="11.1" ry="9.2" transform="rotate(180 1150.9 840.7)" fill="#7fcb22"/><ellipse cx="1167.6" cy="830.3" rx="12.5" ry="9.8" transform="rotate(243 1167.6 830.3)" fill="#aede35"/><ellipse cx="1186.8" cy="834.2" rx="9.3" ry="8.2" transform="rotate(328 1186.8 834.2)" fill="#7fcb22"/>

</g></g>
<rect x="624.75" y="739.05" width="571.50" height="513.20" fill="none" stroke="#263654" stroke-width="1.5" opacity="0.55"/>
<text x="773.4" y="1236.9" font-size="50" font-weight="bold" fill="#fff" stroke="#fff" stroke-width="0.7">2 mM H<tspan font-size="33.0">2</tspan>O<tspan font-size="33.0">2</tspan></text>
<rect x="1102" y="1222.5" width="79.5" height="11.2" fill="#fff"/>
<clipPath id="cp6"><rect x="627.2" y="1274" width="572.8" height="628.2"/></clipPath>
<g clip-path="url(#cp6)"><g filter="url(#soft)">
<rect x="627.2" y="1274" width="572.8" height="628.2" fill="#465d7f"/>
<linearGradient id="lg6" x1="0" y1="0" x2="0" y2="1"><stop offset="0" stop-color="#3e5a70" stop-opacity="0.3"/><stop offset="0.3" stop-color="#3e5a70" stop-opacity="0.0"/><stop offset="1" stop-color="#3e5a70" stop-opacity="0"/></linearGradient>
<rect x="627.2" y="1274" width="572.8" height="628.2" fill="url(#lg6)"/>
<rect x="627.2" y="1274" width="572.8" height="628.2" filter="url(#mtA)" opacity="0.35"/>
<rect x="627.2" y="1274" width="572.8" height="628.2" filter="url(#mtB)" opacity="0.25"/>
<rect x="642.9" y="1274" width="8" height="628.2" fill="#a8a4ac" opacity="0.2"/>
<rect x="645.4" y="1274" width="3" height="628.2" fill="#d8d0c8" opacity="0.2"/>
<rect x="780.8" y="1274" width="8" height="628.2" fill="#a8a4ac" opacity="0.2"/>
<rect x="783.3" y="1274" width="3" height="628.2" fill="#d8d0c8" opacity="0.2"/>
<rect x="918.6" y="1274" width="8" height="628.2" fill="#a8a4ac" opacity="0.2"/>
<rect x="921.1" y="1274" width="3" height="628.2" fill="#d8d0c8" opacity="0.2"/>
<rect x="1054.8" y="1274" width="8" height="628.2" fill="#a8a4ac" opacity="0.2"/>
<rect x="1057.3" y="1274" width="3" height="628.2" fill="#d8d0c8" opacity="0.2"/>
<rect x="1192.7" y="1274" width="8" height="628.2" fill="#a8a4ac" opacity="0.2"/>
<rect x="1195.2" y="1274" width="3" height="628.2" fill="#d8d0c8" opacity="0.2"/>
<rect x="627.2" y="1367.7" width="572.8" height="3" fill="#a8a0a8" opacity="0.13"/>
<rect x="627.2" y="1505.5" width="572.8" height="3" fill="#a8a0a8" opacity="0.13"/>
<rect x="627.2" y="1643.5" width="572.8" height="3" fill="#a8a0a8" opacity="0.13"/>
<rect x="627.2" y="1783.0" width="572.8" height="3" fill="#a8a0a8" opacity="0.13"/>

<path d="M670.4,1377.6 L669.7,1389.8 L670.5,1402.0 L670.9,1414.2 L670.3,1426.4 L669.9,1438.6 L670.7,1450.8 L670.9,1463.0 L669.2,1475.2 L669.7,1487.4 L669.3,1499.6 L669.0,1511.8 L669.6,1524.0 L669.3,1536.2 L669.4,1548.4 L669.1,1560.6 L669.8,1572.8 L667.8,1585.0 L668.0,1597.2 L667.5,1609.4 L667.8,1621.6 L666.4,1633.8 L666.4,1646.0 L667.4,1658.2 L668.1,1670.4 L667.5,1682.6 L667.5,1694.8 L668.0,1707.0 L666.1,1719.2 L666.3,1731.4 L667.2,1743.6 L666.1,1755.8 L666.3,1768.0 L664.8,1780.2 L664.7,1792.4 L665.4,1804.6" fill="none" stroke="#d0d0c8" stroke-width="2.3" stroke-linecap="round" stroke-linejoin="round" opacity="0.68"/>
<path d="M722.6,1350.7 L723.2,1362.9 L722.4,1375.1 L722.9,1387.2 L723.6,1399.4 L722.4,1411.6 L723.2,1423.8 L723.9,1435.9 L724.0,1448.1 L722.4,1460.3 L722.5,1472.5 L723.3,1484.7 L722.5,1496.8 L723.6,1509.0 L723.7,1521.2 L723.4,1533.4 L722.4,1545.6 L723.5,1557.7 L723.8,1569.9 L722.7,1582.1 L722.6,1594.3 L721.5,1606.4 L722.1,1618.6 L723.3,1630.8 L722.1,1643.0 L721.9,1655.2 L721.1,1667.3 L721.4,1679.5 L722.4,1691.7 L722.8,1703.9 L722.7,1716.1 L722.1,1728.2 L722.7,1740.4 L722.8,1752.6 L723.1,1764.8 L722.0,1776.9 L722.5,1789.1 L722.6,1801.3" fill="none" stroke="#d0d0c8" stroke-width="2.3" stroke-linecap="round" stroke-linejoin="round" opacity="0.68"/>
<path d="M761.2,1357.4 L761.6,1369.5 L762.9,1381.5 L763.4,1393.6 L763.0,1405.6 L762.8,1417.7 L762.3,1429.7 L762.5,1441.8 L762.3,1453.8 L762.8,1465.9 L763.9,1477.9 L764.1,1490.0 L762.9,1502.0 L763.1,1514.1 L763.6,1526.1 L764.7,1538.2 L764.8,1550.2 L764.7,1562.2 L764.7,1574.3 L763.7,1586.4 L764.4,1598.4 L765.9,1610.5 L765.8,1622.5 L766.4,1634.6 L766.1,1646.6 L765.6,1658.7 L765.9,1670.7 L765.0,1682.8 L765.5,1694.8 L765.8,1706.9 L767.4,1718.9 L767.3,1731.0 L768.0,1743.0 L768.6,1755.0 L768.2,1767.1 L769.1,1779.2 L768.0,1791.2" fill="none" stroke="#d0d0c8" stroke-width="2.3" stroke-linecap="round" stroke-linejoin="round" opacity="0.68"/>
<path d="M818.4,1397.8 L817.4,1410.0 L817.9,1422.3 L817.1,1434.5 L817.3,1446.7 L817.6,1458.9 L816.9,1471.2 L816.6,1483.4 L817.2,1495.6 L816.6,1507.8 L815.9,1520.1 L814.5,1532.3 L815.4,1544.5 L816.0,1556.8 L816.1,1569.0 L815.5,1581.2 L814.4,1593.4 L813.1,1605.7 L812.8,1617.9 L814.1,1630.1 L812.9,1642.3 L812.5,1654.6 L812.0,1666.8 L810.8,1679.0 L810.1,1691.3 L811.5,1703.5 L810.8,1715.7 L810.8,1727.9 L811.6,1740.2 L811.9,1752.4 L810.3,1764.6 L809.1,1776.8 L808.6,1789.1 L810.0,1801.3" fill="none" stroke="#d0d0c8" stroke-width="2.3" stroke-linecap="round" stroke-linejoin="round" opacity="0.68"/>
<path d="M848.6,1391.0 L849.7,1403.0 L849.6,1415.0 L849.3,1427.0 L848.5,1439.0 L848.4,1451.1 L848.0,1463.1 L848.0,1475.1 L849.9,1487.1 L848.9,1499.1 L850.0,1511.1 L851.2,1523.1 L851.4,1535.1 L851.2,1547.1 L850.3,1559.2 L851.1,1571.2 L851.8,1583.2 L851.1,1595.2 L851.0,1607.2 L850.6,1619.2 L851.2,1631.2 L850.8,1643.2 L849.9,1655.2 L849.9,1667.2 L850.8,1679.3 L850.5,1691.3 L850.7,1703.3 L850.7,1715.3 L852.0,1727.3" fill="none" stroke="#d0d0c8" stroke-width="2.3" stroke-linecap="round" stroke-linejoin="round" opacity="0.68"/>
<path d="M885.6,1370.9 L886.1,1383.3 L884.7,1395.6 L884.5,1408.0 L884.7,1420.4 L885.5,1432.7 L884.4,1445.1 L885.1,1457.5 L885.5,1469.8 L884.8,1482.2 L885.6,1494.5 L886.3,1506.9 L887.0,1519.3 L886.4,1531.6 L886.1,1544.0 L885.8,1556.4 L885.7,1568.7 L884.9,1581.1 L886.1,1593.5 L886.6,1605.8 L885.2,1618.2 L885.4,1630.6 L886.3,1642.9 L885.6,1655.3 L886.1,1667.6 L887.0,1680.0 L885.7,1692.4 L885.2,1704.7 L886.2,1717.1 L885.8,1729.5 L884.9,1741.8 L885.6,1754.2" fill="none" stroke="#d0d0c8" stroke-width="2.3" stroke-linecap="round" stroke-linejoin="round" opacity="0.68"/>
<path d="M951.2,1370.9 L950.8,1383.4 L952.2,1396.0 L951.4,1408.5 L952.3,1421.0 L952.4,1433.6 L953.1,1446.1 L952.1,1458.6 L952.5,1471.2 L951.7,1483.7 L951.6,1496.2 L952.7,1508.8 L954.0,1521.3 L954.4,1533.8 L955.1,1546.3 L953.7,1558.9 L954.7,1571.4 L954.6,1583.9 L953.9,1596.5 L953.2,1609.0 L952.6,1621.5 L953.7,1634.1 L954.6,1646.6" fill="none" stroke="#d0d0c8" stroke-width="2.3" stroke-linecap="round" stroke-linejoin="round" opacity="0.68"/>
<path d="M1000.0,1364.1 L1000.9,1376.3 L1001.2,1388.5 L999.9,1400.8 L999.4,1413.0 L1001.3,1425.2 L1002.0,1437.4 L1002.0,1449.7 L1002.0,1461.9 L1001.8,1474.1 L1001.1,1486.3 L1002.6,1498.6 L1002.6,1510.8 L1003.8,1523.0 L1004.4,1535.2 L1004.8,1547.4 L1004.8,1559.7 L1003.9,1571.9 L1003.9,1584.1 L1002.9,1596.3 L1004.0,1608.6 L1005.1,1620.8 L1004.1,1633.0 L1003.8,1645.2 L1005.4,1657.5 L1005.4,1669.7 L1005.0,1681.9" fill="none" stroke="#d0d0c8" stroke-width="2.3" stroke-linecap="round" stroke-linejoin="round" opacity="0.68"/>
<path d="M1038.6,1350.7 L1038.7,1362.8 L1038.8,1374.9 L1039.6,1387.0 L1040.3,1399.1 L1040.0,1411.2 L1039.2,1423.3 L1039.4,1435.4 L1039.6,1447.5 L1040.5,1459.6 L1040.1,1471.7 L1040.2,1483.8 L1040.6,1495.9 L1042.4,1508.1 L1041.4,1520.2 L1041.3,1532.3 L1041.5,1544.4 L1041.9,1556.5 L1042.0,1568.6 L1043.5,1580.7 L1043.8,1592.8 L1044.3,1604.9 L1043.9,1617.0 L1044.5,1629.1 L1045.6,1641.2 L1045.4,1653.3" fill="none" stroke="#d0d0c8" stroke-width="2.3" stroke-linecap="round" stroke-linejoin="round" opacity="0.68"/>
<path d="M1085.7,1360.8 L1086.2,1373.0 L1086.6,1385.1 L1085.7,1397.3 L1086.0,1409.5 L1085.9,1421.7 L1086.0,1433.8 L1087.2,1446.0 L1086.9,1458.2 L1087.5,1470.3 L1086.8,1482.5 L1086.8,1494.7 L1086.3,1506.9 L1087.0,1519.0 L1088.8,1531.2 L1087.7,1543.4 L1089.0,1555.6 L1089.4,1567.7 L1089.5,1579.9 L1090.8,1592.1 L1090.3,1604.2 L1090.8,1616.4 L1090.6,1628.6 L1089.9,1640.8 L1090.4,1652.9 L1090.7,1665.1" fill="none" stroke="#d0d0c8" stroke-width="2.3" stroke-linecap="round" stroke-linejoin="round" opacity="0.68"/>
<path d="M1126.0,1360.8 L1125.3,1372.8 L1124.7,1384.9 L1124.7,1396.9 L1125.8,1408.9 L1125.7,1420.9 L1127.1,1433.0 L1126.4,1445.0 L1125.8,1457.0 L1126.2,1469.0 L1127.2,1481.1 L1128.5,1493.1 L1129.4,1505.1 L1129.6,1517.2 L1128.9,1529.2 L1130.0,1541.2 L1129.0,1553.2 L1129.6,1565.3 L1130.8,1577.3 L1131.3,1589.3 L1132.0,1601.3 L1132.2,1613.4 L1131.9,1625.4 L1130.9,1637.4 L1130.9,1649.4 L1131.3,1661.5 L1131.1,1673.5" fill="none" stroke="#d0d0c8" stroke-width="2.3" stroke-linecap="round" stroke-linejoin="round" opacity="0.68"/>
<path d="M1168.1,1360.8 L1167.3,1373.0 L1168.6,1385.1 L1168.9,1397.3 L1170.0,1409.5 L1170.1,1421.7 L1169.2,1433.8 L1170.4,1446.0 L1169.6,1458.2 L1169.4,1470.3 L1169.3,1482.5 L1170.4,1494.7 L1170.4,1506.9 L1172.6,1519.0 L1172.6,1531.2 L1172.4,1543.4 L1173.3,1555.6 L1172.8,1567.7 L1173.3,1579.9 L1174.4,1592.1 L1174.8,1604.2 L1176.2,1616.4 L1176.5,1628.6 L1177.2,1640.8 L1177.2,1652.9 L1176.5,1665.1" fill="none" stroke="#d0d0c8" stroke-width="2.3" stroke-linecap="round" stroke-linejoin="round" opacity="0.68"/>
<path d="M670.4,1377.6 L667.2,1347.3" stroke="#a6d42c" stroke-width="3.2" fill="none" stroke-linecap="round"/><path d="M722.6,1350.7 L721.4,1321.6" stroke="#a6d42c" stroke-width="3.2" fill="none" stroke-linecap="round"/><path d="M761.2,1357.4 L764.2,1332.3" stroke="#a6d42c" stroke-width="3.2" fill="none" stroke-linecap="round"/><path d="M818.4,1397.8 L816.9,1378.0" stroke="#a6d42c" stroke-width="3.2" fill="none" stroke-linecap="round"/><path d="M848.6,1391.0 L850.3,1358.2" stroke="#a6d42c" stroke-width="3.2" fill="none" stroke-linecap="round"/><path d="M885.6,1370.9 L888.1,1335.5" stroke="#a6d42c" stroke-width="3.2" fill="none" stroke-linecap="round"/><path d="M951.2,1370.9 L949.7,1337.9" stroke="#a6d42c" stroke-width="3.2" fill="none" stroke-linecap="round"/><path d="M1000.0,1364.1 L999.6,1340.1" stroke="#a6d42c" stroke-width="3.2" fill="none" stroke-linecap="round"/><path d="M1038.6,1350.7 L1037.4,1316.5" stroke="#a6d42c" stroke-width="3.2" fill="none" stroke-linecap="round"/><path d="M1085.7,1360.8 L1084.9,1331.4" stroke="#a6d42c" stroke-width="3.2" fill="none" stroke-linecap="round"/><path d="M1126.0,1360.8 L1124.9,1330.9" stroke="#a6d42c" stroke-width="3.2" fill="none" stroke-linecap="round"/><path d="M1168.1,1360.8 L1169.3,1331.6" stroke="#a6d42c" stroke-width="3.2" fill="none" stroke-linecap="round"/><path d="M667.2,1347.3 Q665.3,1338.8 656.8,1334.7" fill="none" stroke="#a6d42c" stroke-width="3.2" stroke-linecap="round"/><path d="M667.2,1347.3 Q670.9,1337.2 674.4,1327.0" fill="none" stroke="#a6d42c" stroke-width="3.2" stroke-linecap="round"/><path d="M667.2,1347.3 Q678.5,1341.9 687.8,1334.2" fill="none" stroke="#a6d42c" stroke-width="3.2" stroke-linecap="round"/><path d="M667.2,1347.3 Q674.5,1353.4 681.4,1359.8" fill="none" stroke="#a6d42c" stroke-width="3.2" stroke-linecap="round"/><path d="M667.2,1347.3 Q666.5,1355.7 668.2,1363.9" fill="none" stroke="#a6d42c" stroke-width="3.2" stroke-linecap="round"/><path d="M667.2,1347.3 Q658.9,1349.2 650.4,1347.6" fill="none" stroke="#a6d42c" stroke-width="3.2" stroke-linecap="round"/><ellipse cx="656.8" cy="1334.7" rx="8.9" ry="7.1" transform="rotate(236 656.8 1334.7)" fill="#1e9a16"/><ellipse cx="674.4" cy="1327.0" rx="6.3" ry="5.2" transform="rotate(286 674.4 1327.0)" fill="#3cb428"/><ellipse cx="687.8" cy="1334.2" rx="6.4" ry="5.1" transform="rotate(322 687.8 1334.2)" fill="#17900f"/><ellipse cx="681.4" cy="1359.8" rx="7.9" ry="7.1" transform="rotate(408 681.4 1359.8)" fill="#1e9a16"/><ellipse cx="668.2" cy="1363.9" rx="5.7" ry="4.3" transform="rotate(447 668.2 1363.9)" fill="#17900f"/><ellipse cx="650.4" cy="1347.6" rx="8.0" ry="6.5" transform="rotate(539 650.4 1347.6)" fill="#3cb428"/><path d="M721.4,1321.6 Q706.1,1320.8 691.4,1317.1" fill="none" stroke="#a6d42c" stroke-width="3.2" stroke-linecap="round"/><path d="M721.4,1321.6 Q714.3,1313.3 709.9,1303.6" fill="none" stroke="#a6d42c" stroke-width="3.2" stroke-linecap="round"/><path d="M721.4,1321.6 Q730.1,1314.0 732.1,1303.3" fill="none" stroke="#a6d42c" stroke-width="3.2" stroke-linecap="round"/><path d="M721.4,1321.6 Q732.1,1316.7 744.1,1316.7" fill="none" stroke="#a6d42c" stroke-width="3.2" stroke-linecap="round"/><path d="M721.4,1321.6 Q729.1,1326.4 738.1,1328.7" fill="none" stroke="#a6d42c" stroke-width="3.2" stroke-linecap="round"/><path d="M721.4,1321.6 Q722.1,1330.4 718.1,1338.5" fill="none" stroke="#a6d42c" stroke-width="3.2" stroke-linecap="round"/><path d="M721.4,1321.6 Q709.0,1328.1 694.8,1330.0" fill="none" stroke="#a6d42c" stroke-width="3.2" stroke-linecap="round"/><ellipse cx="691.4" cy="1317.1" rx="8.3" ry="6.0" transform="rotate(191 691.4 1317.1)" fill="#1e9a16"/><ellipse cx="709.9" cy="1303.6" rx="8.1" ry="7.5" transform="rotate(243 709.9 1303.6)" fill="#1e9a16"/><ellipse cx="732.1" cy="1303.3" rx="8.1" ry="5.8" transform="rotate(295 732.1 1303.3)" fill="#23a81a"/><ellipse cx="744.1" cy="1316.7" rx="8.7" ry="7.3" transform="rotate(345 744.1 1316.7)" fill="#1e9a16"/><ellipse cx="738.1" cy="1328.7" rx="5.9" ry="4.9" transform="rotate(388 738.1 1328.7)" fill="#3cb428"/><ellipse cx="718.1" cy="1338.5" rx="8.8" ry="8.3" transform="rotate(459 718.1 1338.5)" fill="#2fb21f"/><ellipse cx="694.8" cy="1330.0" rx="8.8" ry="8.3" transform="rotate(518 694.8 1330.0)" fill="#1e9a16"/><path d="M764.2,1332.3 Q748.8,1329.9 733.6,1332.9" fill="none" stroke="#a6d42c" stroke-width="3.2" stroke-linecap="round"/><path d="M764.2,1332.3 Q754.3,1322.5 744.3,1312.8" fill="none" stroke="#a6d42c" stroke-width="3.2" stroke-linecap="round"/><path d="M764.2,1332.3 Q776.5,1327.4 780.4,1315.9" fill="none" stroke="#a6d42c" stroke-width="3.2" stroke-linecap="round"/><path d="M764.2,1332.3 Q778.3,1330.1 792.2,1327.0" fill="none" stroke="#a6d42c" stroke-width="3.2" stroke-linecap="round"/><path d="M764.2,1332.3 Q769.4,1343.7 774.6,1355.1" fill="none" stroke="#a6d42c" stroke-width="3.2" stroke-linecap="round"/><path d="M764.2,1332.3 Q760.4,1338.0 761.8,1344.5" fill="none" stroke="#a6d42c" stroke-width="3.2" stroke-linecap="round"/><ellipse cx="733.6" cy="1332.9" rx="6.4" ry="5.5" transform="rotate(178 733.6 1332.9)" fill="#17900f"/><ellipse cx="744.3" cy="1312.8" rx="7.8" ry="6.1" transform="rotate(231 744.3 1312.8)" fill="#3cb428"/><ellipse cx="780.4" cy="1315.9" rx="6.5" ry="5.1" transform="rotate(308 780.4 1315.9)" fill="#2fb21f"/><ellipse cx="792.2" cy="1327.0" rx="7.8" ry="6.4" transform="rotate(347 792.2 1327.0)" fill="#2fb21f"/><ellipse cx="774.6" cy="1355.1" rx="7.5" ry="6.4" transform="rotate(430 774.6 1355.1)" fill="#23a81a"/><ellipse cx="761.8" cy="1344.5" rx="7.9" ry="6.8" transform="rotate(459 761.8 1344.5)" fill="#2fb21f"/><path d="M816.9,1378.0 Q813.0,1384.9 805.4,1388.5" fill="none" stroke="#a6d42c" stroke-width="3.2" stroke-linecap="round"/><path d="M816.9,1378.0 Q802.7,1376.9 788.8,1374.3" fill="none" stroke="#a6d42c" stroke-width="3.2" stroke-linecap="round"/><path d="M816.9,1378.0 Q807.0,1371.4 803.1,1361.0" fill="none" stroke="#a6d42c" stroke-width="3.2" stroke-linecap="round"/><path d="M816.9,1378.0 Q826.3,1369.3 839.2,1366.0" fill="none" stroke="#a6d42c" stroke-width="3.2" stroke-linecap="round"/><path d="M816.9,1378.0 Q828.7,1381.6 839.1,1387.8" fill="none" stroke="#a6d42c" stroke-width="3.2" stroke-linecap="round"/><path d="M816.9,1378.0 Q819.6,1387.2 826.3,1394.6" fill="none" stroke="#a6d42c" stroke-width="3.2" stroke-linecap="round"/><ellipse cx="805.4" cy="1388.5" rx="8.2" ry="5.9" transform="rotate(131 805.4 1388.5)" fill="#17900f"/><ellipse cx="788.8" cy="1374.3" rx="6.8" ry="6.2" transform="rotate(189 788.8 1374.3)" fill="#1e9a16"/><ellipse cx="803.1" cy="1361.0" rx="6.0" ry="5.7" transform="rotate(237 803.1 1361.0)" fill="#1e9a16"/><ellipse cx="839.2" cy="1366.0" rx="7.3" ry="6.5" transform="rotate(326 839.2 1366.0)" fill="#23a81a"/><ellipse cx="839.1" cy="1387.8" rx="7.3" ry="5.5" transform="rotate(389 839.1 1387.8)" fill="#23a81a"/><ellipse cx="826.3" cy="1394.6" rx="6.1" ry="5.4" transform="rotate(426 826.3 1394.6)" fill="#17900f"/><path d="M850.3,1358.2 Q839.2,1355.0 827.6,1353.8" fill="none" stroke="#a6d42c" stroke-width="3.2" stroke-linecap="round"/><path d="M850.3,1358.2 Q845.9,1352.3 839.2,1348.7" fill="none" stroke="#a6d42c" stroke-width="3.2" stroke-linecap="round"/><path d="M850.3,1358.2 Q850.3,1349.6 858.3,1344.8" fill="none" stroke="#a6d42c" stroke-width="3.2" stroke-linecap="round"/><path d="M850.3,1358.2 Q866.7,1362.5 881.1,1354.4" fill="none" stroke="#a6d42c" stroke-width="3.2" stroke-linecap="round"/><path d="M850.3,1358.2 Q861.7,1367.0 874.1,1374.6" fill="none" stroke="#a6d42c" stroke-width="3.2" stroke-linecap="round"/><path d="M850.3,1358.2 Q850.7,1365.2 849.1,1372.1" fill="none" stroke="#a6d42c" stroke-width="3.2" stroke-linecap="round"/><path d="M850.3,1358.2 Q836.3,1362.0 827.5,1372.4" fill="none" stroke="#a6d42c" stroke-width="3.2" stroke-linecap="round"/><ellipse cx="827.6" cy="1353.8" rx="6.4" ry="4.8" transform="rotate(194 827.6 1353.8)" fill="#17900f"/><ellipse cx="839.2" cy="1348.7" rx="7.5" ry="6.5" transform="rotate(227 839.2 1348.7)" fill="#2fb21f"/><ellipse cx="858.3" cy="1344.8" rx="7.7" ry="5.8" transform="rotate(295 858.3 1344.8)" fill="#23a81a"/><ellipse cx="881.1" cy="1354.4" rx="5.5" ry="4.5" transform="rotate(351 881.1 1354.4)" fill="#23a81a"/><ellipse cx="874.1" cy="1374.6" rx="6.0" ry="4.4" transform="rotate(401 874.1 1374.6)" fill="#17900f"/><ellipse cx="849.1" cy="1372.1" rx="6.6" ry="5.6" transform="rotate(454 849.1 1372.1)" fill="#3cb428"/><ellipse cx="827.5" cy="1372.4" rx="6.5" ry="6.2" transform="rotate(502 827.5 1372.4)" fill="#2fb21f"/><path d="M888.1,1335.5 Q884.6,1346.2 875.9,1354.3" fill="none" stroke="#a6d42c" stroke-width="3.2" stroke-linecap="round"/><path d="M888.1,1335.5 Q877.4,1329.4 865.0,1327.1" fill="none" stroke="#a6d42c" stroke-width="3.2" stroke-linecap="round"/><path d="M888.1,1335.5 Q881.6,1327.9 885.1,1318.8" fill="none" stroke="#a6d42c" stroke-width="3.2" stroke-linecap="round"/><path d="M888.1,1335.5 Q903.7,1332.9 913.5,1321.8" fill="none" stroke="#a6d42c" stroke-width="3.2" stroke-linecap="round"/><path d="M888.1,1335.5 Q895.1,1344.6 896.2,1355.6" fill="none" stroke="#a6d42c" stroke-width="3.2" stroke-linecap="round"/><ellipse cx="875.9" cy="1354.3" rx="7.1" ry="6.4" transform="rotate(117 875.9 1354.3)" fill="#17900f"/><ellipse cx="865.0" cy="1327.1" rx="6.7" ry="5.3" transform="rotate(204 865.0 1327.1)" fill="#23a81a"/><ellipse cx="885.1" cy="1318.8" rx="6.4" ry="4.7" transform="rotate(262 885.1 1318.8)" fill="#17900f"/><ellipse cx="913.5" cy="1321.8" rx="6.1" ry="4.9" transform="rotate(326 913.5 1321.8)" fill="#23a81a"/><ellipse cx="896.2" cy="1355.6" rx="7.7" ry="6.0" transform="rotate(432 896.2 1355.6)" fill="#23a81a"/><path d="M949.7,1337.9 Q942.8,1347.3 932.4,1353.5" fill="none" stroke="#a6d42c" stroke-width="3.2" stroke-linecap="round"/><path d="M949.7,1337.9 Q940.8,1335.3 931.5,1336.0" fill="none" stroke="#a6d42c" stroke-width="3.2" stroke-linecap="round"/><path d="M949.7,1337.9 Q946.6,1324.6 936.2,1314.8" fill="none" stroke="#a6d42c" stroke-width="3.2" stroke-linecap="round"/><path d="M949.7,1337.9 Q957.5,1334.1 958.5,1326.2" fill="none" stroke="#a6d42c" stroke-width="3.2" stroke-linecap="round"/><path d="M949.7,1337.9 Q963.4,1331.8 976.9,1338.1" fill="none" stroke="#a6d42c" stroke-width="3.2" stroke-linecap="round"/><path d="M949.7,1337.9 Q958.1,1346.1 964.8,1355.5" fill="none" stroke="#a6d42c" stroke-width="3.2" stroke-linecap="round"/><ellipse cx="932.4" cy="1353.5" rx="6.7" ry="6.4" transform="rotate(132 932.4 1353.5)" fill="#23a81a"/><ellipse cx="931.5" cy="1336.0" rx="7.5" ry="5.5" transform="rotate(188 931.5 1336.0)" fill="#1e9a16"/><ellipse cx="936.2" cy="1314.8" rx="6.0" ry="5.7" transform="rotate(245 936.2 1314.8)" fill="#17900f"/><ellipse cx="958.5" cy="1326.2" rx="7.8" ry="7.2" transform="rotate(301 958.5 1326.2)" fill="#3cb428"/><ellipse cx="976.9" cy="1338.1" rx="7.1" ry="6.5" transform="rotate(361 976.9 1338.1)" fill="#17900f"/><ellipse cx="964.8" cy="1355.5" rx="8.2" ry="7.6" transform="rotate(416 964.8 1355.5)" fill="#2fb21f"/><path d="M999.6,1340.1 Q987.0,1347.1 973.6,1341.4" fill="none" stroke="#a6d42c" stroke-width="3.2" stroke-linecap="round"/><path d="M999.6,1340.1 Q994.6,1331.4 987.0,1324.3" fill="none" stroke="#a6d42c" stroke-width="3.2" stroke-linecap="round"/><path d="M999.6,1340.1 Q1006.0,1330.9 1010.8,1321.0" fill="none" stroke="#a6d42c" stroke-width="3.2" stroke-linecap="round"/><path d="M999.6,1340.1 Q1011.8,1340.1 1019.4,1348.6" fill="none" stroke="#a6d42c" stroke-width="3.2" stroke-linecap="round"/><path d="M999.6,1340.1 Q1006.7,1348.9 1004.4,1359.5" fill="none" stroke="#a6d42c" stroke-width="3.2" stroke-linecap="round"/><path d="M999.6,1340.1 Q992.1,1344.5 984.3,1348.5" fill="none" stroke="#a6d42c" stroke-width="3.2" stroke-linecap="round"/><ellipse cx="973.6" cy="1341.4" rx="7.4" ry="6.3" transform="rotate(176 973.6 1341.4)" fill="#3cb428"/><ellipse cx="987.0" cy="1324.3" rx="6.0" ry="5.3" transform="rotate(237 987.0 1324.3)" fill="#17900f"/><ellipse cx="1010.8" cy="1321.0" rx="7.2" ry="6.4" transform="rotate(295 1010.8 1321.0)" fill="#1e9a16"/><ellipse cx="1019.4" cy="1348.6" rx="7.4" ry="6.5" transform="rotate(388 1019.4 1348.6)" fill="#2fb21f"/><ellipse cx="1004.4" cy="1359.5" rx="8.4" ry="7.7" transform="rotate(439 1004.4 1359.5)" fill="#2fb21f"/><ellipse cx="984.3" cy="1348.5" rx="8.6" ry="6.8" transform="rotate(506 984.3 1348.5)" fill="#23a81a"/><path d="M1037.4,1316.5 Q1040.2,1325.9 1034.0,1333.9" fill="none" stroke="#a6d42c" stroke-width="3.2" stroke-linecap="round"/><path d="M1037.4,1316.5 Q1021.2,1314.8 1010.6,1325.9" fill="none" stroke="#a6d42c" stroke-width="3.2" stroke-linecap="round"/><path d="M1037.4,1316.5 Q1030.0,1312.2 1026.4,1305.0" fill="none" stroke="#a6d42c" stroke-width="3.2" stroke-linecap="round"/><path d="M1037.4,1316.5 Q1051.7,1312.3 1056.2,1299.3" fill="none" stroke="#a6d42c" stroke-width="3.2" stroke-linecap="round"/><path d="M1037.4,1316.5 Q1044.9,1321.8 1053.9,1324.7" fill="none" stroke="#a6d42c" stroke-width="3.2" stroke-linecap="round"/><ellipse cx="1034.0" cy="1333.9" rx="6.6" ry="4.9" transform="rotate(99 1034.0 1333.9)" fill="#3cb428"/><ellipse cx="1010.6" cy="1325.9" rx="8.2" ry="7.2" transform="rotate(156 1010.6 1325.9)" fill="#17900f"/><ellipse cx="1026.4" cy="1305.0" rx="6.0" ry="4.4" transform="rotate(233 1026.4 1305.0)" fill="#1e9a16"/><ellipse cx="1056.2" cy="1299.3" rx="7.8" ry="7.2" transform="rotate(311 1056.2 1299.3)" fill="#3cb428"/><ellipse cx="1053.9" cy="1324.7" rx="5.7" ry="5.4" transform="rotate(392 1053.9 1324.7)" fill="#2fb21f"/><path d="M1084.9,1331.4 Q1078.3,1342.3 1068.0,1350.6" fill="none" stroke="#a6d42c" stroke-width="3.2" stroke-linecap="round"/><path d="M1084.9,1331.4 Q1074.9,1328.0 1065.9,1333.1" fill="none" stroke="#a6d42c" stroke-width="3.2" stroke-linecap="round"/><path d="M1084.9,1331.4 Q1080.1,1320.6 1074.7,1310.2" fill="none" stroke="#a6d42c" stroke-width="3.2" stroke-linecap="round"/><path d="M1084.9,1331.4 Q1084.9,1323.5 1090.8,1317.5" fill="none" stroke="#a6d42c" stroke-width="3.2" stroke-linecap="round"/><path d="M1084.9,1331.4 Q1097.8,1332.0 1109.9,1328.1" fill="none" stroke="#a6d42c" stroke-width="3.2" stroke-linecap="round"/><path d="M1084.9,1331.4 Q1092.1,1338.0 1100.3,1343.5" fill="none" stroke="#a6d42c" stroke-width="3.2" stroke-linecap="round"/><path d="M1084.9,1331.4 Q1088.1,1342.0 1090.5,1352.8" fill="none" stroke="#a6d42c" stroke-width="3.2" stroke-linecap="round"/><ellipse cx="1068.0" cy="1350.6" rx="7.3" ry="5.7" transform="rotate(125 1068.0 1350.6)" fill="#1e9a16"/><ellipse cx="1065.9" cy="1333.1" rx="6.8" ry="6.3" transform="rotate(173 1065.9 1333.1)" fill="#23a81a"/><ellipse cx="1074.7" cy="1310.2" rx="7.4" ry="6.7" transform="rotate(249 1074.7 1310.2)" fill="#1e9a16"/><ellipse cx="1090.8" cy="1317.5" rx="5.9" ry="4.4" transform="rotate(289 1090.8 1317.5)" fill="#17900f"/><ellipse cx="1109.9" cy="1328.1" rx="5.6" ry="4.4" transform="rotate(351 1109.9 1328.1)" fill="#17900f"/><ellipse cx="1100.3" cy="1343.5" rx="7.9" ry="6.9" transform="rotate(405 1100.3 1343.5)" fill="#1e9a16"/><ellipse cx="1090.5" cy="1352.8" rx="6.1" ry="5.3" transform="rotate(438 1090.5 1352.8)" fill="#2fb21f"/><path d="M1124.9,1330.9 Q1119.3,1321.7 1108.0,1318.9" fill="none" stroke="#a6d42c" stroke-width="3.2" stroke-linecap="round"/><path d="M1124.9,1330.9 Q1125.0,1322.9 1127.3,1315.2" fill="none" stroke="#a6d42c" stroke-width="3.2" stroke-linecap="round"/><path d="M1124.9,1330.9 Q1134.4,1320.2 1149.6,1320.5" fill="none" stroke="#a6d42c" stroke-width="3.2" stroke-linecap="round"/><path d="M1124.9,1330.9 Q1132.7,1332.3 1140.6,1333.5" fill="none" stroke="#a6d42c" stroke-width="3.2" stroke-linecap="round"/><path d="M1124.9,1330.9 Q1120.4,1340.6 1125.6,1350.1" fill="none" stroke="#a6d42c" stroke-width="3.2" stroke-linecap="round"/><path d="M1124.9,1330.9 Q1117.1,1332.1 1111.4,1337.1" fill="none" stroke="#a6d42c" stroke-width="3.2" stroke-linecap="round"/><ellipse cx="1108.0" cy="1318.9" rx="8.5" ry="7.8" transform="rotate(221 1108.0 1318.9)" fill="#17900f"/><ellipse cx="1127.3" cy="1315.2" rx="6.3" ry="4.8" transform="rotate(277 1127.3 1315.2)" fill="#23a81a"/><ellipse cx="1149.6" cy="1320.5" rx="8.8" ry="7.2" transform="rotate(332 1149.6 1320.5)" fill="#1e9a16"/><ellipse cx="1140.6" cy="1333.5" rx="5.6" ry="4.6" transform="rotate(372 1140.6 1333.5)" fill="#1e9a16"/><ellipse cx="1125.6" cy="1350.1" rx="6.9" ry="5.1" transform="rotate(448 1125.6 1350.1)" fill="#23a81a"/><ellipse cx="1111.4" cy="1337.1" rx="6.1" ry="5.3" transform="rotate(510 1111.4 1337.1)" fill="#2fb21f"/><path d="M1169.3,1331.6 Q1171.8,1319.7 1170.8,1307.6" fill="none" stroke="#a6d42c" stroke-width="3.2" stroke-linecap="round"/><path d="M1169.3,1331.6 Q1174.7,1321.7 1186.9,1319.8" fill="none" stroke="#a6d42c" stroke-width="3.2" stroke-linecap="round"/><path d="M1169.3,1331.6 Q1178.7,1336.4 1186.9,1342.8" fill="none" stroke="#a6d42c" stroke-width="3.2" stroke-linecap="round"/><path d="M1169.3,1331.6 Q1175.0,1337.4 1176.1,1345.1" fill="none" stroke="#a6d42c" stroke-width="3.2" stroke-linecap="round"/><path d="M1169.3,1331.6 Q1157.9,1336.2 1145.7,1338.6" fill="none" stroke="#a6d42c" stroke-width="3.2" stroke-linecap="round"/><path d="M1169.3,1331.6 Q1159.8,1326.9 1149.4,1329.7" fill="none" stroke="#a6d42c" stroke-width="3.2" stroke-linecap="round"/><ellipse cx="1170.8" cy="1307.6" rx="8.6" ry="7.7" transform="rotate(273 1170.8 1307.6)" fill="#1e9a16"/><ellipse cx="1186.9" cy="1319.8" rx="8.0" ry="6.3" transform="rotate(320 1186.9 1319.8)" fill="#23a81a"/><ellipse cx="1186.9" cy="1342.8" rx="8.8" ry="7.5" transform="rotate(398 1186.9 1342.8)" fill="#17900f"/><ellipse cx="1176.1" cy="1345.1" rx="8.9" ry="8.4" transform="rotate(428 1176.1 1345.1)" fill="#17900f"/><ellipse cx="1145.7" cy="1338.6" rx="8.7" ry="7.7" transform="rotate(520 1145.7 1338.6)" fill="#2fb21f"/><ellipse cx="1149.4" cy="1329.7" rx="8.5" ry="7.0" transform="rotate(547 1149.4 1329.7)" fill="#23a81a"/><path d="M717.0,1337.0 Q710.6,1345.2 710.7,1355.3" fill="none" stroke="#a6d42c" stroke-width="2.9" stroke-linecap="round"/><path d="M717.0,1337.0 Q704.6,1342.2 691.0,1340.5" fill="none" stroke="#a6d42c" stroke-width="2.9" stroke-linecap="round"/><path d="M717.0,1337.0 Q713.9,1331.1 712.2,1324.8" fill="none" stroke="#a6d42c" stroke-width="2.9" stroke-linecap="round"/><path d="M717.0,1337.0 Q726.6,1334.9 730.4,1326.7" fill="none" stroke="#a6d42c" stroke-width="2.9" stroke-linecap="round"/><path d="M717.0,1337.0 Q730.1,1341.5 744.1,1340.2" fill="none" stroke="#a6d42c" stroke-width="2.9" stroke-linecap="round"/><path d="M717.0,1337.0 Q719.1,1348.1 730.5,1352.8" fill="none" stroke="#a6d42c" stroke-width="2.9" stroke-linecap="round"/><ellipse cx="710.7" cy="1355.3" rx="7.0" ry="5.0" transform="rotate(106 710.7 1355.3)" fill="#23a81a"/><ellipse cx="691.0" cy="1340.5" rx="7.4" ry="5.4" transform="rotate(170 691.0 1340.5)" fill="#2fb21f"/><ellipse cx="712.2" cy="1324.8" rx="5.0" ry="4.2" transform="rotate(253 712.2 1324.8)" fill="#23a81a"/><ellipse cx="730.4" cy="1326.7" rx="8.0" ry="7.5" transform="rotate(316 730.4 1326.7)" fill="#23a81a"/><ellipse cx="744.1" cy="1340.2" rx="6.4" ry="6.0" transform="rotate(368 744.1 1340.2)" fill="#2fb21f"/><ellipse cx="730.5" cy="1352.8" rx="5.2" ry="4.8" transform="rotate(416 730.5 1352.8)" fill="#2fb21f"/><path d="M808.0,1368.0 Q804.7,1374.0 805.7,1380.6" fill="none" stroke="#a6d42c" stroke-width="3.2" stroke-linecap="round"/><path d="M808.0,1368.0 Q797.4,1365.2 788.4,1371.0" fill="none" stroke="#a6d42c" stroke-width="3.2" stroke-linecap="round"/><path d="M808.0,1368.0 Q803.5,1357.7 807.3,1347.2" fill="none" stroke="#a6d42c" stroke-width="3.2" stroke-linecap="round"/><path d="M808.0,1368.0 Q816.3,1361.8 822.1,1353.6" fill="none" stroke="#a6d42c" stroke-width="3.2" stroke-linecap="round"/><path d="M808.0,1368.0 Q818.4,1375.3 828.7,1382.6" fill="none" stroke="#a6d42c" stroke-width="3.2" stroke-linecap="round"/><ellipse cx="805.7" cy="1380.6" rx="6.9" ry="5.3" transform="rotate(98 805.7 1380.6)" fill="#1e9a16"/><ellipse cx="788.4" cy="1371.0" rx="7.1" ry="5.2" transform="rotate(169 788.4 1371.0)" fill="#23a81a"/><ellipse cx="807.3" cy="1347.2" rx="5.6" ry="4.2" transform="rotate(268 807.3 1347.2)" fill="#17900f"/><ellipse cx="822.1" cy="1353.6" rx="6.8" ry="5.6" transform="rotate(308 822.1 1353.6)" fill="#23a81a"/><ellipse cx="828.7" cy="1382.6" rx="7.2" ry="5.7" transform="rotate(401 828.7 1382.6)" fill="#2fb21f"/><path d="M828.0,1374.0 Q822.2,1378.6 814.7,1376.8" fill="none" stroke="#a6d42c" stroke-width="2.9" stroke-linecap="round"/><path d="M828.0,1374.0 Q818.4,1370.6 816.4,1361.6" fill="none" stroke="#a6d42c" stroke-width="2.9" stroke-linecap="round"/><path d="M828.0,1374.0 Q831.8,1367.3 833.5,1359.9" fill="none" stroke="#a6d42c" stroke-width="2.9" stroke-linecap="round"/><path d="M828.0,1374.0 Q838.7,1369.1 845.1,1360.0" fill="none" stroke="#a6d42c" stroke-width="2.9" stroke-linecap="round"/><path d="M828.0,1374.0 Q840.0,1369.6 850.8,1375.9" fill="none" stroke="#a6d42c" stroke-width="2.9" stroke-linecap="round"/><path d="M828.0,1374.0 Q828.0,1380.2 830.1,1386.1" fill="none" stroke="#a6d42c" stroke-width="2.9" stroke-linecap="round"/><path d="M828.0,1374.0 Q827.2,1379.7 826.3,1385.4" fill="none" stroke="#a6d42c" stroke-width="2.9" stroke-linecap="round"/><ellipse cx="814.7" cy="1376.8" rx="7.5" ry="6.4" transform="rotate(165 814.7 1376.8)" fill="#17900f"/><ellipse cx="816.4" cy="1361.6" rx="7.2" ry="6.6" transform="rotate(233 816.4 1361.6)" fill="#23a81a"/><ellipse cx="833.5" cy="1359.9" rx="5.0" ry="3.8" transform="rotate(287 833.5 1359.9)" fill="#3cb428"/><ellipse cx="845.1" cy="1360.0" rx="5.8" ry="5.2" transform="rotate(314 845.1 1360.0)" fill="#1e9a16"/><ellipse cx="850.8" cy="1375.9" rx="7.4" ry="6.3" transform="rotate(366 850.8 1375.9)" fill="#2fb21f"/><ellipse cx="830.1" cy="1386.1" rx="7.0" ry="6.2" transform="rotate(442 830.1 1386.1)" fill="#23a81a"/><ellipse cx="826.3" cy="1385.4" rx="5.6" ry="4.3" transform="rotate(457 826.3 1385.4)" fill="#3cb428"/><path d="M1040.0,1337.0 Q1041.3,1347.4 1050.6,1353.8" fill="none" stroke="#a6d42c" stroke-width="2.9" stroke-linecap="round"/><path d="M1040.0,1337.0 Q1032.1,1341.3 1028.1,1348.7" fill="none" stroke="#a6d42c" stroke-width="2.9" stroke-linecap="round"/><path d="M1040.0,1337.0 Q1026.8,1334.1 1013.6,1330.9" fill="none" stroke="#a6d42c" stroke-width="2.9" stroke-linecap="round"/><path d="M1040.0,1337.0 Q1040.8,1330.0 1047.7,1326.6" fill="none" stroke="#a6d42c" stroke-width="2.9" stroke-linecap="round"/><path d="M1040.0,1337.0 Q1054.4,1337.9 1068.2,1341.5" fill="none" stroke="#a6d42c" stroke-width="2.9" stroke-linecap="round"/><ellipse cx="1050.6" cy="1353.8" rx="5.6" ry="4.4" transform="rotate(63 1050.6 1353.8)" fill="#2fb21f"/><ellipse cx="1028.1" cy="1348.7" rx="6.8" ry="5.1" transform="rotate(129 1028.1 1348.7)" fill="#2fb21f"/><ellipse cx="1013.6" cy="1330.9" rx="5.4" ry="4.0" transform="rotate(196 1013.6 1330.9)" fill="#3cb428"/><ellipse cx="1047.7" cy="1326.6" rx="5.1" ry="3.7" transform="rotate(301 1047.7 1326.6)" fill="#23a81a"/><ellipse cx="1068.2" cy="1341.5" rx="7.5" ry="5.9" transform="rotate(371 1068.2 1341.5)" fill="#3cb428"/><path d="M1080.0,1347.0 Q1083.0,1356.0 1093.0,1359.1" fill="none" stroke="#a6d42c" stroke-width="2.9" stroke-linecap="round"/><path d="M1080.0,1347.0 Q1074.4,1354.5 1064.7,1357.1" fill="none" stroke="#a6d42c" stroke-width="2.9" stroke-linecap="round"/><path d="M1080.0,1347.0 Q1067.9,1341.0 1054.5,1344.3" fill="none" stroke="#a6d42c" stroke-width="2.9" stroke-linecap="round"/><path d="M1080.0,1347.0 Q1082.0,1334.9 1074.2,1324.9" fill="none" stroke="#a6d42c" stroke-width="2.9" stroke-linecap="round"/><path d="M1080.0,1347.0 Q1085.6,1342.7 1089.3,1336.8" fill="none" stroke="#a6d42c" stroke-width="2.9" stroke-linecap="round"/><path d="M1080.0,1347.0 Q1086.7,1345.1 1093.6,1344.7" fill="none" stroke="#a6d42c" stroke-width="2.9" stroke-linecap="round"/><ellipse cx="1093.0" cy="1359.1" rx="6.1" ry="4.8" transform="rotate(49 1093.0 1359.1)" fill="#2fb21f"/><ellipse cx="1064.7" cy="1357.1" rx="7.6" ry="6.5" transform="rotate(140 1064.7 1357.1)" fill="#3cb428"/><ellipse cx="1054.5" cy="1344.3" rx="6.6" ry="5.8" transform="rotate(188 1054.5 1344.3)" fill="#3cb428"/><ellipse cx="1074.2" cy="1324.9" rx="8.1" ry="7.6" transform="rotate(258 1074.2 1324.9)" fill="#23a81a"/><ellipse cx="1089.3" cy="1336.8" rx="7.4" ry="5.3" transform="rotate(306 1089.3 1336.8)" fill="#3cb428"/><ellipse cx="1093.6" cy="1344.7" rx="6.4" ry="5.8" transform="rotate(348 1093.6 1344.7)" fill="#2fb21f"/>

</g></g>
<rect x="627.95" y="1274.75" width="571.30" height="626.70" fill="none" stroke="#263654" stroke-width="1.5" opacity="0.55"/>
<text x="732.8" y="1879.7" font-size="50.00" font-weight="bold" fill="#fff" stroke="#fff" stroke-width="0.7">175 mM Mannitol</text>
<rect x="1169.5" y="1800" width="11.3" height="81.0" fill="#fff"/>
<clipPath id="cp7"><rect x="626.4" y="1921.5" width="570.1999999999999" height="459.1999999999998"/></clipPath>
<g clip-path="url(#cp7)"><g filter="url(#soft)">
<rect x="626.4" y="1921.5" width="570.1999999999999" height="459.1999999999998" fill="#375489"/>
<linearGradient id="lg7" x1="0" y1="0" x2="0" y2="1"><stop offset="0" stop-color="#3e6070" stop-opacity="0.3"/><stop offset="0.3" stop-color="#3e6070" stop-opacity="0.0"/><stop offset="1" stop-color="#3e6070" stop-opacity="0"/></linearGradient>
<rect x="626.4" y="1921.5" width="570.1999999999999" height="459.1999999999998" fill="url(#lg7)"/>
<rect x="626.4" y="1921.5" width="570.1999999999999" height="459.1999999999998" filter="url(#mtA)" opacity="0.35"/>
<rect x="626.4" y="1921.5" width="570.1999999999999" height="459.1999999999998" filter="url(#mtB)" opacity="0.25"/>
<rect x="641.6" y="1921.5" width="8" height="459.1999999999998" fill="#a8a4ac" opacity="0.2"/>
<rect x="644.1" y="1921.5" width="3" height="459.1999999999998" fill="#d8d0c8" opacity="0.2"/>
<rect x="778.6" y="1921.5" width="8" height="459.1999999999998" fill="#a8a4ac" opacity="0.2"/>
<rect x="781.1" y="1921.5" width="3" height="459.1999999999998" fill="#d8d0c8" opacity="0.2"/>
<rect x="914.0" y="1921.5" width="8" height="459.1999999999998" fill="#a8a4ac" opacity="0.2"/>
<rect x="916.5" y="1921.5" width="3" height="459.1999999999998" fill="#d8d0c8" opacity="0.2"/>
<rect x="1049.6" y="1921.5" width="8" height="459.1999999999998" fill="#a8a4ac" opacity="0.2"/>
<rect x="1052.1" y="1921.5" width="3" height="459.1999999999998" fill="#d8d0c8" opacity="0.2"/>
<rect x="1185.0" y="1921.5" width="8" height="459.1999999999998" fill="#a8a4ac" opacity="0.2"/>
<rect x="1187.5" y="1921.5" width="3" height="459.1999999999998" fill="#d8d0c8" opacity="0.2"/>
<rect x="626.4" y="1987.3" width="570.1999999999999" height="3" fill="#a8a0a8" opacity="0.13"/>
<rect x="626.4" y="2124.3" width="570.1999999999999" height="3" fill="#a8a0a8" opacity="0.13"/>
<rect x="626.4" y="2262.8" width="570.1999999999999" height="3" fill="#a8a0a8" opacity="0.13"/>

<path d="M656.1,1987.3 L663.3,2002.6 L666.0,2016.6 L667.1,2029.3 L667.1,2041.4 L668.1,2053.5 L668.9,2065.5 L669.6,2077.6 L669.0,2089.6 L667.4,2101.7 L666.7,2113.7 L667.4,2125.7 L668.6,2137.8 L668.5,2149.8 L668.8,2161.9 L668.0,2173.9 L667.9,2186.0 L666.5,2198.0 L667.7,2210.0 L668.0,2222.1 L666.4,2234.1 L667.2,2246.2 L666.9,2258.2 L667.2,2270.3 L666.2,2282.3 L667.0,2294.4 L666.7,2306.4" fill="none" stroke="#d0d0c8" stroke-width="2.3" stroke-linecap="round" stroke-linejoin="round" opacity="0.68"/>
<path d="M713.3,2002.3 L714.5,2014.4 L714.2,2026.5 L714.5,2038.6 L715.2,2050.7 L715.2,2062.8 L715.5,2075.0 L714.1,2087.1 L713.2,2099.2 L714.7,2111.3 L713.3,2123.4 L712.9,2135.5 L714.1,2147.6 L715.3,2159.7 L716.1,2171.8 L716.2,2183.9 L714.4,2196.0 L715.2,2208.1 L713.9,2220.3 L713.3,2232.4 L714.0,2244.5 L714.2,2256.6 L713.8,2268.7 L714.9,2280.8" fill="none" stroke="#d0d0c8" stroke-width="2.3" stroke-linecap="round" stroke-linejoin="round" opacity="0.68"/>
<path d="M743.5,1984.3 L744.3,1996.8 L744.7,2009.3 L743.7,2021.8 L742.3,2034.3 L741.4,2046.8 L741.5,2059.3 L742.4,2071.8 L742.3,2084.3 L742.1,2096.8 L742.7,2109.3 L741.7,2121.8 L742.4,2134.3 L742.7,2146.8 L741.2,2159.3 L741.6,2171.8 L742.4,2184.3 L742.5,2196.8 L742.5,2209.3 L742.9,2221.8 L742.9,2234.3 L743.0,2246.8 L741.1,2259.3 L740.4,2271.8" fill="none" stroke="#d0d0c8" stroke-width="2.3" stroke-linecap="round" stroke-linejoin="round" opacity="0.68"/>
<path d="M800.7,1987.3 L799.9,1999.4 L801.5,2011.5 L802.3,2023.6 L802.0,2035.7 L802.6,2047.8 L803.2,2059.9 L802.5,2072.0 L802.1,2084.1 L803.7,2096.2 L803.4,2108.3 L803.3,2120.4 L803.1,2132.5 L805.1,2144.7 L805.1,2156.8 L804.8,2168.9 L805.0,2181.0 L805.3,2193.1 L806.1,2205.2 L806.3,2217.3 L807.0,2229.4 L807.6,2241.5 L808.5,2253.6 L809.1,2265.7 L808.8,2277.8 L809.7,2289.9" fill="none" stroke="#d0d0c8" stroke-width="2.3" stroke-linecap="round" stroke-linejoin="round" opacity="0.68"/>
<path d="M836.8,1990.3 L837.7,2002.5 L837.3,2014.7 L838.3,2026.9 L839.2,2039.0 L839.3,2051.2 L839.8,2063.4 L838.9,2075.6 L839.7,2087.8 L838.9,2100.0 L839.5,2112.2 L840.2,2124.3 L839.3,2136.5 L839.9,2148.7 L840.4,2160.9 L841.2,2173.1 L840.9,2185.3 L841.3,2197.5 L842.1,2209.6 L842.6,2221.8 L841.7,2234.0 L841.3,2246.2" fill="none" stroke="#d0d0c8" stroke-width="2.3" stroke-linecap="round" stroke-linejoin="round" opacity="0.68"/>
<path d="M869.9,1987.3 L870.1,1999.5 L869.8,2011.8 L870.3,2024.0 L870.3,2036.3 L870.7,2048.6 L872.2,2060.8 L872.1,2073.1 L871.7,2085.3 L872.1,2097.6 L871.9,2109.8 L872.1,2122.1 L873.9,2134.3 L873.0,2146.6 L873.9,2158.8 L873.7,2171.1 L875.1,2183.3 L875.0,2195.6 L875.9,2207.8 L874.7,2220.1 L874.2,2232.3 L876.1,2244.6 L876.0,2256.8" fill="none" stroke="#d0d0c8" stroke-width="2.3" stroke-linecap="round" stroke-linejoin="round" opacity="0.68"/>
<path d="M933.2,1978.2 L933.9,1990.2 L935.3,2002.3 L935.9,2014.3 L937.6,2026.4 L938.7,2038.4 L939.0,2050.5 L940.7,2062.5 L941.6,2074.6 L942.9,2086.6 L941.9,2098.7 L943.5,2110.7 L943.9,2122.8 L945.8,2134.8 L945.6,2146.9 L945.6,2158.9 L947.2,2171.0 L948.2,2183.0" fill="none" stroke="#d0d0c8" stroke-width="2.3" stroke-linecap="round" stroke-linejoin="round" opacity="0.68"/>
<path d="M979.8,1981.2 L980.4,1993.7 L980.7,2006.2 L980.1,2018.8 L979.9,2031.3 L980.0,2043.8 L981.5,2056.3 L981.2,2068.8 L982.5,2081.4 L982.4,2093.9 L983.9,2106.4 L983.8,2118.9 L984.5,2131.5 L984.4,2144.0 L985.7,2156.5 L986.6,2169.0 L986.7,2181.5 L985.7,2194.1 L987.5,2206.6 L987.4,2219.1" fill="none" stroke="#d0d0c8" stroke-width="2.3" stroke-linecap="round" stroke-linejoin="round" opacity="0.68"/>
<path d="M1011.4,1981.2 L1012.9,1993.6 L1013.6,2006.1 L1013.0,2018.5 L1012.3,2031.0 L1013.3,2043.4 L1012.8,2055.9 L1014.0,2068.3 L1014.3,2080.7 L1014.6,2093.2 L1014.7,2105.6 L1015.4,2118.1 L1014.5,2130.5 L1014.7,2142.9 L1016.2,2155.4 L1016.5,2167.8 L1017.0,2180.3 L1018.1,2192.7 L1016.9,2205.2 L1017.5,2217.6" fill="none" stroke="#d0d0c8" stroke-width="2.3" stroke-linecap="round" stroke-linejoin="round" opacity="0.68"/>
<path d="M1079.2,1975.2 L1080.0,1987.5 L1080.5,1999.9 L1079.6,2012.2 L1079.0,2024.5 L1078.2,2036.9 L1079.7,2049.2 L1078.7,2061.5 L1080.3,2073.9 L1079.2,2086.2 L1080.4,2098.5 L1080.6,2110.9 L1079.6,2123.2 L1079.0,2135.5 L1080.5,2147.9 L1081.2,2160.2 L1080.3,2172.5 L1080.7,2184.9 L1081.3,2197.2 L1081.6,2209.5 L1080.3,2221.9 L1080.7,2234.2" fill="none" stroke="#d0d0c8" stroke-width="2.3" stroke-linecap="round" stroke-linejoin="round" opacity="0.68"/>
<path d="M1121.4,1984.3 L1120.8,1996.8 L1121.6,2009.4 L1121.3,2021.9 L1121.2,2034.5 L1121.9,2047.0 L1122.0,2059.6 L1122.7,2072.1 L1124.0,2084.6 L1123.1,2097.2 L1123.6,2109.7 L1123.2,2122.3 L1124.7,2134.8 L1124.0,2147.4 L1124.9,2159.9 L1124.6,2172.4 L1125.4,2185.0 L1125.1,2197.5 L1126.8,2210.1 L1127.0,2222.6 L1127.5,2235.2 L1127.4,2247.7" fill="none" stroke="#d0d0c8" stroke-width="2.3" stroke-linecap="round" stroke-linejoin="round" opacity="0.68"/>
<path d="M1166.5,1981.2 L1167.8,1993.5 L1167.9,2005.8 L1166.8,2018.1 L1166.2,2030.3 L1166.8,2042.6 L1168.8,2054.9 L1169.2,2067.2 L1169.7,2079.5 L1168.6,2091.8 L1169.0,2104.0 L1169.0,2116.3 L1168.8,2128.6 L1170.3,2140.9 L1171.7,2153.2 L1172.6,2165.5 L1172.3,2177.7 L1171.5,2190.0 L1172.9,2202.3 L1172.5,2214.6" fill="none" stroke="#d0d0c8" stroke-width="2.3" stroke-linecap="round" stroke-linejoin="round" opacity="0.68"/>
<path d="M656.1,1987.3 L657.5,1974.2" stroke="#b8dc30" stroke-width="3.0" fill="none" stroke-linecap="round"/><path d="M713.3,2002.3 L711.6,1982.8" stroke="#b8dc30" stroke-width="3.0" fill="none" stroke-linecap="round"/><path d="M743.5,1984.3 L740.3,1969.7" stroke="#b8dc30" stroke-width="3.0" fill="none" stroke-linecap="round"/><path d="M800.7,1987.3 L798.7,1971.0" stroke="#b8dc30" stroke-width="3.0" fill="none" stroke-linecap="round"/><path d="M836.8,1990.3 L833.1,1975.5" stroke="#b8dc30" stroke-width="3.0" fill="none" stroke-linecap="round"/><path d="M869.9,1987.3 L867.8,1973.0" stroke="#b8dc30" stroke-width="3.0" fill="none" stroke-linecap="round"/><path d="M933.2,1978.2 L930.2,1965.5" stroke="#b8dc30" stroke-width="3.0" fill="none" stroke-linecap="round"/><path d="M979.8,1981.2 L977.7,1960.8" stroke="#b8dc30" stroke-width="3.0" fill="none" stroke-linecap="round"/><path d="M1011.4,1981.2 L1009.2,1963.6" stroke="#b8dc30" stroke-width="3.0" fill="none" stroke-linecap="round"/><path d="M1079.2,1975.2 L1082.1,1958.5" stroke="#b8dc30" stroke-width="3.0" fill="none" stroke-linecap="round"/><path d="M1121.4,1984.3 L1118.0,1967.6" stroke="#b8dc30" stroke-width="3.0" fill="none" stroke-linecap="round"/><path d="M1166.5,1981.2 L1166.0,1969.3" stroke="#b8dc30" stroke-width="3.0" fill="none" stroke-linecap="round"/><path d="M657.5,1974.2 Q663.9,1975.4 667.8,1980.4" fill="none" stroke="#b8dc30" stroke-width="3.0" stroke-linecap="round"/><path d="M657.5,1974.2 Q657.2,1980.1 661.0,1984.8" fill="none" stroke="#b8dc30" stroke-width="3.0" stroke-linecap="round"/><path d="M657.5,1974.2 Q649.0,1976.9 640.7,1973.9" fill="none" stroke="#b8dc30" stroke-width="3.0" stroke-linecap="round"/><path d="M657.5,1974.2 Q651.4,1968.9 649.5,1961.3" fill="none" stroke="#b8dc30" stroke-width="3.0" stroke-linecap="round"/><path d="M657.5,1974.2 Q660.3,1969.4 665.8,1967.6" fill="none" stroke="#b8dc30" stroke-width="3.0" stroke-linecap="round"/><ellipse cx="667.8" cy="1980.4" rx="5.8" ry="5.0" transform="rotate(34 667.8 1980.4)" fill="#7cc822"/><ellipse cx="661.0" cy="1984.8" rx="6.4" ry="5.7" transform="rotate(73 661.0 1984.8)" fill="#4cb81c"/><ellipse cx="640.7" cy="1973.9" rx="5.4" ry="4.4" transform="rotate(181 640.7 1973.9)" fill="#4cb81c"/><ellipse cx="649.5" cy="1961.3" rx="6.5" ry="4.9" transform="rotate(241 649.5 1961.3)" fill="#6ec820"/><ellipse cx="665.8" cy="1967.6" rx="7.0" ry="5.3" transform="rotate(318 665.8 1967.6)" fill="#6ec820"/><path d="M711.6,1982.8 Q717.5,1978.8 717.5,1972.0" fill="none" stroke="#b8dc30" stroke-width="3.0" stroke-linecap="round"/><path d="M711.6,1982.8 Q717.0,1986.1 723.3,1985.6" fill="none" stroke="#b8dc30" stroke-width="3.0" stroke-linecap="round"/><path d="M711.6,1982.8 Q711.6,1990.8 717.3,1996.8" fill="none" stroke="#b8dc30" stroke-width="3.0" stroke-linecap="round"/><path d="M711.6,1982.8 Q703.2,1985.5 695.7,1990.2" fill="none" stroke="#b8dc30" stroke-width="3.0" stroke-linecap="round"/><path d="M711.6,1982.8 Q705.3,1980.3 701.1,1975.2" fill="none" stroke="#b8dc30" stroke-width="3.0" stroke-linecap="round"/><ellipse cx="717.5" cy="1972.0" rx="6.9" ry="5.4" transform="rotate(296 717.5 1972.0)" fill="#6ec820"/><ellipse cx="723.3" cy="1985.6" rx="7.0" ry="5.4" transform="rotate(375 723.3 1985.6)" fill="#9ad428"/><ellipse cx="717.3" cy="1996.8" rx="5.7" ry="4.6" transform="rotate(430 717.3 1996.8)" fill="#9ad428"/><ellipse cx="695.7" cy="1990.2" rx="7.2" ry="5.4" transform="rotate(513 695.7 1990.2)" fill="#7cc822"/><ellipse cx="701.1" cy="1975.2" rx="6.3" ry="5.1" transform="rotate(579 701.1 1975.2)" fill="#9ad428"/><path d="M740.3,1969.7 Q745.0,1964.8 750.6,1960.9" fill="none" stroke="#b8dc30" stroke-width="3.0" stroke-linecap="round"/><path d="M740.3,1969.7 Q745.9,1976.7 755.0,1978.1" fill="none" stroke="#b8dc30" stroke-width="3.0" stroke-linecap="round"/><path d="M740.3,1969.7 Q730.5,1969.8 724.8,1977.3" fill="none" stroke="#b8dc30" stroke-width="3.0" stroke-linecap="round"/><path d="M740.3,1969.7 Q734.8,1962.9 725.9,1961.6" fill="none" stroke="#b8dc30" stroke-width="3.0" stroke-linecap="round"/><ellipse cx="750.6" cy="1960.9" rx="6.0" ry="5.3" transform="rotate(316 750.6 1960.9)" fill="#9ad428"/><ellipse cx="755.0" cy="1978.1" rx="5.4" ry="4.9" transform="rotate(392 755.0 1978.1)" fill="#7cc822"/><ellipse cx="724.8" cy="1977.3" rx="5.1" ry="4.2" transform="rotate(511 724.8 1977.3)" fill="#4cb81c"/><ellipse cx="725.9" cy="1961.6" rx="6.9" ry="6.0" transform="rotate(572 725.9 1961.6)" fill="#7cc822"/><path d="M798.7,1971.0 Q802.0,1962.8 809.9,1958.1" fill="none" stroke="#b8dc30" stroke-width="3.0" stroke-linecap="round"/><path d="M798.7,1971.0 Q804.2,1973.2 810.1,1972.2" fill="none" stroke="#b8dc30" stroke-width="3.0" stroke-linecap="round"/><path d="M798.7,1971.0 Q799.2,1979.4 792.3,1984.7" fill="none" stroke="#b8dc30" stroke-width="3.0" stroke-linecap="round"/><path d="M798.7,1971.0 Q793.3,1969.0 789.0,1965.2" fill="none" stroke="#b8dc30" stroke-width="3.0" stroke-linecap="round"/><ellipse cx="809.9" cy="1958.1" rx="6.3" ry="4.6" transform="rotate(308 809.9 1958.1)" fill="#4cb81c"/><ellipse cx="810.1" cy="1972.2" rx="6.5" ry="5.1" transform="rotate(367 810.1 1972.2)" fill="#7cc822"/><ellipse cx="792.3" cy="1984.7" rx="5.4" ry="4.4" transform="rotate(473 792.3 1984.7)" fill="#7cc822"/><ellipse cx="789.0" cy="1965.2" rx="5.9" ry="5.4" transform="rotate(573 789.0 1965.2)" fill="#4cb81c"/><path d="M833.1,1975.5 Q833.5,1984.0 828.4,1991.1" fill="none" stroke="#b8dc30" stroke-width="3.0" stroke-linecap="round"/><path d="M833.1,1975.5 Q825.1,1976.2 819.8,1970.4" fill="none" stroke="#b8dc30" stroke-width="3.0" stroke-linecap="round"/><path d="M833.1,1975.5 Q831.5,1966.7 832.2,1957.8" fill="none" stroke="#b8dc30" stroke-width="3.0" stroke-linecap="round"/><path d="M833.1,1975.5 Q840.9,1978.2 848.9,1980.2" fill="none" stroke="#b8dc30" stroke-width="3.0" stroke-linecap="round"/><ellipse cx="828.4" cy="1991.1" rx="5.2" ry="4.9" transform="rotate(105 828.4 1991.1)" fill="#7cc822"/><ellipse cx="819.8" cy="1970.4" rx="5.5" ry="4.6" transform="rotate(203 819.8 1970.4)" fill="#4cb81c"/><ellipse cx="832.2" cy="1957.8" rx="5.1" ry="4.4" transform="rotate(267 832.2 1957.8)" fill="#6ec820"/><ellipse cx="848.9" cy="1980.2" rx="6.1" ry="4.7" transform="rotate(379 848.9 1980.2)" fill="#7cc822"/><path d="M867.8,1973.0 Q877.2,1971.2 885.5,1975.8" fill="none" stroke="#b8dc30" stroke-width="3.0" stroke-linecap="round"/><path d="M867.8,1973.0 Q862.5,1977.1 861.3,1983.5" fill="none" stroke="#b8dc30" stroke-width="3.0" stroke-linecap="round"/><path d="M867.8,1973.0 Q860.9,1966.9 851.4,1966.9" fill="none" stroke="#b8dc30" stroke-width="3.0" stroke-linecap="round"/><path d="M867.8,1973.0 Q868.0,1966.9 868.9,1960.9" fill="none" stroke="#b8dc30" stroke-width="3.0" stroke-linecap="round"/><ellipse cx="885.5" cy="1975.8" rx="5.7" ry="4.1" transform="rotate(10 885.5 1975.8)" fill="#6ec820"/><ellipse cx="861.3" cy="1983.5" rx="6.2" ry="4.6" transform="rotate(119 861.3 1983.5)" fill="#6ec820"/><ellipse cx="851.4" cy="1966.9" rx="5.2" ry="4.8" transform="rotate(202 851.4 1966.9)" fill="#9ad428"/><ellipse cx="868.9" cy="1960.9" rx="7.1" ry="6.0" transform="rotate(275 868.9 1960.9)" fill="#4cb81c"/><path d="M930.2,1965.5 Q937.5,1971.1 940.6,1979.5" fill="none" stroke="#b8dc30" stroke-width="3.0" stroke-linecap="round"/><path d="M930.2,1965.5 Q926.8,1971.2 923.9,1977.1" fill="none" stroke="#b8dc30" stroke-width="3.0" stroke-linecap="round"/><path d="M930.2,1965.5 Q923.1,1961.1 914.9,1959.1" fill="none" stroke="#b8dc30" stroke-width="3.0" stroke-linecap="round"/><path d="M930.2,1965.5 Q934.2,1957.6 940.4,1951.1" fill="none" stroke="#b8dc30" stroke-width="3.0" stroke-linecap="round"/><ellipse cx="940.6" cy="1979.5" rx="6.2" ry="5.8" transform="rotate(56 940.6 1979.5)" fill="#6ec820"/><ellipse cx="923.9" cy="1977.1" rx="5.3" ry="4.9" transform="rotate(116 923.9 1977.1)" fill="#4cb81c"/><ellipse cx="914.9" cy="1959.1" rx="5.2" ry="4.3" transform="rotate(205 914.9 1959.1)" fill="#6ec820"/><ellipse cx="940.4" cy="1951.1" rx="7.3" ry="5.8" transform="rotate(303 940.4 1951.1)" fill="#9ad428"/><path d="M977.7,1960.8 Q973.1,1954.9 969.3,1948.7" fill="none" stroke="#b8dc30" stroke-width="3.0" stroke-linecap="round"/><path d="M977.7,1960.8 Q984.5,1960.3 991.3,1961.0" fill="none" stroke="#b8dc30" stroke-width="3.0" stroke-linecap="round"/><path d="M977.7,1960.8 Q979.0,1969.8 987.4,1974.3" fill="none" stroke="#b8dc30" stroke-width="3.0" stroke-linecap="round"/><path d="M977.7,1960.8 Q968.5,1964.0 959.2,1961.2" fill="none" stroke="#b8dc30" stroke-width="3.0" stroke-linecap="round"/><ellipse cx="969.3" cy="1948.7" rx="5.8" ry="4.7" transform="rotate(238 969.3 1948.7)" fill="#6ec820"/><ellipse cx="991.3" cy="1961.0" rx="6.4" ry="5.1" transform="rotate(361 991.3 1961.0)" fill="#6ec820"/><ellipse cx="987.4" cy="1974.3" rx="6.8" ry="6.1" transform="rotate(417 987.4 1974.3)" fill="#4cb81c"/><ellipse cx="959.2" cy="1961.2" rx="6.4" ry="4.8" transform="rotate(539 959.2 1961.2)" fill="#4cb81c"/><path d="M1009.2,1963.6 Q1000.8,1960.4 998.1,1952.2" fill="none" stroke="#b8dc30" stroke-width="3.0" stroke-linecap="round"/><path d="M1009.2,1963.6 Q1016.1,1959.4 1021.4,1953.4" fill="none" stroke="#b8dc30" stroke-width="3.0" stroke-linecap="round"/><path d="M1009.2,1963.6 Q1018.0,1966.4 1020.6,1974.9" fill="none" stroke="#b8dc30" stroke-width="3.0" stroke-linecap="round"/><path d="M1009.2,1963.6 Q1009.4,1969.9 1009.4,1976.1" fill="none" stroke="#b8dc30" stroke-width="3.0" stroke-linecap="round"/><path d="M1009.2,1963.6 Q1003.6,1967.6 996.6,1967.1" fill="none" stroke="#b8dc30" stroke-width="3.0" stroke-linecap="round"/><ellipse cx="998.1" cy="1952.2" rx="6.0" ry="5.3" transform="rotate(229 998.1 1952.2)" fill="#7cc822"/><ellipse cx="1021.4" cy="1953.4" rx="5.9" ry="4.3" transform="rotate(317 1021.4 1953.4)" fill="#7cc822"/><ellipse cx="1020.6" cy="1974.9" rx="6.1" ry="4.4" transform="rotate(408 1020.6 1974.9)" fill="#6ec820"/><ellipse cx="1009.4" cy="1976.1" rx="7.4" ry="6.0" transform="rotate(449 1009.4 1976.1)" fill="#6ec820"/><ellipse cx="996.6" cy="1967.1" rx="6.2" ry="4.6" transform="rotate(523 996.6 1967.1)" fill="#6ec820"/><path d="M1082.1,1958.5 Q1077.1,1955.0 1071.0,1954.0" fill="none" stroke="#b8dc30" stroke-width="3.0" stroke-linecap="round"/><path d="M1082.1,1958.5 Q1085.4,1950.3 1090.2,1942.8" fill="none" stroke="#b8dc30" stroke-width="3.0" stroke-linecap="round"/><path d="M1082.1,1958.5 Q1087.7,1958.8 1093.4,1958.5" fill="none" stroke="#b8dc30" stroke-width="3.0" stroke-linecap="round"/><path d="M1082.1,1958.5 Q1088.9,1961.3 1092.0,1967.6" fill="none" stroke="#b8dc30" stroke-width="3.0" stroke-linecap="round"/><path d="M1082.1,1958.5 Q1076.4,1963.9 1075.4,1971.4" fill="none" stroke="#b8dc30" stroke-width="3.0" stroke-linecap="round"/><ellipse cx="1071.0" cy="1954.0" rx="5.4" ry="4.3" transform="rotate(205 1071.0 1954.0)" fill="#4cb81c"/><ellipse cx="1090.2" cy="1942.8" rx="5.4" ry="4.3" transform="rotate(295 1090.2 1942.8)" fill="#6ec820"/><ellipse cx="1093.4" cy="1958.5" rx="5.3" ry="3.8" transform="rotate(360 1093.4 1958.5)" fill="#4cb81c"/><ellipse cx="1092.0" cy="1967.6" rx="6.7" ry="5.6" transform="rotate(405 1092.0 1967.6)" fill="#4cb81c"/><ellipse cx="1075.4" cy="1971.4" rx="7.4" ry="6.7" transform="rotate(475 1075.4 1971.4)" fill="#4cb81c"/><path d="M1118.0,1967.6 Q1112.0,1970.9 1107.8,1976.2" fill="none" stroke="#b8dc30" stroke-width="3.0" stroke-linecap="round"/><path d="M1118.0,1967.6 Q1114.1,1961.9 1110.4,1956.1" fill="none" stroke="#b8dc30" stroke-width="3.0" stroke-linecap="round"/><path d="M1118.0,1967.6 Q1127.5,1967.0 1135.4,1962.1" fill="none" stroke="#b8dc30" stroke-width="3.0" stroke-linecap="round"/><path d="M1118.0,1967.6 Q1121.4,1971.8 1126.2,1974.7" fill="none" stroke="#b8dc30" stroke-width="3.0" stroke-linecap="round"/><ellipse cx="1107.8" cy="1976.2" rx="6.6" ry="6.2" transform="rotate(137 1107.8 1976.2)" fill="#4cb81c"/><ellipse cx="1110.4" cy="1956.1" rx="7.1" ry="6.3" transform="rotate(239 1110.4 1956.1)" fill="#6ec820"/><ellipse cx="1135.4" cy="1962.1" rx="5.7" ry="5.2" transform="rotate(341 1135.4 1962.1)" fill="#6ec820"/><ellipse cx="1126.2" cy="1974.7" rx="6.8" ry="6.3" transform="rotate(404 1126.2 1974.7)" fill="#7cc822"/><path d="M1166.0,1969.3 Q1168.8,1963.4 1173.2,1958.6" fill="none" stroke="#b8dc30" stroke-width="3.0" stroke-linecap="round"/><path d="M1166.0,1969.3 Q1169.7,1974.5 1175.6,1977.5" fill="none" stroke="#b8dc30" stroke-width="3.0" stroke-linecap="round"/><path d="M1166.0,1969.3 Q1156.2,1972.2 1150.8,1980.5" fill="none" stroke="#b8dc30" stroke-width="3.0" stroke-linecap="round"/><path d="M1166.0,1969.3 Q1159.4,1965.9 1152.4,1963.3" fill="none" stroke="#b8dc30" stroke-width="3.0" stroke-linecap="round"/><ellipse cx="1173.2" cy="1958.6" rx="6.6" ry="6.1" transform="rotate(301 1173.2 1958.6)" fill="#6ec820"/><ellipse cx="1175.6" cy="1977.5" rx="7.4" ry="5.9" transform="rotate(404 1175.6 1977.5)" fill="#7cc822"/><ellipse cx="1150.8" cy="1980.5" rx="5.3" ry="4.1" transform="rotate(501 1150.8 1980.5)" fill="#9ad428"/><ellipse cx="1152.4" cy="1963.3" rx="5.6" ry="4.7" transform="rotate(566 1152.4 1963.3)" fill="#9ad428"/>

</g></g>
<rect x="627.15" y="1922.25" width="568.70" height="457.70" fill="none" stroke="#263654" stroke-width="1.5" opacity="0.55"/>
<text x="724.8" y="2366.2" font-size="50.00" font-weight="bold" fill="#fff" stroke="#fff" stroke-width="0.7">200 mM Mannitol</text>
<rect x="1169.5" y="2277" width="11.3" height="81.0" fill="#fff"/>
<rect x="1471.7" y="248.0" width="46.6" height="430.9" fill="#2781c1" stroke="#263240" stroke-width="1.8"/>
<line x1="1495.0" y1="221.4" x2="1495.0" y2="272.8" stroke="#111" stroke-width="2.6"/>
<line x1="1491.8" y1="221.4" x2="1498.2" y2="221.4" stroke="#111" stroke-width="1.8"/>
<line x1="1491.8" y1="272.8" x2="1498.2" y2="272.8" stroke="#111" stroke-width="1.8"/>
<rect x="1523.1" y="332.7" width="46.6" height="346.2" fill="#ff6c00" stroke="#3c2c24" stroke-width="1.8"/>
<line x1="1546.4" y1="319.3" x2="1546.4" y2="344.3" stroke="#111" stroke-width="2.6"/>
<line x1="1543.2" y1="319.3" x2="1549.6" y2="319.3" stroke="#111" stroke-width="1.8"/>
<line x1="1543.2" y1="344.3" x2="1549.6" y2="344.3" stroke="#111" stroke-width="1.8"/>
<rect x="1610.4" y="337.2" width="46.6" height="341.7" fill="#2781c1" stroke="#263240" stroke-width="1.8"/>
<line x1="1633.7" y1="326.7" x2="1633.7" y2="345.9" stroke="#111" stroke-width="2.6"/>
<line x1="1630.5" y1="326.7" x2="1636.9" y2="326.7" stroke="#111" stroke-width="1.8"/>
<line x1="1630.5" y1="345.9" x2="1636.9" y2="345.9" stroke="#111" stroke-width="1.8"/>
<rect x="1661.8" y="363.5" width="46.6" height="315.4" fill="#ff6c00" stroke="#3c2c24" stroke-width="1.8"/>
<line x1="1685.1" y1="341.7" x2="1685.1" y2="383.5" stroke="#111" stroke-width="2.6"/>
<line x1="1681.9" y1="341.7" x2="1688.3" y2="341.7" stroke="#111" stroke-width="1.8"/>
<line x1="1681.9" y1="383.5" x2="1688.3" y2="383.5" stroke="#111" stroke-width="1.8"/>
<rect x="1749.1" y="406.5" width="46.6" height="272.4" fill="#2781c1" stroke="#263240" stroke-width="1.8"/>
<line x1="1772.4" y1="375.1" x2="1772.4" y2="436.1" stroke="#111" stroke-width="2.6"/>
<line x1="1769.2" y1="375.1" x2="1775.6" y2="375.1" stroke="#111" stroke-width="1.8"/>
<line x1="1769.2" y1="436.1" x2="1775.6" y2="436.1" stroke="#111" stroke-width="1.8"/>
<rect x="1800.5" y="431.5" width="46.6" height="247.4" fill="#ff6c00" stroke="#3c2c24" stroke-width="1.8"/>
<line x1="1823.8" y1="418.8" x2="1823.8" y2="442.5" stroke="#111" stroke-width="2.6"/>
<line x1="1820.6" y1="418.8" x2="1827.0" y2="418.8" stroke="#111" stroke-width="1.8"/>
<line x1="1820.6" y1="442.5" x2="1827.0" y2="442.5" stroke="#111" stroke-width="1.8"/>
<rect x="1887.8" y="438.6" width="46.6" height="240.3" fill="#2781c1" stroke="#263240" stroke-width="1.8"/>
<line x1="1911.1" y1="425.8" x2="1911.1" y2="449.6" stroke="#111" stroke-width="2.6"/>
<line x1="1907.9" y1="425.8" x2="1914.3" y2="425.8" stroke="#111" stroke-width="1.8"/>
<line x1="1907.9" y1="449.6" x2="1914.3" y2="449.6" stroke="#111" stroke-width="1.8"/>
<rect x="1939.2" y="515.6" width="46.6" height="163.3" fill="#ff6c00" stroke="#3c2c24" stroke-width="1.8"/>
<line x1="1962.5" y1="508.3" x2="1962.5" y2="521.1" stroke="#111" stroke-width="2.6"/>
<line x1="1959.3" y1="508.3" x2="1965.7" y2="508.3" stroke="#111" stroke-width="1.8"/>
<line x1="1959.3" y1="521.1" x2="1965.7" y2="521.1" stroke="#111" stroke-width="1.8"/>
<rect x="2026.5" y="516.2" width="46.6" height="162.7" fill="#2781c1" stroke="#263240" stroke-width="1.8"/>
<line x1="2049.8" y1="507.3" x2="2049.8" y2="523.3" stroke="#111" stroke-width="2.6"/>
<line x1="2046.6" y1="507.3" x2="2053.0" y2="507.3" stroke="#111" stroke-width="1.8"/>
<line x1="2046.6" y1="523.3" x2="2053.0" y2="523.3" stroke="#111" stroke-width="1.8"/>
<rect x="2077.9" y="590.0" width="46.6" height="88.9" fill="#ff6c00" stroke="#3c2c24" stroke-width="1.8"/>
<line x1="2101.2" y1="583.3" x2="2101.2" y2="594.9" stroke="#111" stroke-width="2.6"/>
<line x1="2098.0" y1="583.3" x2="2104.4" y2="583.3" stroke="#111" stroke-width="1.8"/>
<line x1="2098.0" y1="594.9" x2="2104.4" y2="594.9" stroke="#111" stroke-width="1.8"/>
<rect x="2165.2" y="435.4" width="46.6" height="243.5" fill="#2781c1" stroke="#263240" stroke-width="1.8"/>
<line x1="2188.5" y1="421.7" x2="2188.5" y2="447.3" stroke="#111" stroke-width="2.6"/>
<line x1="2185.3" y1="421.7" x2="2191.7" y2="421.7" stroke="#111" stroke-width="1.8"/>
<line x1="2185.3" y1="447.3" x2="2191.7" y2="447.3" stroke="#111" stroke-width="1.8"/>
<rect x="2216.6" y="505.3" width="46.6" height="173.6" fill="#ff6c00" stroke="#3c2c24" stroke-width="1.8"/>
<line x1="2239.9" y1="497.4" x2="2239.9" y2="511.5" stroke="#111" stroke-width="2.6"/>
<line x1="2236.7" y1="497.4" x2="2243.1" y2="497.4" stroke="#111" stroke-width="1.8"/>
<line x1="2236.7" y1="511.5" x2="2243.1" y2="511.5" stroke="#111" stroke-width="1.8"/>
<rect x="2303.9" y="512.4" width="46.6" height="166.5" fill="#2781c1" stroke="#263240" stroke-width="1.8"/>
<line x1="2327.2" y1="501.9" x2="2327.2" y2="521.1" stroke="#111" stroke-width="2.6"/>
<line x1="2324.0" y1="501.9" x2="2330.4" y2="501.9" stroke="#111" stroke-width="1.8"/>
<line x1="2324.0" y1="521.1" x2="2330.4" y2="521.1" stroke="#111" stroke-width="1.8"/>
<rect x="2355.3" y="549.6" width="46.6" height="129.3" fill="#ff6c00" stroke="#3c2c24" stroke-width="1.8"/>
<line x1="2378.6" y1="524.7" x2="2378.6" y2="572.7" stroke="#111" stroke-width="2.6"/>
<line x1="2375.4" y1="524.7" x2="2381.8" y2="524.7" stroke="#111" stroke-width="1.8"/>
<line x1="2375.4" y1="572.7" x2="2381.8" y2="572.7" stroke="#111" stroke-width="1.8"/>
<rect x="1450.3" y="123.9" width="971.0" height="555.0" fill="none" stroke="#3a3a3a" stroke-width="2.4"/>
<text x="1391.0" y="691.9" font-size="40.00" fill="#111">0</text>
<line x1="1450.3" y1="567.9" x2="1463.3" y2="567.9" stroke="#3a3a3a" stroke-width="2.2"/>
<text x="1391.7" y="580.9" font-size="40.00" fill="#111">2</text>
<line x1="1450.3" y1="456.9" x2="1463.3" y2="456.9" stroke="#3a3a3a" stroke-width="2.2"/>
<text x="1391.0" y="469.9" font-size="40.00" fill="#111">4</text>
<line x1="1450.3" y1="345.9" x2="1463.3" y2="345.9" stroke="#3a3a3a" stroke-width="2.2"/>
<text x="1391.7" y="358.9" font-size="40.00" fill="#111">6</text>
<line x1="1450.3" y1="234.9" x2="1463.3" y2="234.9" stroke="#3a3a3a" stroke-width="2.2"/>
<text x="1391.7" y="247.9" font-size="40.00" fill="#111">8</text>
<text x="1368.8" y="136.9" font-size="40.00" fill="#111">10</text>
<text x="1528.8" y="319.2" font-size="45.00" font-weight="bold" fill="#000" letter-spacing="1">**</text>
<text x="1945.0" y="510.3" font-size="45.00" font-weight="bold" fill="#000" letter-spacing="1">**</text>
<text x="2083.7" y="587.3" font-size="45.00" font-weight="bold" fill="#000" letter-spacing="1">**</text>
<text x="2222.4" y="500.6" font-size="45.00" font-weight="bold" fill="#000" letter-spacing="1">**</text>
<text x="0" y="0" font-size="50.92" font-weight="bold" text-anchor="middle" transform="translate(1313.5,401.1) rotate(-90)">Primary root length (cm)</text>
<rect x="2208.8" y="148.2" width="25.0" height="28.0" fill="#2a88cc" stroke="#101010" stroke-width="3"/>
<rect x="2211.3" y="150.7" width="20.0" height="23.0" fill="none" stroke="#38a6f2" stroke-width="2"/>
<text x="2245.7" y="173.5" font-size="36.60" font-weight="bold" fill="#000">Col-0</text>
<rect x="2208.8" y="198.8" width="25.0" height="28.0" fill="#ff6c00" stroke="#101010" stroke-width="3"/>
<rect x="2211.3" y="201.3" width="20.0" height="23.0" fill="none" stroke="#ff8a1c" stroke-width="2"/>
<text x="2250.5" y="224.5" font-size="36.60" font-weight="bold" font-style="italic" fill="#000">atvha-d2</text>
<text x="1450.8" y="738.6" font-size="42.00" font-weight="bold" fill="#000">1/2 MS</text>
<text x="1636.3" y="738.6" font-size="42.00" font-weight="bold" fill="#000">75</text>
<text x="1753.4" y="738.6" font-size="42.00" font-weight="bold" fill="#000">100</text>
<text x="1933.0" y="738.6" font-size="42.00" font-weight="bold" fill="#000">1</text>
<text x="2059.5" y="738.6" font-size="42.00" font-weight="bold" fill="#000">2</text>
<text x="2184.2" y="738.6" font-size="42.00" font-weight="bold" fill="#000">175</text>
<text x="2312.0" y="738.6" font-size="42.00" font-weight="bold" fill="#000">200</text>
<rect x="1626.3" y="754.7" width="202.8" height="10.3" fill="#000"/>
<rect x="1901.6" y="754.7" width="204.1" height="10.3" fill="#000"/>
<rect x="2181.0" y="754.7" width="204.0" height="10.3" fill="#000"/>
<text x="1626.8" y="822.6" font-size="42.00" font-weight="bold" fill="#000">NaCl (mM)</text>
<text x="1907.9" y="822.6" font-size="42" font-weight="bold">H<tspan font-size="26.0">2</tspan>O<tspan font-size="26.0">2</tspan> (mM)</text>
<text x="2153.7" y="822.6" font-size="42.00" font-weight="bold" fill="#000">Mannitol (mM)</text>
<text x="1228.5" y="63.9" font-size="60.00" font-weight="bold" fill="#000">B</text>
<rect x="1481.4" y="992.3" width="45.2" height="456.7" fill="#2781c1" stroke="#263240" stroke-width="1.8"/>
<line x1="1504.0" y1="980.1" x2="1504.0" y2="1002.6" stroke="#111" stroke-width="2.6"/>
<line x1="1500.8" y1="980.1" x2="1507.2" y2="980.1" stroke="#111" stroke-width="1.8"/>
<line x1="1500.8" y1="1002.6" x2="1507.2" y2="1002.6" stroke="#111" stroke-width="1.8"/>
<rect x="1531.4" y="987.8" width="45.2" height="461.2" fill="#ff6c00" stroke="#3c2c24" stroke-width="1.8"/>
<line x1="1554.0" y1="976.5" x2="1554.0" y2="997.2" stroke="#111" stroke-width="2.6"/>
<line x1="1550.8" y1="976.5" x2="1557.2" y2="976.5" stroke="#111" stroke-width="1.8"/>
<line x1="1550.8" y1="997.2" x2="1557.2" y2="997.2" stroke="#111" stroke-width="1.8"/>
<rect x="1618.0" y="1005.7" width="45.2" height="443.3" fill="#2781c1" stroke="#263240" stroke-width="1.8"/>
<line x1="1640.6" y1="982.8" x2="1640.6" y2="1026.8" stroke="#111" stroke-width="2.6"/>
<line x1="1637.4" y1="982.8" x2="1643.8" y2="982.8" stroke="#111" stroke-width="1.8"/>
<line x1="1637.4" y1="1026.8" x2="1643.8" y2="1026.8" stroke="#111" stroke-width="1.8"/>
<rect x="1668.0" y="1030.8" width="45.2" height="418.2" fill="#ff6c00" stroke="#3c2c24" stroke-width="1.8"/>
<line x1="1690.6" y1="1016.1" x2="1690.6" y2="1043.7" stroke="#111" stroke-width="2.6"/>
<line x1="1687.4" y1="1016.1" x2="1693.8" y2="1016.1" stroke="#111" stroke-width="1.8"/>
<line x1="1687.4" y1="1043.7" x2="1693.8" y2="1043.7" stroke="#111" stroke-width="1.8"/>
<rect x="1754.6" y="1055.2" width="45.2" height="393.8" fill="#2781c1" stroke="#263240" stroke-width="1.8"/>
<line x1="1777.2" y1="1037.5" x2="1777.2" y2="1071.0" stroke="#111" stroke-width="2.6"/>
<line x1="1774.0" y1="1037.5" x2="1780.4" y2="1037.5" stroke="#111" stroke-width="1.8"/>
<line x1="1774.0" y1="1071.0" x2="1780.4" y2="1071.0" stroke="#111" stroke-width="1.8"/>
<rect x="1804.6" y="1096.9" width="45.2" height="352.1" fill="#ff6c00" stroke="#3c2c24" stroke-width="1.8"/>
<line x1="1827.2" y1="1061.0" x2="1827.2" y2="1131.0" stroke="#111" stroke-width="2.6"/>
<line x1="1824.0" y1="1061.0" x2="1830.4" y2="1061.0" stroke="#111" stroke-width="1.8"/>
<line x1="1824.0" y1="1131.0" x2="1830.4" y2="1131.0" stroke="#111" stroke-width="1.8"/>
<rect x="1891.2" y="1016.6" width="45.2" height="432.4" fill="#2781c1" stroke="#263240" stroke-width="1.8"/>
<line x1="1913.8" y1="1006.7" x2="1913.8" y2="1024.7" stroke="#111" stroke-width="2.6"/>
<line x1="1910.6" y1="1006.7" x2="1917.0" y2="1006.7" stroke="#111" stroke-width="1.8"/>
<line x1="1910.6" y1="1024.7" x2="1917.0" y2="1024.7" stroke="#111" stroke-width="1.8"/>
<rect x="1941.2" y="1050.0" width="45.2" height="399.0" fill="#ff6c00" stroke="#3c2c24" stroke-width="1.8"/>
<line x1="1963.8" y1="1041.0" x2="1963.8" y2="1057.1" stroke="#111" stroke-width="2.6"/>
<line x1="1960.6" y1="1041.0" x2="1967.0" y2="1041.0" stroke="#111" stroke-width="1.8"/>
<line x1="1960.6" y1="1057.1" x2="1967.0" y2="1057.1" stroke="#111" stroke-width="1.8"/>
<rect x="2027.9" y="1050.0" width="45.2" height="399.0" fill="#2781c1" stroke="#263240" stroke-width="1.8"/>
<line x1="2050.5" y1="1042.4" x2="2050.5" y2="1055.8" stroke="#111" stroke-width="2.6"/>
<line x1="2047.3" y1="1042.4" x2="2053.7" y2="1042.4" stroke="#111" stroke-width="1.8"/>
<line x1="2047.3" y1="1055.8" x2="2053.7" y2="1055.8" stroke="#111" stroke-width="1.8"/>
<rect x="2077.9" y="1082.7" width="45.2" height="366.3" fill="#ff6c00" stroke="#3c2c24" stroke-width="1.8"/>
<line x1="2100.5" y1="1072.1" x2="2100.5" y2="1091.5" stroke="#111" stroke-width="2.6"/>
<line x1="2097.3" y1="1072.1" x2="2103.7" y2="1072.1" stroke="#111" stroke-width="1.8"/>
<line x1="2097.3" y1="1091.5" x2="2103.7" y2="1091.5" stroke="#111" stroke-width="1.8"/>
<rect x="2164.5" y="1180.3" width="45.2" height="268.7" fill="#2781c1" stroke="#263240" stroke-width="1.8"/>
<line x1="2187.1" y1="1168.1" x2="2187.1" y2="1190.6" stroke="#111" stroke-width="2.6"/>
<line x1="2183.9" y1="1168.1" x2="2190.3" y2="1168.1" stroke="#111" stroke-width="1.8"/>
<line x1="2183.9" y1="1190.6" x2="2190.3" y2="1190.6" stroke="#111" stroke-width="1.8"/>
<rect x="2214.5" y="1243.8" width="45.2" height="205.2" fill="#ff6c00" stroke="#3c2c24" stroke-width="1.8"/>
<line x1="2237.1" y1="1230.0" x2="2237.1" y2="1255.8" stroke="#111" stroke-width="2.6"/>
<line x1="2233.9" y1="1230.0" x2="2240.3" y2="1230.0" stroke="#111" stroke-width="1.8"/>
<line x1="2233.9" y1="1255.8" x2="2240.3" y2="1255.8" stroke="#111" stroke-width="1.8"/>
<rect x="2301.1" y="1273.3" width="45.2" height="175.7" fill="#2781c1" stroke="#263240" stroke-width="1.8"/>
<line x1="2323.7" y1="1266.6" x2="2323.7" y2="1278.3" stroke="#111" stroke-width="2.6"/>
<line x1="2320.5" y1="1266.6" x2="2326.9" y2="1266.6" stroke="#111" stroke-width="1.8"/>
<line x1="2320.5" y1="1278.3" x2="2326.9" y2="1278.3" stroke="#111" stroke-width="1.8"/>
<rect x="2351.1" y="1295.8" width="45.2" height="153.2" fill="#ff6c00" stroke="#3c2c24" stroke-width="1.8"/>
<line x1="2373.7" y1="1286.5" x2="2373.7" y2="1303.3" stroke="#111" stroke-width="2.6"/>
<line x1="2370.5" y1="1286.5" x2="2376.9" y2="1286.5" stroke="#111" stroke-width="1.8"/>
<line x1="2370.5" y1="1303.3" x2="2376.9" y2="1303.3" stroke="#111" stroke-width="1.8"/>
<rect x="1460.7" y="898.3" width="956.3" height="550.7" fill="none" stroke="#3a3a3a" stroke-width="2.4"/>
<text x="1402.8" y="1462.0" font-size="40.00" fill="#111">0</text>
<line x1="1460.7" y1="1338.9" x2="1473.7" y2="1338.9" stroke="#3a3a3a" stroke-width="2.2"/>
<text x="1403.4" y="1351.9" font-size="40.00" fill="#111">1</text>
<line x1="1460.7" y1="1228.7" x2="1473.7" y2="1228.7" stroke="#3a3a3a" stroke-width="2.2"/>
<text x="1403.4" y="1241.7" font-size="40.00" fill="#111">2</text>
<line x1="1460.7" y1="1118.6" x2="1473.7" y2="1118.6" stroke="#3a3a3a" stroke-width="2.2"/>
<text x="1403.4" y="1131.6" font-size="40.00" fill="#111">3</text>
<line x1="1460.7" y1="1008.4" x2="1473.7" y2="1008.4" stroke="#3a3a3a" stroke-width="2.2"/>
<text x="1402.8" y="1021.4" font-size="40.00" fill="#111">4</text>
<text x="1403.4" y="911.3" font-size="40.00" fill="#111">5</text>
<text x="1955.1" y="1038.3" font-size="45.00" font-weight="bold" fill="#000" letter-spacing="1">*</text>
<text x="2091.7" y="1070.3" font-size="45.00" font-weight="bold" fill="#000" letter-spacing="1">*</text>
<text x="2219.5" y="1230.5" font-size="45.00" font-weight="bold" fill="#000" letter-spacing="1">**</text>
<text x="2364.9" y="1285.5" font-size="45.00" font-weight="bold" fill="#000" letter-spacing="1">*</text>
<text x="0" y="0" font-size="50.51" font-weight="bold" text-anchor="middle" transform="translate(1313.5,1173.0) rotate(-90)">Fresh weight (mg)</text>
<rect x="2193.9" y="930.7" width="26.0" height="29.0" fill="#2a88cc" stroke="#101010" stroke-width="3"/>
<rect x="2196.4" y="933.2" width="21.0" height="24.0" fill="none" stroke="#38a6f2" stroke-width="2"/>
<text x="2232.0" y="957.2" font-size="36.60" font-weight="bold" fill="#000">Col-0</text>
<rect x="2193.9" y="982.0" width="26.0" height="29.0" fill="#ff6c00" stroke="#101010" stroke-width="3"/>
<rect x="2196.4" y="984.5" width="21.0" height="24.0" fill="none" stroke="#ff8a1c" stroke-width="2"/>
<text x="2236.2" y="1009.0" font-size="36.60" font-weight="bold" font-style="italic" fill="#000">atvha-d2</text>
<text x="1458.9" y="1508.7" font-size="42.00" font-weight="bold" fill="#000">1/2 MS</text>
<text x="1645.5" y="1508.7" font-size="42.00" font-weight="bold" fill="#000">75</text>
<text x="1761.0" y="1508.7" font-size="42.00" font-weight="bold" fill="#000">100</text>
<text x="1939.4" y="1508.7" font-size="42.00" font-weight="bold" fill="#000">1</text>
<text x="2066.7" y="1508.7" font-size="42.00" font-weight="bold" fill="#000">2</text>
<text x="2179.7" y="1508.7" font-size="42.00" font-weight="bold" fill="#000">175</text>
<text x="2309.7" y="1508.7" font-size="42.00" font-weight="bold" fill="#000">200</text>
<rect x="1634.0" y="1524.0" width="203.4" height="9.9" fill="#000"/>
<rect x="1910.0" y="1524.0" width="203.4" height="9.9" fill="#000"/>
<rect x="2178.3" y="1524.0" width="203.4" height="9.9" fill="#000"/>
<text x="1635.4" y="1590.7" font-size="42.00" font-weight="bold" fill="#000">NaCl (mM)</text>
<text x="1914.4" y="1590.7" font-size="42" font-weight="bold">H<tspan font-size="26.0">2</tspan>O<tspan font-size="26.0">2</tspan> (mM)</text>
<text x="2151.9" y="1590.7" font-size="42.00" font-weight="bold" fill="#000">Mannitol (mM)</text>
<text x="1227.5" y="871.7" font-size="60.00" font-weight="bold" fill="#000">C</text>
<rect x="1484.7" y="1763.9" width="45.2" height="462.8" fill="#2781c1" stroke="#263240" stroke-width="1.8"/>
<line x1="1507.3" y1="1734.1" x2="1507.3" y2="1791.8" stroke="#111" stroke-width="2.6"/>
<line x1="1504.1" y1="1734.1" x2="1510.5" y2="1734.1" stroke="#111" stroke-width="1.8"/>
<line x1="1504.1" y1="1791.8" x2="1510.5" y2="1791.8" stroke="#111" stroke-width="1.8"/>
<rect x="1534.7" y="1763.9" width="45.2" height="462.8" fill="#ff6c00" stroke="#3c2c24" stroke-width="1.8"/>
<line x1="1557.3" y1="1746.9" x2="1557.3" y2="1779.0" stroke="#111" stroke-width="2.6"/>
<line x1="1554.1" y1="1746.9" x2="1560.5" y2="1746.9" stroke="#111" stroke-width="1.8"/>
<line x1="1554.1" y1="1779.0" x2="1560.5" y2="1779.0" stroke="#111" stroke-width="1.8"/>
<rect x="1621.5" y="1859.2" width="45.2" height="367.5" fill="#2781c1" stroke="#263240" stroke-width="1.8"/>
<line x1="1644.1" y1="1846.4" x2="1644.1" y2="1870.2" stroke="#111" stroke-width="2.6"/>
<line x1="1640.9" y1="1846.4" x2="1647.3" y2="1846.4" stroke="#111" stroke-width="1.8"/>
<line x1="1640.9" y1="1870.2" x2="1647.3" y2="1870.2" stroke="#111" stroke-width="1.8"/>
<rect x="1671.5" y="1804.0" width="45.2" height="422.7" fill="#ff6c00" stroke="#3c2c24" stroke-width="1.8"/>
<line x1="1694.1" y1="1775.2" x2="1694.1" y2="1831.0" stroke="#111" stroke-width="2.6"/>
<line x1="1690.9" y1="1775.2" x2="1697.3" y2="1775.2" stroke="#111" stroke-width="1.8"/>
<line x1="1690.9" y1="1831.0" x2="1697.3" y2="1831.0" stroke="#111" stroke-width="1.8"/>
<rect x="1758.3" y="1933.0" width="45.2" height="293.7" fill="#2781c1" stroke="#263240" stroke-width="1.8"/>
<line x1="1780.9" y1="1899.4" x2="1780.9" y2="1964.8" stroke="#111" stroke-width="2.6"/>
<line x1="1777.7" y1="1899.4" x2="1784.1" y2="1899.4" stroke="#111" stroke-width="1.8"/>
<line x1="1777.7" y1="1964.8" x2="1784.1" y2="1964.8" stroke="#111" stroke-width="1.8"/>
<rect x="1808.3" y="1894.5" width="45.2" height="332.2" fill="#ff6c00" stroke="#3c2c24" stroke-width="1.8"/>
<line x1="1830.9" y1="1878.5" x2="1830.9" y2="1908.7" stroke="#111" stroke-width="2.6"/>
<line x1="1827.7" y1="1878.5" x2="1834.1" y2="1878.5" stroke="#111" stroke-width="1.8"/>
<line x1="1827.7" y1="1908.7" x2="1834.1" y2="1908.7" stroke="#111" stroke-width="1.8"/>
<rect x="1895.1" y="1967.6" width="45.2" height="259.1" fill="#2781c1" stroke="#263240" stroke-width="1.8"/>
<line x1="1917.7" y1="1954.8" x2="1917.7" y2="1978.6" stroke="#111" stroke-width="2.6"/>
<line x1="1914.5" y1="1954.8" x2="1920.9" y2="1954.8" stroke="#111" stroke-width="1.8"/>
<line x1="1914.5" y1="1978.6" x2="1920.9" y2="1978.6" stroke="#111" stroke-width="1.8"/>
<rect x="1945.1" y="2006.8" width="45.2" height="219.9" fill="#ff6c00" stroke="#3c2c24" stroke-width="1.8"/>
<line x1="1967.7" y1="1998.5" x2="1967.7" y2="2013.3" stroke="#111" stroke-width="2.6"/>
<line x1="1964.5" y1="1998.5" x2="1970.9" y2="1998.5" stroke="#111" stroke-width="1.8"/>
<line x1="1964.5" y1="2013.3" x2="1970.9" y2="2013.3" stroke="#111" stroke-width="1.8"/>
<rect x="2031.9" y="2051.1" width="45.2" height="175.6" fill="#2781c1" stroke="#263240" stroke-width="1.8"/>
<line x1="2054.5" y1="2042.2" x2="2054.5" y2="2058.2" stroke="#111" stroke-width="2.6"/>
<line x1="2051.3" y1="2042.2" x2="2057.7" y2="2042.2" stroke="#111" stroke-width="1.8"/>
<line x1="2051.3" y1="2058.2" x2="2057.7" y2="2058.2" stroke="#111" stroke-width="1.8"/>
<rect x="2081.9" y="2105.6" width="45.2" height="121.1" fill="#ff6c00" stroke="#3c2c24" stroke-width="1.8"/>
<line x1="2104.5" y1="2098.3" x2="2104.5" y2="2111.1" stroke="#111" stroke-width="2.6"/>
<line x1="2101.3" y1="2098.3" x2="2107.7" y2="2098.3" stroke="#111" stroke-width="1.8"/>
<line x1="2101.3" y1="2111.1" x2="2107.7" y2="2111.1" stroke="#111" stroke-width="1.8"/>
<rect x="2168.7" y="1963.1" width="45.2" height="263.6" fill="#2781c1" stroke="#263240" stroke-width="1.8"/>
<line x1="2191.3" y1="1947.1" x2="2191.3" y2="1977.3" stroke="#111" stroke-width="2.6"/>
<line x1="2188.1" y1="1947.1" x2="2194.5" y2="1947.1" stroke="#111" stroke-width="1.8"/>
<line x1="2188.1" y1="1977.3" x2="2194.5" y2="1977.3" stroke="#111" stroke-width="1.8"/>
<rect x="2218.7" y="1993.3" width="45.2" height="233.4" fill="#ff6c00" stroke="#3c2c24" stroke-width="1.8"/>
<line x1="2241.3" y1="1982.2" x2="2241.3" y2="2002.7" stroke="#111" stroke-width="2.6"/>
<line x1="2238.1" y1="1982.2" x2="2244.5" y2="1982.2" stroke="#111" stroke-width="1.8"/>
<line x1="2238.1" y1="2002.7" x2="2244.5" y2="2002.7" stroke="#111" stroke-width="1.8"/>
<rect x="2305.5" y="2046.6" width="45.2" height="180.1" fill="#2781c1" stroke="#263240" stroke-width="1.8"/>
<line x1="2328.1" y1="2036.7" x2="2328.1" y2="2054.7" stroke="#111" stroke-width="2.6"/>
<line x1="2324.9" y1="2036.7" x2="2331.3" y2="2036.7" stroke="#111" stroke-width="1.8"/>
<line x1="2324.9" y1="2054.7" x2="2331.3" y2="2054.7" stroke="#111" stroke-width="1.8"/>
<rect x="2355.5" y="2052.3" width="45.2" height="174.4" fill="#ff6c00" stroke="#3c2c24" stroke-width="1.8"/>
<line x1="2378.1" y1="2019.3" x2="2378.1" y2="2083.5" stroke="#111" stroke-width="2.6"/>
<line x1="2374.9" y1="2019.3" x2="2381.3" y2="2019.3" stroke="#111" stroke-width="1.8"/>
<line x1="2374.9" y1="2083.5" x2="2381.3" y2="2083.5" stroke="#111" stroke-width="1.8"/>
<rect x="1463.9" y="1670.2" width="957.6" height="556.5" fill="none" stroke="#3a3a3a" stroke-width="2.4"/>
<text x="1402.8" y="2239.7" font-size="40.00" fill="#111">0</text>
<line x1="1463.9" y1="2133.9" x2="1476.9" y2="2133.9" stroke="#3a3a3a" stroke-width="2.2"/>
<text x="1380.5" y="2146.9" font-size="40.00" fill="#111">20</text>
<line x1="1463.9" y1="2041.2" x2="1476.9" y2="2041.2" stroke="#3a3a3a" stroke-width="2.2"/>
<text x="1380.5" y="2054.2" font-size="40.00" fill="#111">40</text>
<line x1="1463.9" y1="1948.4" x2="1476.9" y2="1948.4" stroke="#3a3a3a" stroke-width="2.2"/>
<text x="1380.5" y="1961.4" font-size="40.00" fill="#111">60</text>
<line x1="1463.9" y1="1855.7" x2="1476.9" y2="1855.7" stroke="#3a3a3a" stroke-width="2.2"/>
<text x="1380.5" y="1868.7" font-size="40.00" fill="#111">80</text>
<line x1="1463.9" y1="1763.0" x2="1476.9" y2="1763.0" stroke="#3a3a3a" stroke-width="2.2"/>
<text x="1358.3" y="1776.0" font-size="40.00" fill="#111">100</text>
<text x="1358.3" y="1683.2" font-size="40.00" fill="#111">120</text>
<text x="1676.6" y="1773.0" font-size="45.00" font-weight="bold" fill="#000" letter-spacing="1">**</text>
<text x="1950.2" y="1998.9" font-size="45.00" font-weight="bold" fill="#000" letter-spacing="1">**</text>
<text x="2087.0" y="2103.5" font-size="45.00" font-weight="bold" fill="#000" letter-spacing="1">**</text>
<text x="0" y="0" font-size="50.72" font-weight="bold" text-anchor="middle" transform="translate(1313.5,1941.3) rotate(-90)">Relative root length (%)</text>
<rect x="2202.6" y="1693.9" width="24.5" height="28.5" fill="#2a88cc" stroke="#101010" stroke-width="3"/>
<rect x="2205.1" y="1696.4" width="19.5" height="23.5" fill="none" stroke="#38a6f2" stroke-width="2"/>
<text x="2239.5" y="1719.8" font-size="36.60" font-weight="bold" fill="#000">Col-0</text>
<rect x="2202.6" y="1744.8" width="24.5" height="28.5" fill="#ff6c00" stroke="#101010" stroke-width="3"/>
<rect x="2205.1" y="1747.3" width="19.5" height="23.5" fill="none" stroke="#ff8a1c" stroke-width="2"/>
<text x="2243.7" y="1771.0" font-size="36.60" font-weight="bold" font-style="italic" fill="#000">atvha-d2</text>
<text x="1464.2" y="2286.8" font-size="42.00" font-weight="bold" fill="#000">1/2 MS</text>
<text x="1648.7" y="2286.8" font-size="42.00" font-weight="bold" fill="#000">75</text>
<text x="1766.2" y="2286.8" font-size="42.00" font-weight="bold" fill="#000">100</text>
<text x="1944.4" y="2286.8" font-size="42.00" font-weight="bold" fill="#000">1</text>
<text x="2072.3" y="2286.8" font-size="42.00" font-weight="bold" fill="#000">2</text>
<text x="2189.6" y="2286.8" font-size="42.00" font-weight="bold" fill="#000">175</text>
<text x="2317.5" y="2286.8" font-size="42.00" font-weight="bold" fill="#000">200</text>
<rect x="1640.4" y="2302.4" width="202.2" height="10.9" fill="#000"/>
<rect x="1916.4" y="2302.4" width="202.2" height="10.9" fill="#000"/>
<rect x="2186.0" y="2302.4" width="203.4" height="10.9" fill="#000"/>
<text x="1640.1" y="2370.6" font-size="42.00" font-weight="bold" fill="#000">NaCl (mM)</text>
<text x="1917.9" y="2370.6" font-size="42" font-weight="bold">H<tspan font-size="26.0">2</tspan>O<tspan font-size="26.0">2</tspan> (mM)</text>
<text x="2158.4" y="2370.6" font-size="42.00" font-weight="bold" fill="#000">Mannitol (mM)</text>
<text x="1221.7" y="1629.5" font-size="60.00" font-weight="bold" fill="#000">D</text>
</svg>
</body></html>
